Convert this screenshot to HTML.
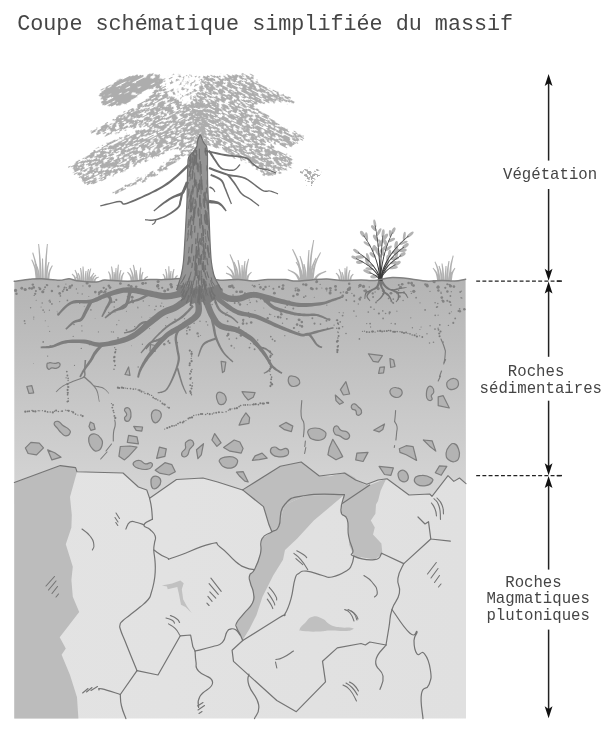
<!DOCTYPE html>
<html><head><meta charset="utf-8"><title>Coupe</title>
<style>
html,body{margin:0;padding:0;background:#fff;}
body{width:609px;height:740px;overflow:hidden;font-family:"Liberation Mono",monospace;}
svg{display:block;}
text{font-family:"Liberation Mono",monospace;fill:#454545;white-space:pre;}
</style></head><body>
<svg width="609" height="740" viewBox="0 0 609 740">
<defs>
<linearGradient id="soilg" gradientUnits="userSpaceOnUse" x1="0" y1="279" x2="0" y2="504">
<stop offset="0" stop-color="#b4b4b4"/><stop offset="0.25" stop-color="#bcbcbc"/><stop offset="0.6" stop-color="#c9c9c9"/><stop offset="1" stop-color="#d6d6d6"/>
</linearGradient>
<linearGradient id="rockg" x1="0" y1="0" x2="1" y2="0">
<stop offset="0" stop-color="#e3e3e3"/><stop offset="1" stop-color="#e0e0e0"/>
</linearGradient>
<clipPath id="blk"><rect x="14.3" y="200" width="451.7" height="518.6"/></clipPath>
</defs>
<path d="M14.3 281.3 C16.9 281.0 25.2 279.7 29.7 279.3 C34.2 278.9 36.6 278.5 41.5 278.7 C46.4 278.9 54.7 280.3 59.3 280.3 C63.9 280.3 66.1 278.6 69.1 278.7 C72.0 278.8 72.4 280.2 77.0 280.7 C81.6 281.2 92.1 282.0 96.7 281.9 C101.3 281.8 100.7 280.0 104.6 279.9 C108.5 279.8 115.3 280.8 120.3 281.0 C125.3 281.2 129.9 281.2 134.8 281.0 C139.7 280.8 144.7 279.8 149.6 279.6 C154.5 279.4 159.1 279.8 164.3 279.6 C169.5 279.4 172.5 278.6 181.0 278.6 C189.5 278.6 208.9 279.3 215.5 279.6 C222.1 279.9 216.7 280.2 220.5 280.2 C224.3 280.2 232.8 279.5 238.2 279.6 C243.6 279.7 248.1 281.0 253.0 281.0 C257.9 281.0 262.4 279.8 267.8 279.6 C273.2 279.4 280.9 279.4 285.5 279.6 C290.1 279.9 291.3 281.1 295.6 281.1 C299.9 281.2 306.0 280.2 311.2 279.9 C316.4 279.5 321.6 278.9 326.8 279.0 C332.0 279.1 336.7 280.4 342.4 280.5 C348.1 280.6 355.9 279.9 361.1 279.9 C366.3 279.9 368.4 280.9 373.6 280.5 C378.8 280.1 386.1 277.9 392.3 277.6 C398.5 277.4 405.3 278.4 411.0 279.0 C416.7 279.6 421.4 280.9 426.6 281.1 C431.8 281.4 437.5 280.5 442.2 280.5 C446.9 280.5 450.8 281.3 454.7 281.1 C458.6 280.9 463.8 279.5 465.6 279.2 L466.0 504 L14.3 504 Z" fill="url(#soilg)"/>
<path d="M14.3 482.4 L60.3 465.6 L75.6 467.6 L77.0 471.8 L123.0 473.0 L138.4 487.0 L146.8 490.0 L149.6 498.3 L176.5 479.5 L203.0 478.0 L217.6 482.0 L242.6 489.9 L280.3 466.2 L301.2 462.0 L319.3 476.0 L344.5 473.0 L355.6 480.0 L366.8 484.3 L378.0 480.0 L387.0 478.7 L409.0 495.0 L429.7 494.0 L432.0 496.4 L448.0 475.7 L453.8 481.4 L459.5 478.0 L466.0 483.7 L466.0 718.6 L14.3 718.6Z" fill="url(#rockg)"/>
<path d="M14.3 482.4 L60.3 465.6 L75.6 467.6 L77.0 471.8 L70.0 496.9 L71.8 515.0 L71.4 527.6 L65.8 544.3 L72.8 566.7 L71.4 580.0 L72.8 596.8 L79.2 612.0 L59.7 637.2 L65.8 648.4 L61.6 654.8 L70.0 675.0 L77.0 697.3 L78.4 718.6 L14.3 718.6Z" fill="#bcbcbc"/>
<path d="M242.6 489.9 L280.3 466.2 L301.2 462.0 L319.3 476.0 L330.0 476.3 L345.5 472.3 L354.7 477.5 L358.0 481.0 L364.5 484.4 L369.7 485.0 L343.0 502.5 L344.4 494.7 L305.4 495.5 L284.4 505.0 L278.9 526.0 L271.9 531.8 L269.0 524.8 L263.5 506.6Z" fill="#bebebe"/>
<path d="M284.4 505.0 L305.4 495.5 L344.4 494.7 L313.8 520.6 L297.0 538.8 L285.0 549.9 L283.0 559.7 L273.2 575.5 L262.4 597.1 L256.5 614.9 L249.6 628.7 L243.6 638.5 L242.7 640.5 L239.7 633.6 L236.7 627.7 L236.7 622.8 L243.6 613.9 L252.5 603.0 L253.5 593.2 L250.5 583.3 L249.6 575.5 L254.5 569.6 L260.4 553.8 L262.0 538.8 L271.9 531.8 L278.9 526.0Z" fill="#bdbdbd"/>
<path d="M342.6 503.3 L369.7 485.0 L386.3 478.6 L380.6 490.7 L378.0 501.0 L376.0 504.5 L375.4 513.7 L370.8 520.4 L374.8 527.5 L373.0 534.6 L381.4 543.5 L382.5 553.9 L374.5 559.6 L353.8 556.1 L349.2 544.7 L348.0 521.7 L347.2 519.4 L341.0 511.4Z" fill="#bebebe"/>
<path d="M161.8 585.5 L172.2 583.6 L180.3 580.6 L183.7 583.3 L181.8 589.2 L183.2 599.6 L186.9 606.2 L191.7 612.9 L185.5 606.9 L181.0 604.7 L178.8 593.6 L177.3 587.0 L167.7 589.2 L167.0 586.6Z" fill="#c1c1c1"/>
<path d="M299.8 629.0 C300.4 626.9 301.6 626.3 305.0 623.0 C308.4 619.7 307.9 617.9 312.6 616.8 C317.3 615.7 317.8 616.7 322.5 618.8 C327.2 620.9 325.6 622.4 330.3 624.7 C335.0 627.0 334.5 626.5 340.0 627.3 C345.5 628.1 347.7 627.2 351.0 627.8 C354.3 628.4 354.1 628.6 352.5 629.5 C350.9 630.4 351.0 630.7 345.0 631.0 C339.0 631.3 337.1 630.4 330.0 630.6 C322.9 630.8 325.8 631.5 318.5 631.6 C311.2 631.7 307.8 631.7 302.8 631.0 C297.8 630.3 299.2 631.1 299.8 629.0Z" fill="#c0c0c0"/>
<path d="M14.3 482.4 L60.3 465.6 L75.6 467.6 L77.0 471.8 L123.0 473.0 L138.4 487.0 L146.8 490.0 L149.6 498.3 L176.5 479.5 L203.0 478.0 L217.6 482.0 L242.6 489.9 L280.3 466.2 L301.2 462.0 L319.3 476.0 L344.5 473.0 L355.6 480.0 L366.8 484.3 L378.0 480.0 L387.0 478.7 L409.0 495.0 L429.7 494.0 L432.0 496.4 L448.0 475.7 L453.8 481.4 L459.5 478.0 L466.0 483.7" fill="none" stroke="#747474" stroke-width="1.1" stroke-linecap="round" stroke-linejoin="round"/>
<path d="M242.6 489.9 L263.5 506.6 L269.0 524.8 L271.9 531.8" fill="none" stroke="#747474" stroke-width="1.2" stroke-linecap="round" stroke-linejoin="round"/>
<path d="M344.4 494.7 C334.0 494.9 321.4 492.8 305.4 495.5 C289.4 498.2 291.5 496.9 284.4 505.0 C277.3 513.1 282.2 518.9 278.9 526.0 C275.6 533.1 276.4 528.4 271.9 531.8 C267.4 535.2 265.1 532.9 262.0 538.8 C258.9 544.7 262.4 545.6 260.4 553.8 C258.4 562.0 257.4 563.8 254.5 569.6 C251.6 575.4 250.7 571.8 249.6 575.5 C248.5 579.2 249.5 578.6 250.5 583.3 C251.5 588.0 253.0 587.9 253.5 593.2 C254.0 598.5 255.1 597.5 252.5 603.0 C249.9 608.5 247.8 608.6 243.6 613.9 C239.4 619.2 238.5 619.1 236.7 622.8 C234.9 626.5 235.9 624.8 236.7 627.7 C237.5 630.6 238.1 630.2 239.7 633.6 C241.3 637.0 241.9 638.7 242.7 640.5" fill="none" stroke="#747474" stroke-width="1.2" stroke-linecap="round" stroke-linejoin="round"/>
<path d="M369.7 485.0 L342.6 503.3" fill="none" stroke="#747474" stroke-width="1.2" stroke-linecap="round" stroke-linejoin="round"/>
<path d="M344.4 494.7 C343.5 499.2 340.3 504.8 341.0 511.4 C341.7 518.0 345.2 512.8 347.2 519.4 C349.2 526.0 347.1 527.9 348.6 536.0 C350.1 544.1 351.4 544.5 352.8 549.9 C354.2 555.3 348.0 553.5 353.8 556.1 C359.6 558.7 367.1 560.3 374.5 559.6 C381.9 558.9 379.7 555.0 381.6 553.3" fill="none" stroke="#747474" stroke-width="1.2" stroke-linecap="round" stroke-linejoin="round"/>
<path d="M149.6 498.3 C150.1 500.9 150.8 502.4 151.5 508.0 C152.2 513.6 152.2 516.2 152.4 519.2" fill="none" stroke="#747474" stroke-width="1.2" stroke-linecap="round" stroke-linejoin="round"/>
<path d="M152.4 519.2 C150.2 520.7 144.6 522.1 144.0 524.8 C143.4 527.5 147.0 526.5 150.0 529.5 C153.0 532.5 154.0 532.4 155.2 536.0 C156.4 539.6 154.9 539.3 154.5 543.0 C154.1 546.7 153.7 545.2 153.8 550.0 C153.9 554.8 154.6 555.1 155.0 561.0 C155.4 566.9 155.5 566.1 155.2 572.0 C154.9 577.9 154.9 577.4 153.8 583.0 C152.7 588.6 152.7 588.6 151.2 593.0 C149.7 597.4 151.2 595.8 148.2 599.5 C145.2 603.2 144.9 602.9 140.0 607.0 C135.1 611.1 134.7 611.3 130.0 615.0 C125.3 618.7 125.2 618.3 122.5 621.0 C119.8 623.7 120.5 622.6 120.0 625.0 C119.5 627.4 119.3 625.7 120.6 630.0 C121.9 634.3 122.2 634.1 125.0 641.0 C127.8 647.9 127.8 648.1 131.0 656.0 C134.2 663.9 135.4 666.8 137.0 670.7" fill="none" stroke="#747474" stroke-width="1.2" stroke-linecap="round" stroke-linejoin="round"/>
<path d="M137.0 670.7 L120.3 694.5" fill="none" stroke="#747474" stroke-width="1.2" stroke-linecap="round" stroke-linejoin="round"/>
<path d="M120.3 694.5 C120.6 697.6 120.0 699.6 121.5 706.0 C123.0 712.4 124.7 715.2 125.9 718.6" fill="none" stroke="#747474" stroke-width="1.2" stroke-linecap="round" stroke-linejoin="round"/>
<path d="M144.0 524.8 C142.1 524.2 140.7 523.2 137.0 522.5 C133.3 521.8 133.0 520.3 130.0 522.0 C127.0 523.7 127.0 527.1 125.9 529.0" fill="none" stroke="#747474" stroke-width="1.2" stroke-linecap="round" stroke-linejoin="round"/>
<path d="M137.0 670.7 L158.0 675.0 L180.3 635.8" fill="none" stroke="#747474" stroke-width="1.2" stroke-linecap="round" stroke-linejoin="round"/>
<path d="M120.3 694.5 C115.4 693.0 107.7 690.1 102.0 688.9 C96.3 687.7 99.8 689.7 99.0 690.0" fill="none" stroke="#747474" stroke-width="1.2" stroke-linecap="round" stroke-linejoin="round"/>
<path d="M153.8 550.0 C157.1 552.0 160.6 555.6 166.3 557.5 C172.0 559.4 163.4 560.5 175.0 557.0 C186.6 553.5 197.8 546.9 209.8 544.2 C221.8 541.5 213.1 542.2 220.0 546.9 C226.9 551.6 229.0 556.2 235.8 561.7 C242.6 567.2 240.6 565.5 245.6 567.6 C250.6 569.7 252.1 569.1 254.5 569.6" fill="none" stroke="#747474" stroke-width="1.2" stroke-linecap="round" stroke-linejoin="round"/>
<path d="M240.0 635.0 C238.9 633.6 238.2 631.4 235.7 629.8 C233.2 628.2 232.9 628.5 230.5 629.1 C228.1 629.7 229.0 628.6 226.8 632.1 C224.6 635.6 226.3 638.5 222.4 642.4 C218.5 646.3 219.4 644.5 212.1 646.8 C204.8 649.1 199.6 649.9 195.1 651.0" fill="none" stroke="#747474" stroke-width="1.2" stroke-linecap="round" stroke-linejoin="round"/>
<path d="M195.1 651.0 L192.9 646.8 L190.6 635.0 L180.3 635.8" fill="none" stroke="#747474" stroke-width="1.2" stroke-linecap="round" stroke-linejoin="round"/>
<path d="M195.1 651.0 C195.3 653.9 195.1 656.6 196.0 662.0 C196.9 667.4 194.2 665.8 198.6 671.2 C203.0 676.6 212.2 675.7 212.6 682.4 C213.0 689.1 203.7 689.6 200.0 696.3 C196.3 703.0 199.0 704.5 198.6 707.5" fill="none" stroke="#747474" stroke-width="1.2" stroke-linecap="round" stroke-linejoin="round"/>
<path d="M242.7 640.5 C252.4 634.4 267.8 624.9 279.1 617.8 C290.4 610.7 281.9 618.9 285.0 613.9 C288.1 608.9 288.3 608.3 290.9 599.1 C293.5 589.9 292.8 586.2 294.9 579.4 C297.0 572.6 295.7 575.7 298.8 573.5 C301.9 571.3 300.4 570.6 306.7 571.1 C313.0 571.6 315.8 573.9 322.5 575.5 C329.2 577.1 325.7 578.2 332.0 577.0 C338.3 575.8 341.0 574.2 346.2 571.0 C351.4 567.8 349.5 569.0 351.5 565.0 C353.5 561.0 353.2 558.5 353.8 556.1" fill="none" stroke="#747474" stroke-width="1.2" stroke-linecap="round" stroke-linejoin="round"/>
<path d="M242.7 640.5 L232.1 650.3 L233.5 661.4 L276.8 700.5 L296.3 711.7 L325.5 681.9 L322.5 661.2 L337.3 647.9 L361.0 643.5 L365.4 645.0 L369.8 642.0 L386.0 645.0" fill="none" stroke="#747474" stroke-width="1.2" stroke-linecap="round" stroke-linejoin="round"/>
<path d="M248.9 674.0 C248.9 677.0 246.3 677.0 248.9 685.2 C251.5 693.4 257.1 695.8 258.6 704.7 C260.1 713.6 255.6 714.9 254.5 718.6" fill="none" stroke="#747474" stroke-width="1.2" stroke-linecap="round" stroke-linejoin="round"/>
<path d="M403.8 563.6 C402.2 567.5 399.1 570.5 397.9 578.4 C396.7 586.3 401.0 584.9 399.4 593.2 C397.8 601.5 394.8 600.5 392.0 609.5 C389.2 618.5 390.6 617.5 389.0 627.0 C387.4 636.5 386.8 640.2 386.0 645.0" fill="none" stroke="#747474" stroke-width="1.2" stroke-linecap="round" stroke-linejoin="round"/>
<path d="M381.6 553.3 L403.8 563.6 L430.8 539.0" fill="none" stroke="#747474" stroke-width="1.2" stroke-linecap="round" stroke-linejoin="round"/>
<path d="M392.0 609.5 C396.7 615.8 403.0 627.1 409.7 633.0 C416.4 638.9 415.9 629.6 417.0 631.6 C418.1 633.6 414.0 634.6 414.0 640.5 C414.0 646.4 414.2 650.3 417.0 653.8 C419.8 657.3 420.9 649.5 424.5 653.8 C428.1 658.1 429.2 661.7 430.4 670.0 C431.6 678.3 431.3 678.5 428.9 684.8 C426.5 691.1 423.1 684.7 421.5 693.7 C419.9 702.7 422.6 712.0 423.0 718.6" fill="none" stroke="#747474" stroke-width="1.2" stroke-linecap="round" stroke-linejoin="round"/>
<path d="M386.0 645.0 C383.3 649.3 376.5 652.9 375.7 661.2 C374.9 669.5 381.9 668.5 383.0 676.0 C384.1 683.5 380.8 685.8 380.0 689.3" fill="none" stroke="#747474" stroke-width="1.2" stroke-linecap="round" stroke-linejoin="round"/>
<path d="M418.0 517.0 L425.0 524.0 L428.5 521.7 L430.8 539.0 L450.3 541.2" fill="none" stroke="#747474" stroke-width="1.2" stroke-linecap="round" stroke-linejoin="round"/>
<path d="M116.0 513.0 L119.5 518.5" stroke="#747474" stroke-width="1.1" stroke-linecap="round" fill="none"/>
<path d="M115.0 517.5 L118.0 522.0" stroke="#747474" stroke-width="1.1" stroke-linecap="round" fill="none"/>
<path d="M115.8 522.5 L117.8 525.5" stroke="#747474" stroke-width="1.1" stroke-linecap="round" fill="none"/>
<path d="M82.0 529.0 C84.7 531.3 86.1 530.9 90.0 536.0 C93.9 541.1 93.0 539.6 93.8 544.3 C94.6 549.0 92.9 548.1 92.4 550.0" fill="none" stroke="#747474" stroke-width="1.1" stroke-linecap="round"/>
<path d="M46.0 586.0 L54.5 576.5" stroke="#747474" stroke-width="1.1" stroke-linecap="round" fill="none"/>
<path d="M48.5 590.0 L56.0 581.0" stroke="#747474" stroke-width="1.1" stroke-linecap="round" fill="none"/>
<path d="M52.0 593.5 L57.5 586.5" stroke="#747474" stroke-width="1.1" stroke-linecap="round" fill="none"/>
<path d="M56.0 597.0 L58.5 594.0" stroke="#747474" stroke-width="1.1" stroke-linecap="round" fill="none"/>
<path d="M82.6 693.0 L88.0 688.5" stroke="#747474" stroke-width="1.1" stroke-linecap="round" fill="none"/>
<path d="M86.5 692.0 L92.0 687.5" stroke="#747474" stroke-width="1.1" stroke-linecap="round" fill="none"/>
<path d="M91.0 690.5 L97.5 686.5" stroke="#747474" stroke-width="1.1" stroke-linecap="round" fill="none"/>
<path d="M210.9 578.1 L221.2 591.4" stroke="#747474" stroke-width="1.1" stroke-linecap="round" fill="none"/>
<path d="M209.1 583.6 L218.3 594.4" stroke="#747474" stroke-width="1.1" stroke-linecap="round" fill="none"/>
<path d="M209.8 591.9 L215.8 598.1" stroke="#747474" stroke-width="1.1" stroke-linecap="round" fill="none"/>
<path d="M207.9 596.3 L212.1 601.3" stroke="#747474" stroke-width="1.1" stroke-linecap="round" fill="none"/>
<path d="M206.9 603.2 L209.1 605.5" stroke="#747474" stroke-width="1.1" stroke-linecap="round" fill="none"/>
<path d="M166.0 618.0 C168.1 618.7 169.4 618.5 172.2 620.2 C175.0 621.9 173.7 622.2 174.5 623.2" fill="none" stroke="#747474" stroke-width="1.1" stroke-linecap="round"/>
<path d="M170.4 615.5 C172.5 616.6 173.5 616.5 176.6 618.8 C179.7 621.1 178.6 621.3 179.6 622.5" fill="none" stroke="#747474" stroke-width="1.1" stroke-linecap="round"/>
<path d="M168.5 623.9 C170.7 625.4 171.4 624.7 175.1 628.4 C178.8 632.1 178.1 632.8 179.6 635.0" fill="none" stroke="#747474" stroke-width="1.1" stroke-linecap="round"/>
<path d="M197.5 706.0 L203.0 702.5" stroke="#747474" stroke-width="1.1" stroke-linecap="round" fill="none"/>
<path d="M198.0 710.0 L204.5 705.5" stroke="#747474" stroke-width="1.1" stroke-linecap="round" fill="none"/>
<path d="M199.0 713.5 L202.0 711.5" stroke="#747474" stroke-width="1.1" stroke-linecap="round" fill="none"/>
<path d="M293.9 553.4 C296.2 555.5 296.2 554.3 300.8 559.7 C305.4 565.1 305.4 566.3 307.7 569.6" fill="none" stroke="#747474" stroke-width="1.1" stroke-linecap="round"/>
<path d="M296.8 550.8 C299.1 552.1 300.4 552.5 303.7 554.8 C307.0 557.1 305.7 556.7 306.7 557.7" fill="none" stroke="#747474" stroke-width="1.1" stroke-linecap="round"/>
<path d="M295.9 558.7 L302.8 564.6" fill="none" stroke="#747474" stroke-width="1.1" stroke-linecap="round"/>
<path d="M269.3 587.3 C271.3 589.9 272.7 591.0 275.2 595.2 C277.7 599.4 276.2 598.4 276.7 600.0" fill="none" stroke="#747474" stroke-width="1.1" stroke-linecap="round"/>
<path d="M267.9 592.8 C269.7 595.5 270.9 596.9 273.2 601.0 C275.5 605.1 274.3 603.7 274.8 605.0" fill="none" stroke="#747474" stroke-width="1.1" stroke-linecap="round"/>
<path d="M267.3 599.1 C268.6 601.1 269.4 601.8 271.2 605.0 C273.0 608.2 272.3 607.4 272.8 608.6" fill="none" stroke="#747474" stroke-width="1.1" stroke-linecap="round"/>
<path d="M363.9 575.5 C366.6 577.7 367.6 576.6 372.0 582.0 C376.4 587.4 376.4 586.7 377.2 591.7 C378.0 596.7 375.4 595.2 374.5 597.0" fill="none" stroke="#747474" stroke-width="1.1" stroke-linecap="round"/>
<path d="M344.7 609.5 C346.5 610.7 346.9 609.2 350.0 613.0 C353.1 616.8 352.7 618.3 354.0 621.0" fill="none" stroke="#747474" stroke-width="1.1" stroke-linecap="round"/>
<path d="M348.0 609.5 C349.8 610.7 350.5 609.5 353.5 613.0 C356.5 616.5 355.8 617.7 357.0 620.0" fill="none" stroke="#747474" stroke-width="1.1" stroke-linecap="round"/>
<path d="M351.0 611.0 C352.5 612.2 353.2 611.8 355.5 614.5 C357.8 617.2 357.2 617.5 358.0 619.0" fill="none" stroke="#747474" stroke-width="1.1" stroke-linecap="round"/>
<path d="M427.5 574.0 L436.3 562.5" stroke="#747474" stroke-width="1.1" stroke-linecap="round" fill="none"/>
<path d="M431.0 578.0 L438.0 568.5" stroke="#747474" stroke-width="1.1" stroke-linecap="round" fill="none"/>
<path d="M434.5 582.5 L439.5 575.5" stroke="#747474" stroke-width="1.1" stroke-linecap="round" fill="none"/>
<path d="M438.5 587.0 L441.0 584.0" stroke="#747474" stroke-width="1.1" stroke-linecap="round" fill="none"/>
<path d="M343.0 685.0 C345.3 686.7 345.5 684.7 350.0 690.0 C354.5 695.3 354.3 697.3 356.5 701.0" fill="none" stroke="#747474" stroke-width="1.1" stroke-linecap="round"/>
<path d="M346.0 683.0 C348.0 684.5 348.2 683.5 352.0 687.5 C355.8 691.5 355.7 692.5 357.5 695.0" fill="none" stroke="#747474" stroke-width="1.1" stroke-linecap="round"/>
<path d="M349.5 682.0 C351.2 683.2 351.5 682.5 354.5 685.5 C357.5 688.5 357.2 689.2 358.5 691.0" fill="none" stroke="#747474" stroke-width="1.1" stroke-linecap="round"/>
<path d="M434.0 498.7 C435.7 501.1 436.8 499.1 439.0 506.0 C441.2 512.9 440.0 514.9 440.5 519.4" fill="none" stroke="#747474" stroke-width="1.1" stroke-linecap="round"/>
<path d="M437.0 498.0 C438.7 500.3 439.8 499.7 442.0 505.0 C444.2 510.3 443.0 511.0 443.5 514.0" fill="none" stroke="#747474" stroke-width="1.1" stroke-linecap="round"/>
<path d="M431.5 503.0 C432.7 505.0 433.3 504.7 435.0 509.0 C436.7 513.3 436.0 513.7 436.5 516.0" fill="none" stroke="#747474" stroke-width="1.1" stroke-linecap="round"/>
<path d="M275.9 659.5 C278.3 658.8 277.1 660.3 283.0 657.5 C288.9 654.7 290.0 653.2 293.5 651.0" fill="none" stroke="#747474" stroke-width="1.1" stroke-linecap="round"/>
<path d="M275.5 662.0 L276.8 668.0" stroke="#747474" stroke-width="1.1" stroke-linecap="round" fill="none"/>
<g id="pebbles" fill="#b3b3b3" stroke="#7e7e7e" stroke-width="1.2" stroke-linejoin="round">
<path d="M216.9 394.0 C218.0 391.7 219.3 391.8 221.6 392.6 C224.0 393.3 224.9 394.1 225.8 396.8 C226.8 399.4 226.6 400.2 225.3 402.3 C223.9 404.4 222.9 404.9 220.8 404.6 C218.7 404.2 218.5 403.8 217.5 400.9 C216.4 398.1 215.8 396.2 216.9 394.0Z"/>
<path d="M242.0 391.7 L255.1 392.6 L253.2 397.3 L248.2 400.1 L244.8 396.2Z"/>
<path d="M245.9 412.9 L249.6 417.7 L249.0 423.3 L239.0 425.2 L242.0 418.5Z"/>
<path d="M279.4 426.1 L285.9 422.4 L292.8 426.1 L291.4 431.6 L284.5 429.7Z"/>
<path d="M308.2 430.3 C309.8 428.2 311.2 428.0 315.2 428.0 C319.1 428.0 320.2 428.3 323.0 430.3 C325.8 432.2 326.4 432.7 325.8 435.3 C325.2 437.9 324.3 439.0 320.8 440.0 C317.2 441.1 315.5 440.3 312.4 439.2 C309.3 438.1 310.1 438.2 309.0 435.8 C307.9 433.5 306.6 432.3 308.2 430.3Z"/>
<path d="M214.7 433.6 L221.1 442.8 L216.9 446.4 L211.9 440.0Z"/>
<path d="M186.2 442.0 C187.7 440.7 188.9 439.6 190.9 440.0 C192.9 440.5 193.5 441.8 193.7 443.7 C194.0 445.5 192.9 445.4 191.8 447.0 C190.7 448.6 190.7 447.6 189.5 449.8 C188.4 452.0 188.9 453.5 187.3 455.4 C185.7 457.2 184.9 457.4 183.4 456.8 C181.9 456.2 181.2 455.4 181.7 453.1 C182.2 450.9 184.4 450.6 185.4 448.4 C186.3 446.2 185.1 446.5 185.4 444.8 C185.6 443.1 184.7 443.2 186.2 442.0Z"/>
<path d="M203.5 443.7 L201.3 454.8 L197.9 458.7 L196.5 449.8Z"/>
<path d="M223.6 447.6 L234.2 440.0 L239.8 442.0 L243.1 448.4 L241.2 453.1 L230.0 451.2Z"/>
<path d="M219.7 459.6 C221.4 457.7 223.0 457.1 227.2 456.8 C231.5 456.4 233.0 456.3 235.6 458.2 C238.2 460.0 238.0 461.1 237.0 463.8 C236.0 466.4 235.3 467.0 232.0 467.9 C228.6 468.8 227.4 468.2 224.4 467.1 C221.5 466.0 222.1 465.8 220.8 463.8 C219.5 461.7 218.0 461.4 219.7 459.6Z"/>
<path d="M252.4 460.4 L255.1 455.9 L262.1 453.1 L267.2 458.2 L259.3 459.6Z"/>
<path d="M270.5 449.8 C271.0 447.7 272.1 447.0 274.7 447.0 C277.3 447.0 277.3 449.4 280.3 449.8 C283.3 450.2 283.6 447.8 285.9 448.4 C288.1 449.0 288.6 450.0 288.6 452.0 C288.6 454.0 288.5 454.7 285.9 455.9 C283.3 457.2 282.4 457.1 278.9 456.8 C275.4 456.5 275.0 456.7 272.7 454.8 C270.5 453.0 270.0 451.9 270.5 449.8Z"/>
<path d="M236.4 472.1 L243.1 471.6 L248.2 481.9 L244.8 481.1 L239.8 476.3Z"/>
<path d="M288.6 377.8 C289.4 375.4 290.4 375.9 292.8 376.1 C295.3 376.2 296.0 376.5 297.9 378.3 C299.7 380.1 300.4 380.7 299.8 382.8 C299.2 384.9 298.2 385.5 295.6 386.1 C293.0 386.7 291.9 387.3 290.0 385.0 C288.2 382.8 287.9 380.1 288.6 377.8Z"/>
<path d="M46.9 365.0 C47.0 363.3 47.0 363.2 49.1 362.8 C51.2 362.3 52.1 363.4 54.7 363.4 C57.3 363.4 57.5 362.0 58.9 362.8 C60.2 363.5 60.4 364.7 59.7 366.1 C58.9 367.6 58.1 367.9 56.1 368.4 C54.0 368.8 53.9 367.6 51.9 367.8 C49.9 368.0 49.9 370.0 48.5 369.2 C47.2 368.5 46.7 366.7 46.9 365.0Z"/>
<path d="M26.8 386.5 L31.8 385.7 L33.7 392.9 L29.0 393.5Z"/>
<path d="M54.1 423.7 C54.3 421.8 55.6 420.9 58.0 421.4 C60.4 421.9 60.2 423.5 63.0 425.6 C65.9 427.7 66.8 427.2 68.6 429.2 C70.5 431.2 70.8 431.4 70.0 433.1 C69.3 434.9 68.1 435.9 65.8 435.9 C63.6 435.9 63.9 435.2 61.6 433.1 C59.4 431.1 59.5 430.9 57.5 428.4 C55.4 425.9 54.0 425.5 54.1 423.7Z"/>
<path d="M25.4 447.9 L30.9 442.4 L39.3 443.2 L43.5 447.9 L36.5 454.9 L28.1 453.5Z"/>
<path d="M47.7 449.9 L54.7 452.7 L61.1 457.2 L51.9 459.9Z"/>
<path d="M90.4 422.0 L93.8 423.7 L95.1 429.2 L91.0 430.4 L89.0 426.4Z"/>
<path d="M89.6 435.9 C91.2 433.7 92.2 433.4 95.1 434.0 C98.1 434.6 98.9 435.2 100.7 438.2 C102.6 441.1 102.9 441.8 102.1 445.1 C101.4 448.5 100.5 449.8 97.9 450.7 C95.3 451.7 94.7 451.0 92.4 448.8 C90.0 446.5 89.8 445.8 89.0 442.4 C88.3 438.9 87.9 438.2 89.6 435.9Z"/>
<path d="M128.6 367.0 L130.0 375.4 L125.0 374.5Z"/>
<path d="M124.5 409.7 C125.0 408.0 126.9 407.1 128.6 408.0 C130.4 408.9 130.5 410.1 130.9 413.0 C131.3 416.0 131.2 417.0 130.0 419.2 C128.9 421.4 128.2 421.7 126.7 421.4 C125.2 421.1 124.5 419.9 124.5 418.1 C124.5 416.2 126.7 416.7 126.7 414.4 C126.7 412.2 123.9 411.4 124.5 409.7Z"/>
<path d="M152.4 411.6 C154.0 409.4 155.6 409.5 158.0 410.3 C160.3 411.0 160.9 411.8 161.3 414.4 C161.7 417.0 161.0 417.8 159.4 420.0 C157.7 422.3 157.2 423.2 155.2 422.8 C153.2 422.4 152.6 421.6 151.8 418.6 C151.1 415.6 150.7 413.9 152.4 411.6Z"/>
<path d="M133.7 426.4 L142.6 427.0 L141.8 431.2 L136.2 430.4Z"/>
<path d="M128.6 435.4 L137.0 436.8 L138.4 443.8 L127.3 442.4Z"/>
<path d="M120.3 446.5 L130.0 446.0 L137.0 447.1 L128.6 456.3 L124.5 459.9 L118.9 456.3Z"/>
<path d="M134.2 461.9 C135.9 460.6 136.8 460.0 139.8 460.5 C142.8 461.0 142.4 463.3 145.4 463.9 C148.4 464.4 149.3 462.0 151.0 462.7 C152.7 463.5 152.9 464.9 151.8 466.6 C150.7 468.4 150.4 469.0 146.8 469.4 C143.2 469.9 141.9 469.4 138.4 468.3 C134.9 467.3 134.8 467.2 133.7 465.5 C132.6 463.8 132.6 463.2 134.2 461.9Z"/>
<path d="M159.4 447.1 L166.3 448.8 L164.9 456.3 L156.6 458.3Z"/>
<path d="M155.2 470.3 L164.9 462.7 L171.9 464.7 L175.3 471.7 L169.1 475.0 L159.4 473.1Z"/>
<path d="M152.4 477.3 C154.2 475.6 155.7 475.6 158.0 476.7 C160.2 477.8 160.8 478.7 160.8 481.4 C160.8 484.2 160.0 485.2 158.0 487.0 C155.9 488.9 154.8 489.5 152.9 488.4 C151.1 487.3 151.1 485.8 151.0 482.8 C150.8 479.9 150.5 478.9 152.4 477.3Z"/>
<path d="M379.9 367.4 L384.5 366.9 L383.5 372.8 L378.6 373.5Z"/>
<path d="M345.9 381.7 L349.6 394.0 L343.4 395.0 L340.4 389.6Z"/>
<path d="M335.3 395.0 L343.4 402.4 L339.7 404.3 L336.0 400.6Z"/>
<path d="M351.5 405.6 C352.2 404.3 352.7 403.5 354.5 403.8 C356.3 404.2 356.3 405.0 358.2 406.8 C360.0 408.6 360.7 408.5 361.4 410.5 C362.0 412.5 361.8 413.1 360.6 414.2 C359.5 415.3 358.3 415.7 356.9 414.7 C355.6 413.7 357.0 412.1 355.7 410.5 C354.4 408.9 353.1 410.1 352.0 408.8 C350.9 407.5 350.9 406.9 351.5 405.6Z"/>
<path d="M390.9 389.1 C392.6 387.6 393.5 387.1 396.4 387.6 C399.2 388.0 400.8 388.4 401.8 390.8 C402.8 393.2 402.2 394.8 400.0 396.5 C397.9 398.1 396.5 397.8 393.9 396.9 C391.3 396.1 391.0 395.4 390.2 393.3 C389.4 391.1 389.3 390.6 390.9 389.1Z"/>
<path d="M427.9 387.6 C429.4 385.3 430.5 385.9 432.1 387.1 C433.6 388.3 434.0 389.7 433.8 392.0 C433.6 394.3 431.8 393.7 431.3 395.7 C430.9 397.7 432.9 398.3 432.1 399.4 C431.3 400.5 429.9 400.9 428.4 399.9 C426.9 398.9 426.5 399.0 426.4 395.7 C426.3 392.4 426.4 389.9 427.9 387.6Z"/>
<path d="M448.1 380.9 C450.0 379.2 451.5 378.0 454.2 378.5 C457.0 378.9 458.0 380.0 458.4 382.7 C458.9 385.3 458.4 386.6 456.0 388.3 C453.5 390.0 451.7 389.9 449.3 389.1 C446.9 388.2 447.2 387.3 446.8 385.1 C446.5 383.0 446.1 382.7 448.1 380.9Z"/>
<path d="M438.2 396.9 L443.2 395.7 L449.3 408.0 L438.2 405.6Z"/>
<path d="M373.7 430.2 L384.5 424.0 L382.8 429.5 L379.1 431.9Z"/>
<path d="M333.5 428.5 C334.2 426.4 335.3 425.6 337.2 426.0 C339.2 426.5 338.3 428.6 340.9 430.2 C343.6 431.8 344.8 430.3 347.1 431.9 C349.4 433.6 349.9 434.4 349.6 436.4 C349.2 438.3 348.5 439.4 345.9 439.3 C343.2 439.2 342.7 437.3 339.7 435.9 C336.7 434.4 336.4 435.9 334.8 433.9 C333.1 431.9 332.9 430.6 333.5 428.5Z"/>
<path d="M332.8 439.3 L338.5 448.7 L342.7 456.6 L336.0 459.8 L327.9 454.8 L329.4 447.4Z"/>
<path d="M356.9 453.1 L368.0 452.4 L363.1 461.5 L355.7 459.8Z"/>
<path d="M399.3 448.7 L406.2 445.7 L413.1 446.7 L416.6 460.5 L406.2 454.8 L400.0 452.4Z"/>
<path d="M423.4 440.0 L432.1 440.8 L435.8 451.1 L429.6 446.2Z"/>
<path d="M449.3 446.2 C451.5 443.7 451.8 443.1 454.2 443.7 C456.7 444.4 457.1 445.3 458.4 448.7 C459.7 452.1 460.1 453.1 459.2 456.6 C458.2 460.0 457.8 460.6 455.0 461.5 C452.2 462.3 450.9 462.0 448.6 459.8 C446.2 457.5 445.9 456.7 446.1 453.1 C446.3 449.5 447.1 448.7 449.3 446.2Z"/>
<path d="M379.1 466.4 L393.4 467.9 L390.9 475.3 L384.5 474.5Z"/>
<path d="M398.8 472.1 C400.3 470.5 401.2 469.4 403.7 470.3 C406.2 471.3 407.5 472.9 408.2 475.8 C408.8 478.7 408.2 479.9 406.2 481.2 C404.2 482.5 402.9 482.0 400.8 480.7 C398.7 479.4 398.9 478.6 398.3 476.3 C397.8 474.0 397.4 473.6 398.8 472.1Z"/>
<path d="M414.8 478.2 C416.1 475.8 417.9 475.4 422.2 475.3 C426.5 475.1 428.2 476.0 430.8 477.7 C433.5 479.5 433.4 479.8 432.1 481.9 C430.8 484.0 429.9 485.0 425.9 485.6 C422.0 486.3 420.2 486.4 417.3 484.4 C414.3 482.4 413.5 480.7 414.8 478.2Z"/>
<path d="M439.5 465.9 L446.8 466.4 L441.2 475.3 L435.3 472.8Z"/>
<path d="M368.4 353.8 L382.4 355.7 L378.2 362.2 L373.1 361.3Z"/>
<path d="M389.9 358.5 L393.6 360.0 L395.0 366.5 L390.7 367.5Z"/>
<path d="M150.5 344.5 L155.5 345.5 L155.0 351.5 L150.0 351.0Z"/>
<path d="M221.1 361.4 L225.8 362.2 L224.4 371.2 L222.5 372.6Z"/>
</g>
<g fill="#7b7b7b"><circle cx="25.3" cy="411.7" r="1.11"/><circle cx="27.5" cy="411.4" r="0.92"/><circle cx="29.2" cy="411.3" r="0.94"/><circle cx="32.1" cy="410.5" r="0.76"/><circle cx="33.2" cy="411.3" r="0.98"/><circle cx="35.3" cy="411.4" r="1.13"/><circle cx="38.2" cy="410.7" r="0.68"/><circle cx="39.7" cy="410.8" r="0.63"/><circle cx="42.4" cy="410.7" r="0.61"/><circle cx="45.1" cy="411.3" r="1.06"/><circle cx="47.6" cy="411.9" r="0.87"/><circle cx="50.2" cy="411.9" r="0.75"/><circle cx="52.8" cy="412.4" r="1.06"/><circle cx="54.5" cy="411.2" r="0.72"/><circle cx="56.1" cy="410.6" r="1.02"/><circle cx="58.4" cy="411.5" r="0.81"/><circle cx="61.3" cy="411.2" r="0.60"/><circle cx="62.3" cy="411.1" r="0.85"/><circle cx="65.5" cy="410.1" r="0.64"/><circle cx="67.2" cy="410.4" r="0.74"/><circle cx="68.7" cy="410.8" r="1.13"/><circle cx="71.9" cy="411.5" r="0.73"/><circle cx="73.2" cy="412.4" r="1.04"/><circle cx="75.5" cy="414.1" r="0.84"/><circle cx="77.9" cy="415.1" r="0.67"/><circle cx="80.9" cy="415.1" r="0.83"/><circle cx="82.6" cy="416.1" r="1.13"/></g>
<g fill="#7b7b7b"><circle cx="117.9" cy="387.7" r="1.08"/><circle cx="119.2" cy="388.0" r="1.07"/><circle cx="121.9" cy="387.6" r="1.14"/><circle cx="123.4" cy="388.0" r="1.02"/><circle cx="125.7" cy="388.1" r="0.64"/><circle cx="127.4" cy="388.6" r="0.73"/><circle cx="130.5" cy="388.6" r="0.85"/><circle cx="133.4" cy="389.1" r="0.91"/><circle cx="135.7" cy="389.0" r="0.68"/><circle cx="138.2" cy="390.1" r="0.73"/><circle cx="139.6" cy="390.3" r="1.11"/><circle cx="141.5" cy="391.6" r="1.08"/><circle cx="143.9" cy="391.9" r="0.65"/><circle cx="145.0" cy="393.6" r="0.73"/><circle cx="147.8" cy="393.7" r="1.05"/><circle cx="149.5" cy="394.7" r="0.69"/><circle cx="151.6" cy="395.4" r="0.72"/><circle cx="153.2" cy="397.5" r="0.93"/><circle cx="154.7" cy="398.6" r="0.71"/><circle cx="156.0" cy="398.9" r="0.84"/><circle cx="157.8" cy="400.0" r="0.80"/><circle cx="160.3" cy="401.1" r="0.80"/><circle cx="162.4" cy="403.5" r="0.96"/><circle cx="163.9" cy="404.2" r="0.67"/><circle cx="164.7" cy="404.6" r="1.10"/><circle cx="167.3" cy="407.1" r="0.61"/><circle cx="169.0" cy="407.7" r="1.00"/></g>
<g fill="#7b7b7b"><circle cx="164.7" cy="429.1" r="0.64"/><circle cx="167.2" cy="428.0" r="1.09"/><circle cx="169.6" cy="427.1" r="1.03"/><circle cx="172.0" cy="425.9" r="0.97"/><circle cx="174.1" cy="425.8" r="0.83"/><circle cx="176.1" cy="425.1" r="0.91"/><circle cx="178.0" cy="423.6" r="0.92"/><circle cx="180.2" cy="422.4" r="0.95"/><circle cx="182.7" cy="422.6" r="1.00"/><circle cx="183.8" cy="421.4" r="0.92"/><circle cx="185.9" cy="420.6" r="0.64"/><circle cx="188.4" cy="418.5" r="0.93"/><circle cx="190.0" cy="417.8" r="0.98"/><circle cx="192.0" cy="417.4" r="1.10"/><circle cx="193.7" cy="415.6" r="0.76"/><circle cx="196.2" cy="414.9" r="0.69"/><circle cx="198.6" cy="414.6" r="0.84"/><circle cx="200.9" cy="414.0" r="0.96"/><circle cx="202.2" cy="414.0" r="1.04"/><circle cx="205.6" cy="414.5" r="0.81"/><circle cx="207.4" cy="413.5" r="0.67"/><circle cx="209.7" cy="414.1" r="1.06"/><circle cx="212.3" cy="414.1" r="0.75"/><circle cx="213.8" cy="413.1" r="0.75"/><circle cx="216.2" cy="412.7" r="0.94"/><circle cx="218.9" cy="412.3" r="1.06"/><circle cx="221.9" cy="412.2" r="0.64"/><circle cx="222.8" cy="412.4" r="0.62"/><circle cx="226.1" cy="411.7" r="0.77"/><circle cx="228.4" cy="410.2" r="0.67"/><circle cx="230.1" cy="409.4" r="1.05"/><circle cx="232.0" cy="408.8" r="0.62"/><circle cx="234.7" cy="408.5" r="0.94"/><circle cx="236.9" cy="408.2" r="1.12"/><circle cx="239.1" cy="406.6" r="0.86"/><circle cx="240.6" cy="405.5" r="0.86"/><circle cx="243.5" cy="405.0" r="0.75"/><circle cx="245.2" cy="405.0" r="0.88"/><circle cx="247.7" cy="404.9" r="0.81"/><circle cx="250.0" cy="405.0" r="0.64"/><circle cx="252.3" cy="404.7" r="0.67"/><circle cx="253.7" cy="404.4" r="1.10"/><circle cx="255.7" cy="404.2" r="1.08"/><circle cx="258.4" cy="404.6" r="0.85"/><circle cx="260.3" cy="403.3" r="0.99"/><circle cx="262.6" cy="403.5" r="0.99"/><circle cx="263.8" cy="403.6" r="1.14"/><circle cx="267.0" cy="402.7" r="1.03"/><circle cx="268.2" cy="402.9" r="1.07"/></g>
<g fill="#7b7b7b"><circle cx="66.8" cy="371.6" r="0.89"/><circle cx="67.4" cy="375.5" r="0.92"/><circle cx="66.1" cy="377.8" r="0.67"/><circle cx="68.1" cy="378.4" r="0.83"/><circle cx="68.1" cy="380.5" r="0.72"/><circle cx="67.5" cy="384.2" r="1.12"/><circle cx="68.0" cy="386.9" r="0.92"/><circle cx="68.7" cy="387.0" r="0.76"/><circle cx="67.6" cy="389.9" r="1.06"/><circle cx="67.8" cy="392.8" r="1.12"/><circle cx="67.6" cy="394.7" r="0.85"/><circle cx="68.2" cy="398.5" r="0.75"/><circle cx="68.2" cy="401.1" r="0.94"/><circle cx="67.4" cy="401.6" r="0.94"/></g>
<g fill="#7b7b7b"><circle cx="114.7" cy="347.7" r="0.65"/><circle cx="115.8" cy="349.5" r="0.86"/><circle cx="115.4" cy="351.8" r="0.92"/><circle cx="115.1" cy="352.6" r="0.95"/><circle cx="114.4" cy="356.9" r="1.17"/><circle cx="114.0" cy="357.8" r="0.70"/><circle cx="114.3" cy="360.8" r="1.16"/><circle cx="114.5" cy="361.7" r="0.74"/><circle cx="114.9" cy="365.5" r="0.71"/><circle cx="115.3" cy="365.4" r="0.74"/><circle cx="114.0" cy="369.3" r="0.82"/></g>
<g fill="#7b7b7b"><circle cx="111.5" cy="403.6" r="0.69"/><circle cx="113.0" cy="404.9" r="0.93"/><circle cx="112.3" cy="407.6" r="0.94"/><circle cx="113.3" cy="410.7" r="0.87"/><circle cx="113.9" cy="412.4" r="0.75"/><circle cx="114.4" cy="415.9" r="0.94"/><circle cx="115.3" cy="418.0" r="1.13"/></g>
<g fill="#7b7b7b"><circle cx="189.8" cy="350.6" r="1.10"/><circle cx="191.6" cy="351.8" r="0.81"/><circle cx="191.6" cy="353.8" r="1.21"/><circle cx="191.6" cy="355.9" r="0.77"/><circle cx="191.2" cy="358.5" r="0.69"/><circle cx="191.6" cy="361.2" r="1.09"/><circle cx="189.8" cy="363.4" r="1.03"/><circle cx="189.6" cy="365.2" r="1.03"/><circle cx="191.9" cy="369.4" r="0.70"/><circle cx="190.9" cy="371.1" r="0.92"/><circle cx="191.4" cy="371.9" r="0.67"/><circle cx="190.0" cy="373.8" r="0.95"/><circle cx="191.1" cy="377.4" r="0.72"/><circle cx="190.4" cy="378.8" r="1.12"/><circle cx="192.5" cy="382.9" r="0.69"/><circle cx="190.2" cy="385.2" r="0.90"/><circle cx="192.1" cy="385.9" r="0.90"/><circle cx="191.5" cy="388.4" r="0.98"/><circle cx="190.3" cy="391.4" r="1.12"/><circle cx="190.8" cy="393.0" r="1.06"/><circle cx="191.5" cy="394.7" r="0.73"/></g>
<g fill="#7b7b7b"><circle cx="270.0" cy="351.7" r="1.15"/><circle cx="270.7" cy="355.7" r="1.13"/><circle cx="270.2" cy="357.0" r="0.98"/><circle cx="269.8" cy="360.6" r="1.10"/><circle cx="269.1" cy="362.6" r="1.07"/><circle cx="270.4" cy="364.4" r="0.87"/><circle cx="270.7" cy="366.7" r="1.04"/><circle cx="270.3" cy="368.6" r="0.87"/><circle cx="270.1" cy="368.9" r="0.83"/><circle cx="269.7" cy="371.0" r="0.84"/><circle cx="270.5" cy="374.8" r="0.77"/><circle cx="271.6" cy="377.2" r="0.83"/><circle cx="271.2" cy="379.2" r="0.94"/><circle cx="270.8" cy="382.5" r="1.01"/><circle cx="271.9" cy="384.2" r="1.20"/><circle cx="270.4" cy="386.1" r="1.06"/></g>
<g fill="#7b7b7b"><circle cx="362.5" cy="331.3" r="0.62"/><circle cx="364.5" cy="331.2" r="0.65"/><circle cx="366.8" cy="332.0" r="0.90"/><circle cx="369.3" cy="332.1" r="0.91"/><circle cx="372.1" cy="331.6" r="1.04"/><circle cx="373.0" cy="331.6" r="1.01"/><circle cx="375.1" cy="332.1" r="0.68"/><circle cx="377.8" cy="331.0" r="0.87"/><circle cx="380.2" cy="330.9" r="1.12"/><circle cx="382.1" cy="331.5" r="0.93"/><circle cx="384.3" cy="331.1" r="0.96"/><circle cx="386.8" cy="331.0" r="0.99"/><circle cx="388.6" cy="330.6" r="0.73"/><circle cx="390.5" cy="330.7" r="1.01"/><circle cx="393.2" cy="331.7" r="1.01"/><circle cx="394.9" cy="331.8" r="1.12"/><circle cx="397.2" cy="331.6" r="0.83"/><circle cx="400.0" cy="331.7" r="0.73"/><circle cx="402.0" cy="332.3" r="0.99"/><circle cx="404.0" cy="333.0" r="1.05"/><circle cx="406.1" cy="332.5" r="0.94"/><circle cx="407.9" cy="333.3" r="0.62"/><circle cx="410.0" cy="333.8" r="0.84"/><circle cx="412.2" cy="334.9" r="0.74"/><circle cx="414.6" cy="335.3" r="1.02"/><circle cx="416.9" cy="336.5" r="1.12"/><circle cx="419.6" cy="335.8" r="0.66"/><circle cx="422.3" cy="337.0" r="0.94"/></g>
<g fill="#7b7b7b"><circle cx="337.3" cy="320.2" r="1.03"/><circle cx="337.9" cy="323.2" r="1.00"/><circle cx="338.5" cy="324.3" r="0.78"/><circle cx="339.1" cy="328.3" r="1.14"/><circle cx="336.8" cy="328.3" r="0.79"/><circle cx="337.8" cy="331.9" r="0.69"/><circle cx="338.2" cy="332.6" r="0.68"/><circle cx="338.6" cy="336.0" r="1.00"/><circle cx="337.9" cy="337.9" r="0.75"/><circle cx="337.7" cy="340.9" r="1.12"/><circle cx="337.0" cy="341.7" r="1.10"/><circle cx="338.3" cy="345.7" r="0.75"/><circle cx="337.7" cy="346.7" r="1.10"/><circle cx="337.5" cy="350.0" r="1.21"/><circle cx="337.3" cy="352.1" r="1.07"/></g>
<g fill="#7b7b7b"><circle cx="439.8" cy="324.8" r="0.85"/><circle cx="438.1" cy="328.3" r="0.68"/><circle cx="438.5" cy="329.8" r="0.91"/><circle cx="440.5" cy="331.5" r="1.08"/><circle cx="439.2" cy="333.6" r="1.02"/><circle cx="439.6" cy="336.2" r="1.05"/></g>
<path d="M114.7 420.0 C114.9 421.5 115.5 421.4 115.2 425.0 C114.9 428.6 114.2 427.2 113.6 432.0 C113.0 436.8 113.4 438.3 113.3 441.0" fill="none" stroke="#7b7b7b" stroke-width="1.1" stroke-linecap="round"/>
<path d="M111.5 444.0 L106.0 451.0" fill="none" stroke="#7b7b7b" stroke-width="1.1" stroke-linecap="round"/>
<path d="M107.0 452.0 L100.7 459.0" fill="none" stroke="#7b7b7b" stroke-width="1.1" stroke-linecap="round"/>
<path d="M441.0 339.0 C442.1 341.7 443.2 343.4 444.5 348.0 C445.8 352.6 445.4 349.5 445.2 354.3 C445.0 359.1 444.2 361.1 443.8 364.0" fill="none" stroke="#7b7b7b" stroke-width="1.1" stroke-linecap="round"/>
<path d="M445.6 359.5 L444.2 362.5" fill="none" stroke="#7b7b7b" stroke-width="1.1" stroke-linecap="round"/>
<path d="M441.5 371.0 L439.5 376.5" fill="none" stroke="#7b7b7b" stroke-width="1.1" stroke-linecap="round"/>
<path d="M440.5 376.0 L438.2 381.0" fill="none" stroke="#7b7b7b" stroke-width="1.1" stroke-linecap="round"/>
<path d="M301.8 400.5 C301.6 405.1 300.5 408.8 301.2 415.8 C301.9 422.9 303.3 417.7 304.0 424.0 C304.7 430.3 303.6 433.0 303.4 436.8" fill="none" stroke="#7b7b7b" stroke-width="1.1" stroke-linecap="round"/>
<path d="M305.4 441.0 L304.8 446.5" fill="none" stroke="#7b7b7b" stroke-width="1.1" stroke-linecap="round"/>
<path d="M305.8 447.5 L304.6 453.5" fill="none" stroke="#7b7b7b" stroke-width="1.1" stroke-linecap="round"/>
<path d="M395.6 410.5 C395.5 412.1 395.5 412.7 395.2 416.0 C394.9 419.3 394.8 419.9 394.6 421.6" fill="none" stroke="#7b7b7b" stroke-width="1.1" stroke-linecap="round"/>
<path d="M394.6 421.6 C395.3 423.1 396.4 423.1 397.0 426.5 C397.6 429.9 396.9 428.9 396.6 433.0 C396.3 437.1 396.1 437.9 395.9 440.0" fill="none" stroke="#7b7b7b" stroke-width="1.1" stroke-linecap="round"/>
<path d="M394.6 445.5 L394.3 447.5" fill="none" stroke="#7b7b7b" stroke-width="1.1" stroke-linecap="round"/>
<g fill="#828282"><circle cx="21.8" cy="288.3" r="1.43"/><circle cx="16.5" cy="293.7" r="1.21"/><circle cx="15.6" cy="290.4" r="1.59"/><circle cx="32.8" cy="284.6" r="1.21"/><circle cx="25.2" cy="289.5" r="1.58"/><circle cx="31.8" cy="288.6" r="1.24"/><circle cx="29.5" cy="288.2" r="1.25"/><circle cx="33.7" cy="287.4" r="1.37"/><circle cx="42.8" cy="291.8" r="1.57"/><circle cx="40.0" cy="288.9" r="1.34"/><circle cx="47.3" cy="285.2" r="1.04"/><circle cx="45.1" cy="287.3" r="1.05"/><circle cx="62.8" cy="291.3" r="1.09"/><circle cx="58.4" cy="286.4" r="1.16"/><circle cx="59.7" cy="293.4" r="1.34"/><circle cx="72.0" cy="285.4" r="1.09"/><circle cx="64.6" cy="287.6" r="1.05"/><circle cx="70.1" cy="286.8" r="1.49"/><circle cx="87.1" cy="283.0" r="1.58"/><circle cx="89.6" cy="286.1" r="1.34"/><circle cx="103.7" cy="287.8" r="1.16"/><circle cx="99.4" cy="292.8" r="1.44"/><circle cx="95.3" cy="292.1" r="1.34"/><circle cx="105.1" cy="291.7" r="1.42"/><circle cx="106.1" cy="289.3" r="1.04"/><circle cx="101.2" cy="291.5" r="1.59"/><circle cx="110.0" cy="287.6" r="1.39"/><circle cx="108.8" cy="285.7" r="1.29"/><circle cx="120.4" cy="283.5" r="1.36"/><circle cx="128.7" cy="285.3" r="1.26"/><circle cx="131.2" cy="286.4" r="1.50"/><circle cx="141.9" cy="292.2" r="1.52"/><circle cx="130.6" cy="292.4" r="1.34"/><circle cx="132.2" cy="297.3" r="1.43"/><circle cx="145.7" cy="283.2" r="1.16"/><circle cx="136.2" cy="286.7" r="1.27"/><circle cx="142.8" cy="283.3" r="1.59"/><circle cx="157.9" cy="285.3" r="1.35"/><circle cx="158.7" cy="288.5" r="1.00"/><circle cx="158.1" cy="281.5" r="1.53"/><circle cx="157.6" cy="286.3" r="1.47"/><circle cx="167.9" cy="289.7" r="1.35"/><circle cx="162.2" cy="287.8" r="1.12"/><circle cx="164.7" cy="291.0" r="1.51"/><circle cx="170.9" cy="284.5" r="1.54"/><circle cx="171.8" cy="286.6" r="1.05"/><circle cx="171.6" cy="287.1" r="1.46"/><circle cx="221.7" cy="291.0" r="1.25"/><circle cx="221.4" cy="289.7" r="1.37"/><circle cx="233.5" cy="287.6" r="1.19"/><circle cx="229.1" cy="286.5" r="1.19"/><circle cx="230.4" cy="286.5" r="1.43"/><circle cx="232.1" cy="286.1" r="1.48"/><circle cx="236.6" cy="291.7" r="1.29"/><circle cx="240.3" cy="291.8" r="1.40"/><circle cx="244.9" cy="293.4" r="1.12"/><circle cx="241.9" cy="291.7" r="1.30"/><circle cx="254.4" cy="286.2" r="1.26"/><circle cx="260.5" cy="287.4" r="1.28"/><circle cx="265.5" cy="287.0" r="1.22"/><circle cx="263.5" cy="289.2" r="1.26"/><circle cx="273.4" cy="288.8" r="1.01"/><circle cx="274.4" cy="293.2" r="1.42"/><circle cx="282.2" cy="288.8" r="1.07"/><circle cx="283.1" cy="285.5" r="1.35"/><circle cx="282.9" cy="288.7" r="1.40"/><circle cx="279.1" cy="286.9" r="1.13"/><circle cx="298.4" cy="290.2" r="1.61"/><circle cx="295.6" cy="290.4" r="1.05"/><circle cx="297.4" cy="294.4" r="1.45"/><circle cx="293.4" cy="296.0" r="1.23"/><circle cx="312.4" cy="289.0" r="1.35"/><circle cx="303.3" cy="284.3" r="1.17"/><circle cx="316.6" cy="281.6" r="1.53"/><circle cx="306.0" cy="284.7" r="1.54"/><circle cx="316.6" cy="288.7" r="1.11"/><circle cx="311.2" cy="288.4" r="1.30"/><circle cx="330.1" cy="292.9" r="1.55"/><circle cx="330.3" cy="288.3" r="1.42"/><circle cx="326.5" cy="288.7" r="1.27"/><circle cx="330.5" cy="290.5" r="1.08"/><circle cx="335.7" cy="289.7" r="1.22"/><circle cx="335.5" cy="286.4" r="1.44"/><circle cx="346.7" cy="292.5" r="1.58"/><circle cx="348.0" cy="289.7" r="1.26"/><circle cx="342.7" cy="295.8" r="1.30"/><circle cx="348.6" cy="289.3" r="1.54"/><circle cx="349.9" cy="287.7" r="1.27"/><circle cx="359.5" cy="286.0" r="1.19"/><circle cx="349.2" cy="283.7" r="1.24"/><circle cx="349.3" cy="288.9" r="1.57"/><circle cx="365.5" cy="290.8" r="1.63"/><circle cx="363.5" cy="286.4" r="1.59"/><circle cx="360.2" cy="285.3" r="1.61"/><circle cx="383.3" cy="290.8" r="1.56"/><circle cx="372.7" cy="293.4" r="1.14"/><circle cx="378.2" cy="288.6" r="1.59"/><circle cx="383.3" cy="293.8" r="1.08"/><circle cx="387.4" cy="294.6" r="1.02"/><circle cx="390.8" cy="293.3" r="1.29"/><circle cx="398.8" cy="285.1" r="1.02"/><circle cx="402.2" cy="284.3" r="1.32"/><circle cx="408.6" cy="283.0" r="1.31"/><circle cx="400.5" cy="287.3" r="1.60"/><circle cx="413.5" cy="285.6" r="1.41"/><circle cx="411.6" cy="283.2" r="1.35"/><circle cx="413.8" cy="291.3" r="1.63"/><circle cx="427.3" cy="286.2" r="1.27"/><circle cx="426.9" cy="285.2" r="1.62"/><circle cx="425.2" cy="284.4" r="1.11"/><circle cx="438.3" cy="286.7" r="1.15"/><circle cx="434.4" cy="281.9" r="1.24"/><circle cx="433.8" cy="281.4" r="1.38"/><circle cx="438.0" cy="287.2" r="1.60"/><circle cx="447.3" cy="284.3" r="1.05"/><circle cx="450.5" cy="286.0" r="1.59"/><circle cx="453.9" cy="286.6" r="1.35"/><circle cx="445.3" cy="287.8" r="1.11"/><circle cx="103.8" cy="287.9" r="0.51"/><circle cx="369.3" cy="287.0" r="0.75"/><circle cx="425.1" cy="309.9" r="0.90"/><circle cx="46.6" cy="284.8" r="0.86"/><circle cx="161.8" cy="303.1" r="0.63"/><circle cx="385.6" cy="313.5" r="0.80"/><circle cx="255.0" cy="310.5" r="0.54"/><circle cx="212.5" cy="316.0" r="0.60"/><circle cx="336.5" cy="320.2" r="0.74"/><circle cx="396.9" cy="311.2" r="0.59"/><circle cx="449.0" cy="284.5" r="0.85"/><circle cx="163.7" cy="311.5" r="0.82"/><circle cx="242.6" cy="320.3" r="0.51"/><circle cx="70.5" cy="287.9" r="0.73"/><circle cx="339.2" cy="312.6" r="0.69"/><circle cx="327.5" cy="328.4" r="0.81"/><circle cx="358.3" cy="304.0" r="0.70"/><circle cx="187.5" cy="290.6" r="0.76"/><circle cx="283.4" cy="301.3" r="0.71"/><circle cx="328.8" cy="318.8" r="0.55"/><circle cx="353.9" cy="311.0" r="0.84"/><circle cx="250.6" cy="343.6" r="0.68"/><circle cx="252.3" cy="285.3" r="0.69"/><circle cx="433.5" cy="342.3" r="0.79"/><circle cx="451.4" cy="311.8" r="0.55"/><circle cx="398.1" cy="299.1" r="0.60"/><circle cx="156.5" cy="339.9" r="0.59"/><circle cx="90.9" cy="309.9" r="0.79"/><circle cx="270.8" cy="336.6" r="0.87"/><circle cx="98.4" cy="331.9" r="0.59"/><circle cx="187.4" cy="284.5" r="0.60"/><circle cx="370.6" cy="327.0" r="0.66"/><circle cx="282.5" cy="323.3" r="0.70"/><circle cx="297.0" cy="288.0" r="0.72"/><circle cx="205.3" cy="284.5" r="0.93"/><circle cx="294.5" cy="305.4" r="0.70"/><circle cx="270.8" cy="314.6" r="0.55"/><circle cx="45.3" cy="320.7" r="0.55"/><circle cx="126.5" cy="330.1" r="0.95"/><circle cx="390.8" cy="301.0" r="0.65"/><circle cx="133.3" cy="333.6" r="0.62"/><circle cx="288.7" cy="303.4" r="0.73"/><circle cx="76.4" cy="289.0" r="0.69"/><circle cx="326.8" cy="305.2" r="0.63"/><circle cx="219.6" cy="296.8" r="0.83"/><circle cx="256.5" cy="301.0" r="0.73"/><circle cx="177.2" cy="285.6" r="0.74"/><circle cx="82.0" cy="330.9" r="0.69"/><circle cx="25.0" cy="323.5" r="0.76"/><circle cx="49.6" cy="331.3" r="0.64"/><circle cx="74.0" cy="324.5" r="0.81"/><circle cx="134.7" cy="326.6" r="0.72"/><circle cx="236.5" cy="338.4" r="0.82"/><circle cx="118.0" cy="337.9" r="0.85"/><circle cx="175.0" cy="319.4" r="0.80"/><circle cx="421.1" cy="327.0" r="0.60"/><circle cx="397.0" cy="293.3" r="0.86"/><circle cx="73.2" cy="336.4" r="0.61"/><circle cx="186.7" cy="330.7" r="0.82"/><circle cx="411.6" cy="284.9" r="0.65"/><circle cx="185.0" cy="292.8" r="0.85"/><circle cx="303.9" cy="297.2" r="0.90"/><circle cx="33.7" cy="319.0" r="0.53"/><circle cx="41.1" cy="307.0" r="0.53"/><circle cx="50.2" cy="301.9" r="0.89"/><circle cx="190.2" cy="327.0" r="0.61"/><circle cx="238.8" cy="302.4" r="0.77"/><circle cx="139.2" cy="291.0" r="0.73"/><circle cx="429.5" cy="343.0" r="0.75"/><circle cx="395.2" cy="323.8" r="0.87"/><circle cx="410.8" cy="317.8" r="0.61"/><circle cx="65.9" cy="284.1" r="0.58"/><circle cx="195.1" cy="287.1" r="0.57"/><circle cx="167.2" cy="317.6" r="0.62"/><circle cx="203.3" cy="296.3" r="0.70"/><circle cx="305.6" cy="296.0" r="0.87"/><circle cx="346.0" cy="333.5" r="0.83"/><circle cx="411.4" cy="293.4" r="0.70"/><circle cx="320.2" cy="284.4" r="0.67"/><circle cx="233.0" cy="295.1" r="0.80"/><circle cx="326.7" cy="290.8" r="0.65"/><circle cx="321.8" cy="288.0" r="0.58"/><circle cx="269.2" cy="286.3" r="0.76"/><circle cx="75.5" cy="321.7" r="0.57"/><circle cx="108.8" cy="312.5" r="0.79"/><circle cx="450.4" cy="302.3" r="0.82"/><circle cx="430.0" cy="291.4" r="0.61"/><circle cx="314.3" cy="297.3" r="0.56"/><circle cx="89.5" cy="344.7" r="0.58"/><circle cx="177.6" cy="306.7" r="0.66"/><circle cx="419.9" cy="329.5" r="0.57"/><circle cx="49.8" cy="300.3" r="0.76"/><circle cx="118.9" cy="320.2" r="0.56"/><circle cx="274.8" cy="316.5" r="0.63"/><circle cx="403.1" cy="300.5" r="0.72"/><circle cx="416.3" cy="333.8" r="0.56"/><circle cx="410.9" cy="291.5" r="0.61"/><circle cx="196.9" cy="294.0" r="0.59"/><circle cx="263.8" cy="308.0" r="0.50"/><circle cx="356.2" cy="316.2" r="0.65"/><circle cx="81.8" cy="325.8" r="0.66"/><circle cx="34.2" cy="295.4" r="0.72"/><circle cx="115.0" cy="312.1" r="0.60"/><circle cx="103.4" cy="292.5" r="0.86"/><circle cx="272.5" cy="339.3" r="0.89"/><circle cx="437.6" cy="306.7" r="0.61"/><circle cx="30.6" cy="307.8" r="0.71"/><circle cx="411.8" cy="284.7" r="0.81"/><circle cx="137.1" cy="290.4" r="0.70"/><circle cx="156.1" cy="306.2" r="0.82"/><circle cx="359.4" cy="338.9" r="0.84"/><circle cx="200.6" cy="335.4" r="0.50"/><circle cx="82.2" cy="294.0" r="0.70"/><circle cx="142.4" cy="344.2" r="0.68"/><circle cx="158.0" cy="284.8" r="0.74"/><circle cx="137.0" cy="289.2" r="0.52"/><circle cx="77.8" cy="293.1" r="0.66"/><circle cx="88.8" cy="296.6" r="0.51"/><circle cx="196.7" cy="284.5" r="0.93"/><circle cx="391.2" cy="323.4" r="0.58"/><circle cx="49.4" cy="310.2" r="0.63"/><circle cx="229.2" cy="339.1" r="0.81"/><circle cx="412.4" cy="327.8" r="0.68"/><circle cx="427.0" cy="333.8" r="0.71"/><circle cx="24.5" cy="320.9" r="0.86"/><circle cx="44.4" cy="312.1" r="0.70"/><circle cx="335.8" cy="299.5" r="0.87"/><circle cx="73.7" cy="321.6" r="0.67"/><circle cx="226.5" cy="329.9" r="0.65"/><circle cx="259.2" cy="284.4" r="0.71"/><circle cx="219.6" cy="292.1" r="0.52"/><circle cx="163.5" cy="306.6" r="0.62"/><circle cx="295.3" cy="288.2" r="0.72"/><circle cx="43.2" cy="341.9" r="0.86"/><circle cx="69.1" cy="288.2" r="0.82"/><circle cx="82.9" cy="285.9" r="0.61"/><circle cx="135.6" cy="288.1" r="0.65"/><circle cx="248.8" cy="295.3" r="0.51"/><circle cx="208.7" cy="303.4" r="0.60"/><circle cx="67.4" cy="300.4" r="0.85"/><circle cx="51.9" cy="303.9" r="0.89"/><circle cx="449.9" cy="284.8" r="0.82"/><circle cx="98.9" cy="294.5" r="0.88"/><circle cx="117.1" cy="292.3" r="0.75"/><circle cx="33.8" cy="317.1" r="0.70"/><circle cx="59.0" cy="314.5" r="0.63"/><circle cx="443.0" cy="342.1" r="0.90"/><circle cx="187.2" cy="328.1" r="0.84"/><circle cx="438.1" cy="315.2" r="0.59"/><circle cx="358.7" cy="287.6" r="0.52"/><circle cx="191.7" cy="305.7" r="1.10"/><circle cx="196.1" cy="300.0" r="0.76"/><circle cx="257.7" cy="340.0" r="0.68"/><circle cx="160.7" cy="306.0" r="0.85"/><circle cx="191.9" cy="302.0" r="0.68"/><circle cx="227.1" cy="312.4" r="0.65"/><circle cx="168.5" cy="340.5" r="0.63"/><circle cx="247.3" cy="304.6" r="0.68"/><circle cx="212.1" cy="304.4" r="0.75"/><circle cx="200.0" cy="321.2" r="0.71"/><circle cx="249.3" cy="300.0" r="0.61"/><circle cx="206.2" cy="321.7" r="0.76"/><circle cx="191.7" cy="301.3" r="0.91"/><circle cx="165.7" cy="325.6" r="0.68"/><circle cx="268.5" cy="300.1" r="1.07"/><circle cx="254.6" cy="349.2" r="0.95"/><circle cx="250.2" cy="302.6" r="0.74"/><circle cx="225.9" cy="315.4" r="0.62"/><circle cx="183.3" cy="300.1" r="0.77"/><circle cx="184.5" cy="318.7" r="0.65"/><circle cx="300.0" cy="325.5" r="0.97"/><circle cx="227.7" cy="321.2" r="0.93"/><circle cx="227.3" cy="301.2" r="0.60"/><circle cx="293.8" cy="328.0" r="0.96"/><circle cx="249.5" cy="347.6" r="0.95"/><circle cx="215.0" cy="302.6" r="0.75"/><circle cx="274.8" cy="340.9" r="0.93"/><circle cx="234.2" cy="348.0" r="0.64"/><circle cx="299.8" cy="320.0" r="0.79"/><circle cx="249.4" cy="317.0" r="0.88"/><circle cx="186.9" cy="321.5" r="1.00"/><circle cx="238.3" cy="302.9" r="0.71"/><circle cx="284.8" cy="335.7" r="0.66"/><circle cx="234.7" cy="303.0" r="0.99"/><circle cx="256.9" cy="301.7" r="0.69"/><circle cx="269.6" cy="301.5" r="0.75"/><circle cx="194.1" cy="323.2" r="0.80"/><circle cx="286.8" cy="318.8" r="0.91"/><circle cx="208.5" cy="307.3" r="1.03"/><circle cx="248.6" cy="312.4" r="0.68"/><circle cx="299.0" cy="319.8" r="1.39"/><circle cx="289.1" cy="301.2" r="0.71"/><circle cx="240.0" cy="304.4" r="1.23"/><circle cx="207.7" cy="325.0" r="0.69"/><circle cx="196.7" cy="318.2" r="0.91"/><circle cx="198.4" cy="336.3" r="0.89"/><circle cx="154.9" cy="309.7" r="0.81"/><circle cx="229.0" cy="330.4" r="0.84"/><circle cx="165.7" cy="327.5" r="0.70"/><circle cx="294.5" cy="327.9" r="0.68"/><circle cx="398.6" cy="290.4" r="0.69"/><circle cx="398.3" cy="297.3" r="0.69"/><circle cx="383.1" cy="318.4" r="0.86"/><circle cx="363.6" cy="290.8" r="0.64"/><circle cx="365.7" cy="293.7" r="0.63"/><circle cx="343.4" cy="292.0" r="0.83"/><circle cx="420.0" cy="302.8" r="0.63"/><circle cx="342.5" cy="297.1" r="0.85"/><circle cx="391.5" cy="293.3" r="0.93"/><circle cx="373.1" cy="297.0" r="0.97"/><circle cx="403.9" cy="292.4" r="1.15"/><circle cx="342.6" cy="315.6" r="0.92"/><circle cx="370.1" cy="323.6" r="0.93"/><circle cx="416.1" cy="297.7" r="0.88"/><circle cx="393.3" cy="299.1" r="0.86"/><circle cx="340.2" cy="321.9" r="0.86"/><circle cx="342.6" cy="326.7" r="0.82"/><circle cx="366.7" cy="323.6" r="0.68"/><circle cx="393.3" cy="303.0" r="0.92"/><circle cx="376.0" cy="302.4" r="0.94"/><circle cx="399.6" cy="296.6" r="1.26"/><circle cx="388.6" cy="298.4" r="0.87"/><circle cx="370.8" cy="307.1" r="0.91"/><circle cx="343.3" cy="312.8" r="0.64"/><circle cx="374.1" cy="309.2" r="0.76"/><circle cx="334.1" cy="325.1" r="0.70"/><circle cx="351.9" cy="293.4" r="0.63"/><circle cx="346.2" cy="299.7" r="0.75"/><circle cx="340.6" cy="292.7" r="0.87"/><circle cx="375.1" cy="291.9" r="0.74"/><circle cx="435.1" cy="302.8" r="0.78"/><circle cx="461.1" cy="297.7" r="0.80"/><circle cx="435.0" cy="329.1" r="0.90"/><circle cx="441.0" cy="292.2" r="0.73"/><circle cx="461.9" cy="298.1" r="0.69"/><circle cx="455.2" cy="318.4" r="0.93"/><circle cx="461.4" cy="291.2" r="0.67"/><circle cx="458.5" cy="311.0" r="1.05"/><circle cx="438.4" cy="290.6" r="1.23"/><circle cx="460.2" cy="292.0" r="0.93"/><circle cx="447.4" cy="291.5" r="1.24"/><circle cx="435.2" cy="315.3" r="0.84"/><circle cx="450.4" cy="296.0" r="0.91"/><circle cx="450.9" cy="305.0" r="0.87"/><circle cx="441.1" cy="293.4" r="0.71"/><circle cx="453.3" cy="322.9" r="1.04"/><circle cx="448.4" cy="325.4" r="0.72"/><circle cx="430.1" cy="325.8" r="0.68"/><circle cx="441.8" cy="297.6" r="1.36"/><circle cx="451.3" cy="291.7" r="0.66"/><circle cx="138.2" cy="367.1" r="0.77"/><circle cx="95.1" cy="318.6" r="0.43"/><circle cx="113.4" cy="332.0" r="0.75"/><circle cx="42.2" cy="303.0" r="0.75"/><circle cx="33.5" cy="363.4" r="0.44"/><circle cx="137.9" cy="307.9" r="0.54"/><circle cx="48.1" cy="326.2" r="0.46"/><circle cx="81.3" cy="348.4" r="0.72"/><circle cx="149.6" cy="328.6" r="0.53"/><circle cx="50.3" cy="346.0" r="0.86"/><circle cx="43.1" cy="310.1" r="0.89"/><circle cx="79.7" cy="303.3" r="0.70"/><circle cx="131.6" cy="345.8" r="0.43"/><circle cx="74.5" cy="365.4" r="0.60"/><circle cx="57.8" cy="313.1" r="0.60"/><circle cx="137.8" cy="307.2" r="0.58"/><circle cx="116.7" cy="324.7" r="0.66"/><circle cx="141.7" cy="317.1" r="0.51"/><circle cx="84.2" cy="306.3" r="0.47"/><circle cx="111.4" cy="331.8" r="0.63"/><circle cx="98.8" cy="300.2" r="0.43"/><circle cx="91.2" cy="343.2" r="0.42"/><circle cx="59.7" cy="301.6" r="0.60"/><circle cx="83.0" cy="300.5" r="0.46"/><circle cx="110.4" cy="301.0" r="0.82"/><circle cx="150.0" cy="317.4" r="0.49"/><circle cx="149.1" cy="305.6" r="0.62"/><circle cx="143.3" cy="301.0" r="0.76"/><circle cx="36.2" cy="300.3" r="0.57"/><circle cx="49.0" cy="300.9" r="0.65"/><circle cx="57.1" cy="311.2" r="0.47"/><circle cx="126.4" cy="311.3" r="0.52"/><circle cx="114.2" cy="307.0" r="0.75"/><circle cx="110.2" cy="314.1" r="0.77"/><circle cx="47.6" cy="356.1" r="0.69"/><circle cx="263.6" cy="298.5" r="0.89"/><circle cx="260.8" cy="298.7" r="1.01"/><circle cx="267.6" cy="296.8" r="1.18"/><circle cx="264.8" cy="301.4" r="1.09"/><circle cx="278.5" cy="300.7" r="1.29"/><circle cx="273.3" cy="298.1" r="0.81"/><circle cx="273.4" cy="299.0" r="0.76"/><circle cx="277.4" cy="308.7" r="1.06"/><circle cx="277.8" cy="316.9" r="0.99"/><circle cx="293.3" cy="308.4" r="0.98"/><circle cx="287.2" cy="304.9" r="1.05"/><circle cx="285.3" cy="307.3" r="0.73"/><circle cx="280.9" cy="311.5" r="1.28"/><circle cx="251.2" cy="322.5" r="1.28"/><circle cx="243.3" cy="321.3" r="0.71"/><circle cx="243.0" cy="323.6" r="1.28"/><circle cx="239.0" cy="327.3" r="1.04"/><circle cx="243.3" cy="319.8" r="1.15"/><circle cx="246.7" cy="323.5" r="1.05"/><circle cx="227.2" cy="335.8" r="1.05"/><circle cx="231.4" cy="345.8" r="0.99"/><circle cx="228.3" cy="334.0" r="1.23"/><circle cx="228.3" cy="335.0" r="1.04"/><circle cx="240.9" cy="335.4" r="1.26"/><circle cx="187.0" cy="333.8" r="0.94"/><circle cx="188.4" cy="327.2" r="1.08"/><circle cx="189.7" cy="329.8" r="0.99"/><circle cx="197.6" cy="333.4" r="1.18"/><circle cx="184.7" cy="326.1" r="1.10"/><circle cx="164.3" cy="344.2" r="1.21"/><circle cx="168.1" cy="341.5" r="0.89"/><circle cx="168.6" cy="341.1" r="0.79"/><circle cx="177.4" cy="342.7" r="0.73"/><circle cx="169.6" cy="343.0" r="1.05"/><circle cx="128.6" cy="300.6" r="0.82"/><circle cx="128.1" cy="298.9" r="0.91"/><circle cx="132.2" cy="300.4" r="1.22"/><circle cx="133.0" cy="302.3" r="1.10"/><circle cx="116.3" cy="299.9" r="1.09"/><circle cx="127.6" cy="296.8" r="0.88"/><circle cx="110.5" cy="301.5" r="0.85"/><circle cx="111.4" cy="300.5" r="0.88"/><circle cx="114.2" cy="301.9" r="0.99"/><circle cx="111.6" cy="302.1" r="1.19"/><circle cx="326.5" cy="320.7" r="0.98"/><circle cx="312.4" cy="318.2" r="0.94"/><circle cx="329.2" cy="319.6" r="1.29"/><circle cx="320.5" cy="324.1" r="0.87"/><circle cx="314.5" cy="323.6" r="1.07"/><circle cx="360.7" cy="297.5" r="1.12"/><circle cx="354.1" cy="295.7" r="1.10"/><circle cx="354.3" cy="301.3" r="0.94"/><circle cx="360.0" cy="299.8" r="0.86"/><circle cx="346.4" cy="300.3" r="0.83"/><circle cx="359.6" cy="299.1" r="1.23"/><circle cx="368.3" cy="312.0" r="0.84"/><circle cx="382.8" cy="310.9" r="0.79"/><circle cx="378.9" cy="313.5" r="1.11"/><circle cx="389.7" cy="312.4" r="1.16"/><circle cx="389.3" cy="313.7" r="0.73"/><circle cx="447.3" cy="300.7" r="1.05"/><circle cx="437.8" cy="303.4" r="0.73"/><circle cx="443.3" cy="301.4" r="1.30"/><circle cx="442.5" cy="300.6" r="1.12"/><circle cx="449.6" cy="301.7" r="1.02"/><circle cx="436.7" cy="307.2" r="0.92"/><circle cx="449.5" cy="313.3" r="0.90"/><circle cx="459.9" cy="311.3" r="1.22"/><circle cx="459.6" cy="308.9" r="0.83"/><circle cx="464.3" cy="309.3" r="1.25"/><circle cx="280.6" cy="317.6" r="0.99"/><circle cx="267.7" cy="318.3" r="1.19"/><circle cx="281.3" cy="314.3" r="1.27"/><circle cx="269.6" cy="314.3" r="0.71"/><circle cx="278.2" cy="317.1" r="1.29"/><circle cx="297.1" cy="324.6" r="1.28"/><circle cx="301.8" cy="321.9" r="1.26"/><circle cx="298.8" cy="331.7" r="0.72"/><circle cx="302.0" cy="326.4" r="1.29"/><circle cx="63.8" cy="289.4" r="0.85"/><circle cx="66.3" cy="287.7" r="0.70"/><circle cx="51.9" cy="291.0" r="1.22"/><circle cx="67.0" cy="289.9" r="1.17"/><circle cx="60.4" cy="295.9" r="0.84"/><circle cx="44.0" cy="289.5" r="0.75"/><circle cx="35.9" cy="291.1" r="1.04"/><circle cx="35.2" cy="293.8" r="1.15"/><circle cx="39.0" cy="287.6" r="0.82"/></g>
<g id="roots">
<path d="M182.3 289.8 L180.9 290.1 L179.2 290.6 L177.2 291.1 L175.0 291.7 L172.7 292.2 L170.4 292.7 L168.2 293.0 L166.3 293.1 L164.5 293.1 L162.7 292.9 L160.7 292.6 L158.7 292.3 L156.7 291.8 L154.7 291.4 L152.6 290.9 L150.6 290.5 L148.7 290.2 L146.8 289.8 L144.9 289.4 L142.9 289.0 L141.0 288.6 L139.1 288.2 L137.2 287.9 L135.3 287.7 L133.6 287.5 L131.9 287.4 L130.2 287.3 L128.5 287.3 L126.8 287.3 L125.0 287.4 L123.2 287.6 L121.2 287.9 L119.2 288.4 L117.0 289.0 L114.8 289.7 L112.6 290.4 L110.4 291.2 L108.3 292.0 L106.2 292.8 L104.2 293.6 L102.3 294.4 L100.5 295.2 L98.9 296.0 L97.3 296.9 L95.7 297.6 L94.1 298.3 L92.5 298.9 L90.6 299.4 L88.6 299.8 L86.3 299.9 L83.8 299.9 L81.2 299.9 L78.5 299.9 L75.9 300.1 L73.3 300.6 L70.9 301.4 L68.6 302.7 L66.4 304.4 L64.4 306.3 L62.4 308.3 L60.7 310.3 L59.2 312.1 L57.9 313.6 L56.9 314.7 L58.1 315.9 L59.2 314.9 L60.6 313.4 L62.2 311.7 L64.0 309.9 L66.0 308.0 L68.0 306.3 L70.0 305.0 L71.9 304.0 L73.9 303.4 L76.2 303.2 L78.6 303.1 L81.2 303.2 L83.8 303.4 L86.4 303.5 L88.9 303.4 L91.4 303.2 L93.5 302.7 L95.5 302.1 L97.4 301.4 L99.1 300.6 L100.7 299.9 L102.3 299.1 L104.0 298.4 L105.8 297.8 L107.8 297.2 L109.8 296.5 L112.0 295.7 L114.2 295.1 L116.3 294.4 L118.4 293.9 L120.3 293.4 L122.2 293.1 L123.8 292.8 L125.4 292.7 L126.9 292.7 L128.4 292.7 L129.9 292.8 L131.4 292.9 L133.0 293.1 L134.7 293.3 L136.4 293.5 L138.1 293.9 L139.8 294.2 L141.7 294.7 L143.5 295.1 L145.5 295.6 L147.4 296.0 L149.4 296.5 L151.3 296.9 L153.3 297.3 L155.4 297.8 L157.5 298.3 L159.6 298.8 L161.8 299.2 L164.1 299.4 L166.5 299.5 L168.9 299.3 L171.5 299.0 L174.0 298.5 L176.5 298.0 L178.8 297.4 L180.8 296.9 L182.5 296.5 L183.7 296.2Z" fill="#7e7e7e"/>
<path d="M89.4 300.5 L89.0 301.2 L88.5 302.3 L87.9 303.5 L87.2 304.8 L86.5 306.2 L85.8 307.6 L85.1 309.0 L84.5 310.2 L83.9 311.4 L83.4 312.6 L82.8 313.8 L82.3 314.9 L81.8 316.0 L81.3 316.9 L80.8 317.7 L80.2 318.3 L79.7 318.7 L79.1 319.0 L78.4 319.3 L77.6 319.5 L76.6 319.7 L75.6 319.9 L74.5 320.4 L73.4 321.0 L72.3 321.8 L71.1 322.8 L69.9 323.9 L68.8 325.1 L67.7 326.2 L66.7 327.2 L65.9 328.0 L65.3 328.6 L66.3 329.8 L67.0 329.2 L67.9 328.4 L68.9 327.5 L70.1 326.5 L71.3 325.5 L72.5 324.5 L73.7 323.6 L74.6 323.0 L75.5 322.6 L76.3 322.4 L77.1 322.2 L78.1 322.1 L79.0 321.9 L80.1 321.7 L81.1 321.2 L82.2 320.5 L83.1 319.6 L83.8 318.6 L84.5 317.5 L85.1 316.4 L85.7 315.2 L86.3 314.0 L86.9 312.9 L87.5 311.8 L88.2 310.6 L88.9 309.2 L89.6 307.8 L90.4 306.4 L91.1 305.1 L91.7 303.9 L92.2 302.9 L92.6 302.1Z" fill="#7e7e7e"/>
<path d="M105.8 295.5 L106.2 296.0 L106.7 296.5 L107.3 297.1 L107.8 297.7 L108.4 298.3 L108.7 298.9 L109.0 299.4 L109.0 299.9 L108.9 300.6 L108.6 301.5 L108.1 302.5 L107.5 303.7 L106.9 304.9 L106.2 306.1 L105.5 307.3 L105.0 308.5 L104.5 309.6 L103.9 310.7 L103.4 311.9 L102.9 313.0 L102.4 314.0 L102.0 315.0 L101.6 315.8 L101.3 316.4 L102.7 317.0 L103.0 316.5 L103.4 315.7 L104.0 314.8 L104.6 313.8 L105.2 312.8 L105.8 311.7 L106.4 310.6 L107.0 309.5 L107.6 308.5 L108.4 307.4 L109.1 306.2 L109.9 305.0 L110.6 303.8 L111.2 302.6 L111.7 301.4 L112.0 300.1 L111.9 298.8 L111.5 297.6 L110.9 296.6 L110.2 295.7 L109.5 294.9 L108.9 294.3 L108.5 293.9 L108.2 293.5Z" fill="#7e7e7e"/>
<path d="M128.3 290.7 L128.2 291.4 L128.0 292.4 L127.8 293.5 L127.6 294.7 L127.3 296.0 L127.1 297.3 L126.8 298.5 L126.5 299.5 L126.2 300.5 L125.9 301.5 L125.6 302.4 L125.3 303.2 L125.0 303.9 L124.7 304.6 L124.2 305.2 L123.6 305.7 L122.8 306.3 L121.8 306.7 L120.6 307.2 L119.2 307.7 L117.8 308.1 L116.3 308.7 L114.8 309.3 L113.4 310.0 L112.1 310.9 L110.8 311.9 L109.5 312.9 L108.2 314.0 L107.1 315.1 L106.0 316.0 L105.2 316.8 L104.5 317.4 L105.5 318.6 L106.2 318.0 L107.1 317.3 L108.2 316.4 L109.4 315.5 L110.7 314.5 L112.1 313.6 L113.4 312.7 L114.6 312.0 L115.8 311.5 L117.1 311.0 L118.5 310.6 L120.0 310.2 L121.4 309.8 L122.8 309.4 L124.2 308.8 L125.4 308.1 L126.4 307.2 L127.1 306.3 L127.7 305.3 L128.2 304.3 L128.6 303.4 L128.9 302.4 L129.2 301.5 L129.5 300.5 L129.9 299.4 L130.2 298.1 L130.6 296.7 L130.9 295.4 L131.1 294.1 L131.3 293.0 L131.5 292.0 L131.7 291.3Z" fill="#7e7e7e"/>
<path d="M149.3 292.3 L148.6 292.8 L147.6 293.4 L146.4 294.1 L145.1 294.9 L143.7 295.7 L142.3 296.5 L140.9 297.2 L139.5 297.9 L138.2 298.4 L136.7 298.9 L135.2 299.4 L133.7 299.9 L132.1 300.4 L130.6 300.9 L129.0 301.4 L127.6 302.1 L126.1 302.8 L124.7 303.7 L123.2 304.6 L121.8 305.5 L120.5 306.4 L119.3 307.2 L118.4 307.9 L117.6 308.4 L118.4 309.6 L119.2 309.1 L120.2 308.5 L121.4 307.8 L122.7 307.0 L124.1 306.1 L125.6 305.3 L127.0 304.6 L128.4 303.9 L129.8 303.4 L131.2 302.9 L132.8 302.5 L134.3 302.1 L135.9 301.6 L137.5 301.2 L139.0 300.7 L140.5 300.1 L142.0 299.5 L143.5 298.7 L145.0 297.9 L146.4 297.1 L147.7 296.4 L148.9 295.7 L149.9 295.1 L150.7 294.7Z" fill="#7e7e7e"/>
<path d="M186.1 296.2 L185.1 296.9 L183.6 297.9 L182.0 299.1 L180.1 300.3 L178.2 301.6 L176.3 302.9 L174.6 304.0 L173.0 304.9 L171.7 305.6 L170.4 306.1 L169.1 306.6 L167.7 307.1 L166.2 307.6 L164.7 308.2 L163.0 309.0 L161.4 309.9 L159.7 311.0 L158.1 312.1 L156.6 313.2 L155.1 314.5 L153.5 315.8 L151.8 317.1 L150.1 318.5 L148.1 320.1 L145.9 321.8 L143.7 323.8 L141.4 325.9 L139.0 328.0 L136.6 330.0 L134.1 331.9 L131.5 333.6 L128.8 335.1 L125.8 336.4 L122.5 337.6 L118.9 338.7 L115.3 339.7 L111.6 340.6 L108.1 341.4 L104.8 341.9 L101.8 342.3 L99.3 342.4 L97.1 342.3 L95.0 341.9 L93.0 341.4 L90.9 340.8 L88.8 340.3 L86.5 339.8 L84.2 339.5 L81.8 339.4 L79.4 339.4 L77.0 339.4 L74.6 339.4 L72.2 339.5 L69.9 339.7 L67.7 339.9 L65.5 340.2 L63.5 340.7 L61.5 341.3 L59.7 342.1 L57.9 342.8 L56.3 343.6 L54.7 344.3 L53.2 344.9 L51.7 345.3 L50.2 345.6 L48.6 345.9 L47.0 346.0 L45.4 346.2 L44.0 346.3 L42.6 346.3 L41.5 346.4 L40.7 346.5 L40.7 348.3 L41.6 348.3 L42.7 348.3 L44.0 348.3 L45.5 348.3 L47.2 348.3 L48.9 348.2 L50.6 348.0 L52.3 347.7 L54.0 347.3 L55.6 346.7 L57.3 346.1 L59.0 345.4 L60.7 344.7 L62.4 344.2 L64.2 343.7 L66.1 343.4 L68.0 343.1 L70.2 343.0 L72.4 342.9 L74.7 342.9 L77.0 343.0 L79.3 343.1 L81.6 343.3 L83.8 343.5 L85.8 343.8 L87.8 344.3 L89.7 344.9 L91.8 345.5 L94.1 346.2 L96.5 346.7 L99.2 346.9 L102.2 346.9 L105.4 346.6 L108.9 346.1 L112.6 345.5 L116.5 344.7 L120.4 343.8 L124.2 342.7 L127.8 341.5 L131.2 340.1 L134.4 338.5 L137.4 336.6 L140.2 334.6 L142.8 332.5 L145.3 330.4 L147.7 328.4 L149.9 326.5 L151.9 324.9 L153.9 323.5 L155.7 322.0 L157.4 320.7 L159.0 319.5 L160.5 318.3 L161.9 317.3 L163.3 316.3 L164.6 315.5 L166.0 314.8 L167.2 314.2 L168.5 313.8 L169.8 313.3 L171.3 312.8 L172.8 312.3 L174.5 311.6 L176.2 310.7 L178.0 309.7 L179.9 308.5 L181.9 307.2 L183.9 305.9 L185.8 304.6 L187.5 303.4 L188.9 302.5 L189.9 301.8Z" fill="#7e7e7e"/>
<path d="M100.8 343.6 L100.3 344.2 L99.5 345.1 L98.6 346.2 L97.6 347.4 L96.5 348.6 L95.5 349.8 L94.6 351.0 L93.8 352.1 L93.1 353.1 L92.6 354.0 L92.1 354.9 L91.7 355.8 L91.3 356.6 L90.9 357.4 L90.4 358.3 L89.9 359.3 L89.1 360.4 L88.3 361.6 L87.4 362.9 L86.5 364.3 L85.6 365.6 L84.7 367.0 L83.8 368.2 L83.1 369.4 L82.4 370.5 L81.8 371.6 L81.3 372.7 L80.7 373.7 L80.3 374.6 L79.9 375.4 L79.5 376.1 L79.3 376.6 L80.7 377.4 L81.1 376.9 L81.4 376.2 L81.9 375.5 L82.4 374.6 L83.0 373.6 L83.6 372.6 L84.2 371.6 L84.9 370.6 L85.7 369.5 L86.6 368.3 L87.5 367.0 L88.5 365.7 L89.5 364.4 L90.5 363.1 L91.4 361.9 L92.1 360.7 L92.8 359.7 L93.4 358.7 L93.8 357.9 L94.3 357.0 L94.7 356.3 L95.1 355.5 L95.6 354.7 L96.2 353.9 L97.0 352.9 L97.9 351.8 L98.9 350.6 L99.9 349.4 L100.9 348.2 L101.9 347.2 L102.6 346.3 L103.2 345.6Z" fill="#7e7e7e"/>
<path d="M150.0 321.3 L149.4 321.3 L148.6 321.2 L147.7 321.2 L146.5 321.1 L145.3 321.1 L144.0 321.2 L142.8 321.5 L141.5 322.0 L140.4 322.7 L139.3 323.6 L138.3 324.6 L137.4 325.6 L136.4 326.7 L135.5 327.6 L134.5 328.5 L133.5 329.2 L132.4 329.7 L131.1 330.3 L129.7 330.7 L128.3 331.2 L126.9 331.5 L125.7 331.9 L124.6 332.1 L123.8 332.4 L124.2 333.6 L124.9 333.5 L126.0 333.2 L127.3 333.0 L128.7 332.7 L130.2 332.4 L131.7 331.9 L133.1 331.4 L134.5 330.8 L135.7 330.1 L136.8 329.1 L137.9 328.1 L138.9 327.1 L139.9 326.1 L140.8 325.2 L141.7 324.5 L142.5 324.0 L143.4 323.7 L144.3 323.6 L145.4 323.5 L146.5 323.5 L147.5 323.6 L148.5 323.6 L149.3 323.7 L150.0 323.7Z" fill="#7e7e7e"/>
<path d="M194.8 300.2 L194.8 301.4 L195.0 303.1 L195.3 304.8 L195.5 306.7 L195.6 308.5 L195.5 310.2 L195.3 311.6 L194.8 312.7 L194.1 313.8 L192.8 315.1 L191.3 316.4 L189.4 317.8 L187.4 319.2 L185.3 320.6 L183.2 322.0 L181.2 323.4 L179.4 324.6 L177.5 325.7 L175.5 326.8 L173.4 327.9 L171.3 329.1 L169.1 330.4 L166.9 332.0 L164.8 333.8 L162.6 335.9 L160.4 338.2 L158.2 340.7 L156.0 343.3 L154.0 346.0 L152.0 348.5 L150.2 350.9 L148.5 353.2 L147.1 355.2 L145.7 357.2 L144.5 359.1 L143.5 360.9 L142.5 362.6 L141.6 364.3 L140.8 365.9 L140.0 367.4 L139.4 368.9 L138.8 370.5 L138.4 371.9 L138.0 373.3 L137.7 374.5 L137.5 375.6 L137.3 376.5 L137.1 377.2 L138.9 377.8 L139.2 377.1 L139.4 376.1 L139.7 375.1 L140.1 373.9 L140.5 372.6 L141.1 371.3 L141.7 370.0 L142.4 368.6 L143.2 367.2 L144.1 365.7 L145.0 364.2 L146.1 362.6 L147.3 360.9 L148.5 359.1 L149.9 357.3 L151.5 355.4 L153.2 353.4 L155.1 351.1 L157.2 348.7 L159.4 346.2 L161.6 343.8 L163.8 341.5 L166.0 339.4 L168.0 337.6 L170.0 336.1 L172.0 334.9 L173.9 333.8 L176.0 332.7 L178.0 331.7 L180.2 330.7 L182.3 329.5 L184.4 328.2 L186.4 326.9 L188.6 325.6 L190.8 324.3 L193.0 322.8 L195.1 321.3 L197.1 319.7 L198.8 317.9 L200.4 315.9 L201.4 313.5 L201.9 311.0 L202.0 308.5 L201.9 306.2 L201.7 304.0 L201.5 302.2 L201.3 300.8 L201.2 299.8Z" fill="#7e7e7e"/>
<path d="M183.0 322.2 L182.5 322.8 L181.9 323.6 L181.0 324.6 L180.1 325.8 L179.2 326.9 L178.3 328.1 L177.6 329.3 L176.9 330.4 L176.4 331.4 L176.0 332.3 L175.6 333.2 L175.2 334.1 L175.0 335.1 L174.8 336.1 L174.6 337.2 L174.6 338.4 L174.6 339.7 L174.8 341.2 L175.0 342.7 L175.3 344.2 L175.6 345.8 L175.9 347.3 L176.1 348.8 L176.4 350.2 L176.6 351.5 L176.9 352.8 L177.1 354.1 L177.4 355.2 L177.6 356.4 L177.7 357.6 L177.7 359.0 L177.5 360.5 L177.2 362.3 L176.7 364.3 L176.1 366.4 L175.4 368.7 L174.6 370.9 L173.8 373.1 L172.9 375.2 L172.2 377.1 L171.4 379.0 L170.6 380.8 L169.8 382.5 L168.9 384.2 L168.1 385.8 L167.2 387.2 L166.3 388.4 L165.5 389.5 L164.6 390.2 L163.5 390.8 L162.4 391.2 L161.3 391.5 L160.2 391.7 L159.1 391.9 L158.2 392.0 L157.6 392.2 L157.8 393.4 L158.5 393.3 L159.3 393.2 L160.4 393.1 L161.6 392.9 L162.8 392.6 L164.1 392.1 L165.4 391.5 L166.5 390.5 L167.6 389.4 L168.5 388.1 L169.5 386.6 L170.4 385.0 L171.3 383.3 L172.2 381.5 L173.0 379.7 L173.8 377.9 L174.7 375.9 L175.6 373.8 L176.4 371.6 L177.3 369.3 L178.0 367.1 L178.7 364.9 L179.3 362.8 L179.7 360.9 L179.9 359.2 L179.9 357.6 L179.8 356.2 L179.6 354.8 L179.4 353.6 L179.1 352.4 L178.8 351.1 L178.6 349.8 L178.4 348.4 L178.2 346.9 L177.9 345.3 L177.6 343.8 L177.4 342.3 L177.2 340.9 L177.0 339.6 L177.0 338.4 L177.1 337.4 L177.2 336.5 L177.4 335.6 L177.6 334.9 L177.9 334.1 L178.2 333.3 L178.6 332.5 L179.1 331.6 L179.7 330.7 L180.4 329.6 L181.2 328.5 L182.1 327.3 L183.0 326.2 L183.8 325.3 L184.5 324.4 L185.0 323.8Z" fill="#7e7e7e"/>
<path d="M176.7 368.2 L176.9 368.9 L177.1 369.8 L177.4 370.9 L177.8 372.2 L178.1 373.5 L178.5 374.8 L178.9 376.0 L179.2 377.2 L179.6 378.3 L179.9 379.5 L180.3 380.6 L180.6 381.7 L181.0 382.8 L181.4 383.9 L181.7 385.0 L182.2 386.0 L182.6 387.1 L183.1 388.3 L183.7 389.4 L184.2 390.6 L184.7 391.6 L185.2 392.6 L185.6 393.3 L185.9 393.9 L186.9 393.5 L186.6 392.9 L186.3 392.1 L185.8 391.1 L185.3 390.0 L184.8 388.9 L184.3 387.8 L183.9 386.6 L183.4 385.6 L183.1 384.5 L182.7 383.4 L182.4 382.3 L182.1 381.2 L181.7 380.1 L181.4 379.0 L181.1 377.9 L180.8 376.8 L180.4 375.6 L180.1 374.3 L179.7 373.0 L179.4 371.7 L179.1 370.5 L178.8 369.4 L178.5 368.5 L178.3 367.8Z" fill="#7e7e7e"/>
<path d="M192.2 305.2 L191.3 306.1 L190.3 307.2 L189.0 308.6 L187.6 310.2 L186.0 311.7 L184.4 313.3 L182.9 314.8 L181.3 316.1 L179.8 317.3 L178.1 318.4 L176.4 319.5 L174.6 320.5 L172.8 321.6 L171.0 322.7 L169.1 323.9 L167.4 325.2 L165.7 326.6 L164.0 328.1 L162.2 329.6 L160.6 331.2 L158.9 332.8 L157.3 334.4 L155.8 335.9 L154.4 337.4 L153.0 339.0 L151.7 340.6 L150.4 342.2 L149.1 343.8 L148.0 345.3 L147.0 346.6 L146.1 347.7 L145.5 348.6 L146.5 349.4 L147.2 348.6 L148.1 347.5 L149.1 346.2 L150.3 344.7 L151.5 343.2 L152.9 341.6 L154.2 340.0 L155.6 338.6 L157.0 337.1 L158.6 335.6 L160.2 334.1 L161.8 332.5 L163.5 331.0 L165.2 329.5 L166.9 328.1 L168.6 326.8 L170.3 325.6 L172.0 324.5 L173.8 323.4 L175.7 322.4 L177.5 321.3 L179.3 320.2 L181.0 319.1 L182.7 317.9 L184.3 316.5 L186.0 314.9 L187.6 313.3 L189.2 311.7 L190.6 310.2 L191.9 308.8 L193.0 307.7 L193.8 306.8Z" fill="#7e7e7e"/>
<path d="M165.9 334.7 L165.2 335.0 L164.3 335.5 L163.3 336.0 L162.2 336.7 L161.0 337.3 L159.8 337.9 L158.6 338.5 L157.6 339.0 L156.6 339.4 L155.7 339.7 L154.8 339.9 L153.8 340.1 L152.7 340.5 L151.7 340.9 L150.5 341.5 L149.4 342.2 L148.2 343.3 L147.0 344.6 L145.7 346.1 L144.4 347.7 L143.2 349.2 L142.1 350.6 L141.2 351.7 L140.5 352.6 L141.5 353.4 L142.2 352.6 L143.2 351.5 L144.3 350.2 L145.6 348.7 L146.9 347.2 L148.3 345.9 L149.5 344.7 L150.6 343.8 L151.5 343.1 L152.5 342.7 L153.4 342.4 L154.3 342.1 L155.3 341.9 L156.3 341.7 L157.3 341.4 L158.4 341.0 L159.6 340.5 L160.8 339.9 L162.0 339.3 L163.2 338.7 L164.4 338.1 L165.4 337.5 L166.3 337.1 L166.9 336.7Z" fill="#7e7e7e"/>
<path d="M212.4 293.8 L213.4 294.4 L214.8 295.2 L216.4 296.2 L218.3 297.2 L220.3 298.3 L222.3 299.3 L224.3 300.2 L226.2 300.9 L228.0 301.4 L229.6 301.8 L231.3 302.0 L232.9 302.1 L234.5 302.1 L236.0 302.1 L237.6 301.9 L239.1 301.8 L240.8 301.5 L242.5 301.0 L244.1 300.4 L245.6 299.8 L247.0 299.2 L248.3 298.8 L249.5 298.4 L250.6 298.1 L251.6 297.9 L252.4 297.8 L253.1 297.7 L253.7 297.7 L254.4 297.7 L255.4 297.8 L256.7 298.0 L258.3 298.3 L260.4 298.7 L262.9 299.3 L265.7 300.0 L268.7 300.8 L271.7 301.6 L274.8 302.4 L277.8 303.1 L280.6 303.7 L283.2 304.2 L285.7 304.8 L288.2 305.3 L290.6 305.8 L293.0 306.3 L295.5 306.6 L298.1 306.9 L300.7 307.0 L303.4 307.1 L306.3 307.0 L309.2 306.8 L312.1 306.5 L314.9 306.1 L317.6 305.8 L320.0 305.4 L322.2 305.0 L324.2 304.6 L325.9 304.1 L327.4 303.6 L328.7 303.1 L330.0 302.6 L331.1 302.1 L332.2 301.6 L333.4 301.2 L334.6 300.7 L335.9 300.2 L337.2 299.8 L338.5 299.3 L339.6 298.9 L340.7 298.5 L341.5 298.1 L342.2 297.9 L341.6 296.1 L340.9 296.3 L340.0 296.6 L339.0 296.9 L337.8 297.3 L336.5 297.7 L335.2 298.1 L333.9 298.5 L332.6 298.8 L331.4 299.3 L330.2 299.7 L329.0 300.1 L327.8 300.6 L326.5 301.0 L325.1 301.4 L323.6 301.7 L321.8 302.0 L319.6 302.2 L317.2 302.5 L314.5 302.7 L311.8 302.9 L309.0 303.1 L306.2 303.1 L303.5 303.1 L300.9 303.0 L298.5 302.7 L296.2 302.4 L293.9 301.9 L291.5 301.4 L289.2 300.8 L286.8 300.2 L284.3 299.5 L281.8 298.9 L279.1 298.2 L276.2 297.4 L273.1 296.5 L270.1 295.6 L267.1 294.7 L264.3 293.9 L261.7 293.2 L259.5 292.7 L257.7 292.3 L256.2 292.1 L254.9 291.9 L253.8 291.8 L252.7 291.9 L251.7 292.0 L250.7 292.1 L249.4 292.3 L247.9 292.6 L246.4 293.1 L244.9 293.6 L243.4 294.1 L242.0 294.7 L240.7 295.1 L239.5 295.4 L238.3 295.6 L237.0 295.7 L235.7 295.8 L234.5 295.8 L233.2 295.8 L232.0 295.7 L230.7 295.5 L229.5 295.2 L228.2 294.9 L226.8 294.3 L225.1 293.6 L223.3 292.6 L221.5 291.6 L219.7 290.5 L218.1 289.6 L216.6 288.8 L215.6 288.2Z" fill="#7e7e7e"/>
<path d="M260.7 297.8 L261.5 298.6 L262.6 299.8 L263.9 301.2 L265.4 302.7 L267.0 304.3 L268.6 305.8 L270.3 307.2 L271.8 308.3 L273.4 309.2 L274.9 310.0 L276.4 310.6 L277.9 311.0 L279.3 311.4 L280.8 311.8 L282.2 312.2 L283.5 312.6 L284.9 313.0 L286.3 313.4 L287.7 313.8 L289.1 314.1 L290.5 314.5 L291.9 314.8 L293.3 315.1 L294.7 315.4 L296.2 315.6 L297.6 315.8 L299.0 315.9 L300.4 316.0 L301.8 316.1 L303.2 316.2 L304.6 316.3 L306.0 316.3 L307.4 316.3 L308.8 316.2 L310.1 316.1 L311.5 316.0 L312.8 315.9 L314.0 315.9 L315.3 315.9 L316.6 316.1 L318.0 316.4 L319.5 316.9 L321.1 317.5 L322.7 318.1 L324.2 318.7 L325.6 319.3 L326.8 319.8 L327.7 320.2 L328.3 318.6 L327.5 318.2 L326.4 317.7 L325.0 317.0 L323.5 316.3 L321.8 315.6 L320.2 314.9 L318.6 314.3 L317.0 313.9 L315.5 313.7 L314.1 313.6 L312.7 313.5 L311.3 313.6 L310.0 313.7 L308.6 313.7 L307.3 313.7 L306.0 313.7 L304.7 313.6 L303.4 313.5 L302.0 313.4 L300.6 313.2 L299.3 313.1 L297.9 312.9 L296.6 312.7 L295.3 312.4 L293.9 312.2 L292.6 311.8 L291.3 311.5 L289.9 311.1 L288.6 310.7 L287.2 310.3 L285.9 309.9 L284.5 309.4 L283.1 309.0 L281.6 308.6 L280.2 308.2 L278.9 307.8 L277.6 307.3 L276.3 306.8 L275.0 306.2 L273.8 305.5 L272.5 304.5 L271.0 303.2 L269.5 301.7 L268.0 300.2 L266.5 298.7 L265.2 297.3 L264.1 296.1 L263.3 295.2Z" fill="#7e7e7e"/>
<path d="M214.5 298.9 L215.3 299.6 L216.5 300.5 L217.8 301.7 L219.4 302.9 L221.0 304.3 L222.6 305.6 L224.3 306.8 L225.8 307.9 L227.2 308.9 L228.6 309.8 L229.9 310.8 L231.3 311.6 L232.8 312.5 L234.4 313.3 L236.1 314.1 L237.9 314.9 L240.0 315.5 L242.0 315.9 L244.2 316.3 L246.3 316.6 L248.5 317.0 L250.7 317.4 L253.0 317.9 L255.3 318.6 L257.8 319.5 L260.4 320.6 L263.2 321.7 L266.1 323.0 L269.0 324.3 L271.9 325.6 L274.8 326.9 L277.7 328.1 L280.6 329.2 L283.7 330.4 L286.8 331.6 L289.9 332.7 L292.9 333.8 L295.7 334.7 L298.2 335.5 L300.5 336.2 L302.4 336.5 L304.0 336.4 L305.3 336.1 L306.3 335.8 L307.0 335.5 L307.4 335.3 L307.8 335.3 L308.3 335.5 L309.2 336.2 L310.1 337.2 L311.1 338.5 L312.2 340.0 L313.2 341.5 L314.2 342.9 L315.2 344.2 L316.1 345.3 L317.0 346.1 L317.9 346.7 L318.7 347.2 L319.5 347.5 L320.2 347.8 L320.8 348.0 L321.3 348.1 L321.6 348.3 L322.4 346.7 L321.9 346.5 L321.4 346.3 L320.9 346.1 L320.2 345.9 L319.6 345.5 L318.9 345.1 L318.2 344.6 L317.5 343.9 L316.7 343.0 L315.9 341.8 L315.0 340.3 L314.0 338.7 L313.0 337.2 L312.0 335.7 L310.9 334.4 L309.7 333.5 L308.4 332.9 L307.2 332.8 L306.2 333.0 L305.3 333.3 L304.6 333.6 L303.7 333.8 L302.6 333.7 L301.1 333.4 L299.1 332.8 L296.7 331.9 L294.0 330.9 L291.1 329.7 L288.0 328.5 L285.0 327.2 L282.0 326.0 L279.1 324.7 L276.3 323.5 L273.5 322.2 L270.6 320.8 L267.7 319.4 L264.9 318.1 L262.1 316.8 L259.3 315.6 L256.7 314.6 L254.1 313.8 L251.6 313.2 L249.3 312.7 L247.0 312.3 L244.9 311.9 L243.0 311.5 L241.1 311.1 L239.5 310.5 L237.9 309.9 L236.4 309.2 L235.1 308.5 L233.8 307.7 L232.5 306.9 L231.3 306.0 L229.9 305.0 L228.6 304.1 L227.1 303.0 L225.6 301.8 L224.0 300.5 L222.4 299.2 L220.9 298.0 L219.6 296.8 L218.4 295.9 L217.5 295.1Z" fill="#7e7e7e"/>
<path d="M306.4 336.1 L307.4 335.8 L308.9 335.4 L310.6 334.9 L312.5 334.3 L314.5 333.8 L316.5 333.2 L318.5 332.6 L320.3 332.1 L322.1 331.6 L324.0 331.1 L325.9 330.6 L327.8 330.0 L329.6 329.6 L331.3 329.1 L332.6 328.8 L333.7 328.5 L333.3 327.1 L332.3 327.3 L330.9 327.6 L329.3 327.9 L327.4 328.3 L325.5 328.7 L323.5 329.1 L321.5 329.5 L319.7 329.9 L317.9 330.3 L315.9 330.8 L313.8 331.3 L311.8 331.9 L309.9 332.4 L308.2 332.8 L306.7 333.2 L305.6 333.5Z" fill="#7e7e7e"/>
<path d="M214.7 303.3 L215.0 303.9 L215.4 304.8 L215.9 305.8 L216.4 307.0 L217.1 308.2 L217.9 309.5 L218.8 310.7 L219.9 311.8 L221.1 312.8 L222.6 313.7 L224.2 314.5 L225.8 315.3 L227.4 316.1 L228.9 316.9 L230.3 317.6 L231.5 318.3 L232.5 319.0 L233.5 319.8 L234.4 320.5 L235.2 321.2 L235.9 321.9 L236.6 322.5 L237.1 323.1 L237.6 323.5 L238.4 322.5 L238.0 322.1 L237.5 321.6 L236.9 320.9 L236.2 320.2 L235.4 319.4 L234.5 318.6 L233.6 317.7 L232.5 316.9 L231.2 316.1 L229.8 315.3 L228.3 314.4 L226.7 313.6 L225.1 312.8 L223.7 311.9 L222.4 311.0 L221.3 310.2 L220.5 309.3 L219.7 308.2 L219.0 307.1 L218.5 306.0 L217.9 304.9 L217.5 303.8 L217.1 302.9 L216.7 302.3Z" fill="#7e7e7e"/>
<path d="M202.0 299.2 L202.5 300.6 L203.3 302.6 L204.2 304.9 L205.2 307.6 L206.3 310.3 L207.4 312.9 L208.5 315.4 L209.6 317.5 L210.7 319.2 L211.6 320.8 L212.6 322.3 L213.6 323.7 L214.8 325.0 L216.1 326.2 L217.5 327.3 L219.2 328.4 L221.1 329.3 L223.2 329.9 L225.3 330.4 L227.5 330.8 L229.5 331.1 L231.5 331.4 L233.2 331.7 L234.6 332.1 L235.8 332.5 L236.9 332.9 L237.9 333.3 L238.7 333.8 L239.6 334.3 L240.6 334.8 L241.6 335.4 L242.7 336.1 L243.9 336.8 L245.1 337.5 L246.3 338.2 L247.5 339.0 L248.7 339.8 L250.0 340.6 L251.2 341.6 L252.5 342.7 L253.8 344.1 L255.3 345.6 L256.8 347.3 L258.3 349.0 L259.8 350.9 L261.2 352.6 L262.6 354.4 L263.8 356.0 L264.9 357.4 L265.8 358.9 L266.7 360.3 L267.5 361.8 L268.4 363.2 L269.2 364.5 L270.2 365.9 L271.3 367.1 L272.6 368.3 L274.0 369.4 L275.5 370.4 L277.0 371.3 L278.4 372.2 L279.7 372.9 L280.8 373.5 L281.6 374.0 L282.4 372.6 L281.7 372.1 L280.6 371.4 L279.4 370.6 L278.1 369.7 L276.7 368.7 L275.4 367.6 L274.1 366.6 L273.1 365.5 L272.2 364.3 L271.5 363.1 L270.8 361.8 L270.1 360.4 L269.3 358.9 L268.5 357.3 L267.6 355.7 L266.6 354.0 L265.4 352.3 L264.1 350.5 L262.7 348.6 L261.3 346.6 L259.8 344.7 L258.4 342.9 L256.9 341.2 L255.5 339.7 L254.2 338.3 L252.8 337.1 L251.5 336.0 L250.1 335.1 L248.9 334.2 L247.6 333.4 L246.5 332.6 L245.3 331.9 L244.2 331.2 L243.2 330.5 L242.3 329.9 L241.3 329.3 L240.2 328.7 L239.0 328.1 L237.7 327.5 L236.2 326.9 L234.4 326.4 L232.5 326.0 L230.5 325.6 L228.5 325.2 L226.5 324.8 L224.8 324.3 L223.3 323.8 L222.0 323.2 L221.0 322.5 L220.1 321.7 L219.2 320.9 L218.4 319.9 L217.7 318.8 L216.9 317.5 L216.0 316.1 L215.2 314.5 L214.2 312.7 L213.2 310.4 L212.2 307.9 L211.2 305.2 L210.2 302.6 L209.3 300.3 L208.6 298.3 L208.0 296.8Z" fill="#7e7e7e"/>
<path d="M271.6 365.7 L271.2 366.1 L270.8 366.7 L270.3 367.3 L269.7 368.0 L269.2 368.7 L268.6 369.4 L268.0 370.0 L267.5 370.4 L267.0 370.8 L266.5 371.2 L265.9 371.6 L265.4 371.9 L264.8 372.2 L264.3 372.4 L263.9 372.6 L263.6 372.8 L264.0 373.8 L264.4 373.7 L264.8 373.5 L265.3 373.3 L265.9 373.0 L266.6 372.7 L267.2 372.4 L267.9 372.0 L268.5 371.6 L269.1 371.0 L269.7 370.4 L270.4 369.7 L271.0 369.0 L271.6 368.4 L272.1 367.7 L272.5 367.2 L272.8 366.9Z" fill="#7e7e7e"/>
<path d="M209.7 314.3 L209.9 315.2 L210.1 316.4 L210.4 317.9 L210.8 319.5 L211.1 321.2 L211.5 323.0 L211.9 324.7 L212.3 326.3 L212.6 327.8 L212.8 329.3 L213.1 330.8 L213.4 332.3 L213.8 333.9 L214.1 335.5 L214.6 337.1 L215.2 338.8 L215.9 340.5 L216.7 342.3 L217.5 344.1 L218.4 346.0 L219.4 347.8 L220.4 349.6 L221.5 351.3 L222.6 352.8 L223.8 354.3 L225.1 355.8 L226.6 357.2 L228.1 358.6 L229.5 359.8 L230.7 360.9 L231.8 361.8 L232.6 362.5 L233.4 361.5 L232.7 360.8 L231.7 359.8 L230.4 358.7 L229.1 357.5 L227.7 356.1 L226.4 354.7 L225.1 353.2 L224.0 351.8 L223.1 350.2 L222.1 348.6 L221.2 346.9 L220.3 345.1 L219.5 343.2 L218.7 341.4 L218.0 339.7 L217.4 338.0 L216.9 336.4 L216.4 334.9 L216.1 333.4 L215.8 331.9 L215.6 330.3 L215.3 328.8 L215.0 327.3 L214.7 325.7 L214.4 324.1 L214.1 322.4 L213.7 320.7 L213.4 319.0 L213.0 317.3 L212.7 315.9 L212.5 314.7 L212.3 313.7Z" fill="#7e7e7e"/>
<path d="M215.9 337.4 L214.9 337.8 L213.6 338.2 L211.9 338.8 L210.0 339.4 L208.1 340.2 L206.3 341.1 L204.6 342.1 L203.1 343.3 L202.0 344.8 L201.0 346.5 L200.2 348.4 L199.5 350.3 L198.9 352.2 L198.4 353.9 L198.0 355.3 L197.6 356.3 L198.8 356.7 L199.2 355.7 L199.7 354.3 L200.3 352.7 L200.9 350.9 L201.7 349.1 L202.6 347.3 L203.5 345.8 L204.5 344.7 L205.7 343.7 L207.2 342.9 L208.9 342.1 L210.8 341.4 L212.6 340.8 L214.2 340.3 L215.6 339.8 L216.7 339.4Z" fill="#7e7e7e"/>
<path d="M252.6 343.9 L253.1 344.2 L253.6 344.6 L254.3 345.1 L255.1 345.7 L255.9 346.3 L256.8 346.9 L257.7 347.5 L258.6 347.9 L259.5 348.3 L260.4 348.5 L261.3 348.7 L262.2 348.8 L263.1 349.0 L264.0 349.2 L264.8 349.4 L265.6 349.8 L266.4 350.3 L267.4 351.0 L268.4 351.8 L269.4 352.7 L270.4 353.6 L271.3 354.3 L272.0 355.0 L272.6 355.5 L273.4 354.5 L272.9 354.0 L272.2 353.3 L271.4 352.5 L270.5 351.6 L269.5 350.6 L268.4 349.7 L267.4 348.9 L266.4 348.2 L265.5 347.7 L264.5 347.4 L263.5 347.1 L262.6 346.9 L261.7 346.7 L260.9 346.6 L260.1 346.3 L259.4 346.1 L258.7 345.7 L257.9 345.2 L257.1 344.6 L256.4 344.0 L255.6 343.4 L255.0 342.9 L254.4 342.5 L254.0 342.1Z" fill="#7e7e7e"/>
<path d="M84.6 359.9 L84.5 360.7 L84.5 361.8 L84.4 363.1 L84.3 364.5 L84.2 366.0 L84.1 367.4 L84.0 368.8 L83.9 370.0 L83.9 371.0 L84.0 372.1 L84.1 373.0 L84.2 373.8 L84.2 374.6 L84.2 375.2 L83.9 375.8 L83.5 376.3 L82.8 376.9 L81.9 377.4 L80.8 377.9 L79.4 378.4 L78.0 378.9 L76.6 379.4 L75.2 379.9 L73.8 380.5 L72.4 381.1 L71.0 381.7 L69.6 382.3 L68.1 382.9 L66.7 383.6 L65.3 384.2 L64.0 384.9 L62.8 385.6 L61.6 386.4 L60.5 387.2 L59.5 388.1 L58.5 389.0 L57.6 389.8 L56.9 390.6 L56.2 391.2 L55.7 391.7 L56.3 392.3 L56.8 391.8 L57.5 391.2 L58.2 390.4 L59.1 389.6 L60.1 388.8 L61.1 387.9 L62.2 387.1 L63.2 386.4 L64.4 385.7 L65.7 385.1 L67.1 384.5 L68.5 383.9 L70.0 383.3 L71.4 382.7 L72.9 382.1 L74.2 381.5 L75.6 381.0 L77.0 380.5 L78.4 380.1 L79.9 379.6 L81.2 379.1 L82.5 378.6 L83.6 378.0 L84.5 377.3 L85.1 376.4 L85.5 375.5 L85.6 374.6 L85.6 373.7 L85.5 372.8 L85.4 371.9 L85.3 371.0 L85.3 370.0 L85.4 368.9 L85.5 367.5 L85.7 366.1 L85.8 364.6 L85.9 363.2 L86.0 361.9 L86.1 360.9 L86.2 360.1Z" fill="#7e7e7e"/>
<path d="M83.5 377.4 L84.2 377.9 L85.0 378.6 L86.1 379.5 L87.2 380.5 L88.4 381.5 L89.6 382.5 L90.6 383.5 L91.6 384.4 L92.3 385.3 L93.1 386.1 L93.8 386.8 L94.4 387.6 L95.0 388.4 L95.6 389.2 L96.1 390.2 L96.5 391.2 L97.0 392.4 L97.4 393.8 L97.7 395.4 L98.1 397.0 L98.3 398.5 L98.6 399.9 L98.8 401.1 L99.0 402.0 L99.6 401.8 L99.5 401.0 L99.3 399.8 L99.1 398.4 L98.9 396.8 L98.6 395.2 L98.3 393.6 L97.9 392.1 L97.5 390.8 L97.0 389.7 L96.5 388.7 L95.9 387.8 L95.3 386.9 L94.6 386.1 L94.0 385.3 L93.2 384.5 L92.4 383.6 L91.5 382.6 L90.5 381.6 L89.3 380.5 L88.1 379.4 L87.0 378.4 L86.0 377.5 L85.1 376.8 L84.5 376.2Z" fill="#7e7e7e"/>
<path d="M93.9 386.6 L94.6 386.7 L95.6 386.8 L96.8 387.0 L98.0 387.2 L99.3 387.4 L100.6 387.7 L101.8 388.0 L102.8 388.4 L103.7 388.9 L104.6 389.6 L105.5 390.3 L106.3 391.1 L107.1 391.9 L107.8 392.6 L108.3 393.3 L108.8 393.7 L109.2 393.3 L108.8 392.8 L108.2 392.2 L107.6 391.5 L106.8 390.6 L106.0 389.8 L105.1 388.9 L104.2 388.2 L103.2 387.6 L102.1 387.1 L100.9 386.7 L99.6 386.4 L98.2 386.1 L96.9 385.9 L95.8 385.7 L94.8 385.6 L94.1 385.4Z" fill="#7e7e7e"/>
</g>
<g id="grass">
<path d="M38.2 280.3 L37.9 278.6 L37.5 276.2 L37.1 273.4 L36.5 270.6 L35.9 268.1 L35.2 266.0 L34.3 263.9 L33.5 262.1 L32.7 260.5 L32.2 259.4 L31.2 259.8 L31.7 261.0 L32.4 262.5 L33.1 264.4 L33.8 266.5 L34.4 268.5 L34.8 270.9 L35.1 273.7 L35.4 276.5 L35.6 278.9 L35.8 280.7Z" fill="#b1b1b1"/>
<path d="M38.7 280.4 L38.5 278.2 L38.1 275.0 L37.7 271.3 L37.2 267.6 L36.6 264.4 L36.0 261.5 L35.2 258.8 L34.4 256.2 L33.7 254.1 L33.2 252.6 L32.2 252.8 L32.6 254.4 L33.2 256.6 L33.9 259.1 L34.5 261.9 L35.0 264.7 L35.4 267.8 L35.7 271.5 L36.0 275.2 L36.2 278.4 L36.3 280.6Z" fill="#b1b1b1"/>
<path d="M41.9 280.5 L41.7 277.6 L41.5 273.4 L41.3 268.6 L41.0 263.8 L40.7 259.6 L40.4 255.9 L40.0 252.2 L39.7 248.8 L39.3 245.9 L39.1 243.9 L38.1 243.9 L38.3 246.0 L38.5 248.9 L38.7 252.3 L39.0 256.0 L39.1 259.7 L39.3 263.9 L39.3 268.7 L39.4 273.5 L39.4 277.6 L39.5 280.5Z" fill="#b1b1b1"/>
<path d="M43.9 280.5 L43.9 278.7 L43.8 276.2 L43.7 273.2 L43.6 270.3 L43.4 267.8 L43.3 265.6 L43.2 263.4 L43.1 261.4 L43.1 259.8 L43.0 258.6 L42.0 258.6 L42.0 259.8 L42.0 261.5 L41.9 263.4 L41.9 265.6 L41.9 267.8 L41.8 270.3 L41.7 273.2 L41.7 276.2 L41.6 278.7 L41.5 280.5Z" fill="#b1b1b1"/>
<path d="M46.5 280.5 L46.6 277.6 L46.6 273.5 L46.7 268.7 L46.7 263.9 L46.9 259.7 L47.0 256.0 L47.3 252.3 L47.5 248.9 L47.7 246.0 L47.9 243.9 L46.9 243.9 L46.7 245.9 L46.3 248.8 L46.0 252.2 L45.6 255.9 L45.3 259.6 L45.0 263.8 L44.7 268.6 L44.5 273.4 L44.3 277.6 L44.1 280.5Z" fill="#b1b1b1"/>
<path d="M49.2 280.7 L49.3 279.4 L49.5 277.6 L49.7 275.5 L50.0 273.5 L50.3 271.8 L50.7 270.4 L51.3 268.9 L51.9 267.6 L52.5 266.5 L52.8 265.7 L52.0 265.3 L51.5 266.0 L50.9 267.1 L50.1 268.4 L49.4 269.8 L48.8 271.4 L48.3 273.1 L47.8 275.2 L47.4 277.3 L47.1 279.1 L46.8 280.3Z" fill="#b1b1b1"/>
<path d="M40.5 280.4 L40.3 279.0 L40.0 277.1 L39.7 274.8 L39.3 272.5 L38.9 270.6 L38.4 268.9 L37.9 267.3 L37.3 265.9 L36.8 264.7 L36.5 263.8 L35.5 264.2 L35.8 265.1 L36.2 266.3 L36.6 267.7 L37.0 269.3 L37.4 270.9 L37.6 272.8 L37.8 275.0 L37.9 277.3 L38.0 279.2 L38.1 280.6Z" fill="#b1b1b1"/>
<path d="M47.4 280.6 L47.5 279.1 L47.5 276.9 L47.6 274.4 L47.8 271.9 L48.0 269.8 L48.2 267.9 L48.6 266.1 L48.9 264.5 L49.3 263.1 L49.5 262.1 L48.5 261.9 L48.2 262.8 L47.8 264.2 L47.3 265.8 L46.8 267.6 L46.4 269.5 L46.0 271.7 L45.7 274.2 L45.4 276.7 L45.2 278.9 L45.0 280.4Z" fill="#b1b1b1"/>
<path d="M77.1 281.7 L76.9 281.0 L76.6 280.0 L76.2 278.8 L75.8 277.6 L75.3 276.6 L74.7 275.7 L74.0 275.0 L73.3 274.4 L72.7 274.0 L72.3 273.6 L71.7 274.4 L72.0 274.8 L72.5 275.3 L73.1 275.9 L73.6 276.6 L73.9 277.3 L74.2 278.1 L74.4 279.3 L74.6 280.5 L74.8 281.5 L74.9 282.3Z" fill="#b1b1b1"/>
<path d="M79.1 281.9 L78.9 280.8 L78.7 279.4 L78.4 277.7 L78.1 276.0 L77.7 274.5 L77.2 273.3 L76.7 272.2 L76.2 271.2 L75.8 270.4 L75.5 269.8 L74.5 270.2 L74.8 270.8 L75.2 271.7 L75.6 272.7 L76.0 273.8 L76.2 274.9 L76.4 276.3 L76.6 277.9 L76.7 279.6 L76.9 281.1 L76.9 282.1Z" fill="#b1b1b1"/>
<path d="M81.1 281.9 L81.0 281.1 L80.8 279.9 L80.6 278.6 L80.3 277.3 L80.0 276.2 L79.7 275.3 L79.4 274.5 L79.0 273.8 L78.7 273.2 L78.5 272.8 L77.5 273.2 L77.7 273.6 L77.9 274.2 L78.2 274.9 L78.4 275.7 L78.6 276.5 L78.7 277.6 L78.8 278.8 L78.9 280.2 L78.9 281.3 L79.0 282.1Z" fill="#b1b1b1"/>
<path d="M82.8 282.0 L82.7 280.8 L82.6 279.1 L82.4 277.1 L82.2 275.2 L82.0 273.6 L81.8 272.2 L81.6 270.8 L81.3 269.6 L81.1 268.6 L81.0 267.9 L80.0 268.1 L80.1 268.8 L80.2 269.8 L80.3 271.0 L80.5 272.3 L80.6 273.7 L80.6 275.3 L80.6 277.2 L80.6 279.2 L80.6 280.9 L80.6 282.0Z" fill="#b1b1b1"/>
<path d="M84.5 282.0 L84.4 280.7 L84.4 278.8 L84.2 276.7 L84.1 274.6 L84.0 272.8 L83.9 271.2 L83.8 269.7 L83.7 268.4 L83.6 267.3 L83.5 266.5 L82.5 266.5 L82.5 267.3 L82.5 268.5 L82.5 269.8 L82.5 271.3 L82.5 272.8 L82.5 274.6 L82.4 276.7 L82.4 278.9 L82.3 280.7 L82.3 282.0Z" fill="#b1b1b1"/>
<path d="M86.5 282.0 L86.5 281.1 L86.5 279.7 L86.4 278.1 L86.4 276.6 L86.4 275.3 L86.4 274.2 L86.4 273.2 L86.4 272.3 L86.5 271.6 L86.5 271.0 L85.5 271.0 L85.4 271.5 L85.3 272.2 L85.2 273.1 L85.0 274.1 L84.9 275.2 L84.8 276.5 L84.6 278.1 L84.5 279.7 L84.4 281.0 L84.3 282.0Z" fill="#b1b1b1"/>
<path d="M88.2 282.1 L88.2 280.9 L88.2 279.4 L88.3 277.5 L88.3 275.8 L88.3 274.3 L88.4 273.0 L88.6 271.8 L88.7 270.7 L88.9 269.8 L89.0 269.1 L88.0 268.9 L87.9 269.6 L87.6 270.5 L87.4 271.6 L87.1 272.8 L86.9 274.1 L86.7 275.6 L86.5 277.4 L86.3 279.3 L86.1 280.8 L86.0 281.9Z" fill="#b1b1b1"/>
<path d="M89.8 282.1 L89.8 280.9 L89.9 279.3 L89.9 277.4 L90.0 275.6 L90.2 274.0 L90.3 272.7 L90.6 271.4 L90.9 270.3 L91.1 269.3 L91.3 268.6 L90.3 268.4 L90.1 269.0 L89.8 270.0 L89.4 271.1 L89.0 272.4 L88.7 273.8 L88.4 275.4 L88.1 277.3 L87.9 279.1 L87.7 280.8 L87.6 281.9Z" fill="#b1b1b1"/>
<path d="M91.9 282.2 L92.0 281.4 L92.1 280.2 L92.3 278.9 L92.4 277.6 L92.6 276.6 L92.9 275.8 L93.3 275.0 L93.7 274.3 L94.1 273.7 L94.4 273.3 L93.6 272.7 L93.3 273.1 L92.8 273.7 L92.3 274.4 L91.7 275.2 L91.2 276.1 L90.8 277.3 L90.5 278.6 L90.2 279.9 L89.9 281.0 L89.7 281.8Z" fill="#b1b1b1"/>
<path d="M95.0 282.4 L95.2 281.9 L95.4 281.2 L95.6 280.4 L95.9 279.6 L96.2 279.1 L96.6 278.7 L97.2 278.3 L97.9 278.0 L98.5 277.7 L98.9 277.5 L98.5 276.5 L98.1 276.7 L97.4 276.9 L96.6 277.1 L95.8 277.5 L95.1 278.0 L94.5 278.8 L94.0 279.6 L93.5 280.4 L93.2 281.1 L93.0 281.6Z" fill="#b1b1b1"/>
<path d="M79.8 281.8 L79.6 281.3 L79.4 280.6 L79.1 279.8 L78.8 278.9 L78.4 278.2 L77.9 277.7 L77.4 277.3 L76.9 277.0 L76.6 276.7 L76.3 276.6 L75.7 277.4 L75.9 277.6 L76.3 277.9 L76.6 278.2 L76.9 278.6 L77.1 278.9 L77.2 279.5 L77.4 280.2 L77.5 281.0 L77.6 281.7 L77.6 282.2Z" fill="#b1b1b1"/>
<path d="M93.2 282.3 L93.4 281.6 L93.5 280.7 L93.7 279.6 L93.9 278.6 L94.2 277.8 L94.5 277.3 L95.0 276.7 L95.5 276.2 L96.0 275.7 L96.3 275.4 L95.7 274.6 L95.3 274.9 L94.8 275.3 L94.1 275.8 L93.4 276.4 L92.9 277.1 L92.4 278.0 L92.0 279.1 L91.6 280.2 L91.3 281.1 L91.1 281.7Z" fill="#b1b1b1"/>
<path d="M90.6 282.2 L90.6 281.6 L90.7 280.8 L90.8 279.8 L90.9 279.0 L91.0 278.3 L91.2 277.8 L91.5 277.4 L91.8 277.0 L92.1 276.6 L92.4 276.3 L91.6 275.7 L91.4 275.9 L91.0 276.2 L90.6 276.6 L90.1 277.1 L89.7 277.7 L89.4 278.5 L89.0 279.5 L88.8 280.4 L88.6 281.2 L88.4 281.8Z" fill="#b1b1b1"/>
<path d="M112.1 281.9 L112.0 281.0 L111.8 279.7 L111.5 278.1 L111.2 276.7 L110.9 275.4 L110.5 274.3 L110.0 273.3 L109.6 272.5 L109.2 271.8 L109.0 271.3 L108.0 271.7 L108.2 272.2 L108.5 273.0 L108.9 273.8 L109.2 274.7 L109.4 275.7 L109.5 276.9 L109.7 278.4 L109.7 279.9 L109.8 281.2 L109.9 282.1Z" fill="#b1b1b1"/>
<path d="M114.1 281.9 L114.0 280.7 L113.8 278.8 L113.6 276.7 L113.4 274.5 L113.2 272.7 L113.0 271.2 L112.7 269.7 L112.4 268.3 L112.2 267.2 L112.0 266.4 L111.0 266.6 L111.1 267.4 L111.3 268.5 L111.4 269.9 L111.6 271.3 L111.7 272.9 L111.7 274.7 L111.8 276.8 L111.8 278.9 L111.8 280.8 L111.8 282.1Z" fill="#b1b1b1"/>
<path d="M115.7 282.0 L115.6 281.1 L115.5 279.8 L115.4 278.4 L115.2 277.0 L115.1 275.8 L115.0 274.8 L114.8 273.9 L114.7 273.1 L114.6 272.4 L114.5 271.9 L113.5 272.1 L113.5 272.5 L113.6 273.2 L113.6 274.0 L113.6 274.9 L113.6 275.9 L113.6 277.0 L113.5 278.4 L113.5 279.9 L113.4 281.2 L113.4 282.0Z" fill="#b1b1b1"/>
<path d="M117.0 282.0 L116.9 280.8 L116.9 279.1 L116.8 277.2 L116.7 275.3 L116.7 273.6 L116.6 272.2 L116.6 270.9 L116.5 269.7 L116.5 268.7 L116.5 268.0 L115.5 268.0 L115.5 268.7 L115.4 269.7 L115.3 270.9 L115.2 272.2 L115.1 273.6 L115.0 275.3 L114.9 277.2 L114.8 279.1 L114.8 280.8 L114.7 282.0Z" fill="#b1b1b1"/>
<path d="M118.5 282.0 L118.5 280.6 L118.5 278.5 L118.5 276.2 L118.5 273.8 L118.5 271.8 L118.6 270.1 L118.7 268.4 L118.7 266.9 L118.8 265.6 L118.9 264.7 L117.9 264.5 L117.8 265.5 L117.6 266.7 L117.4 268.3 L117.2 270.0 L117.0 271.7 L116.8 273.7 L116.6 276.1 L116.5 278.5 L116.3 280.5 L116.2 282.0Z" fill="#b1b1b1"/>
<path d="M120.2 282.1 L120.2 281.1 L120.3 279.6 L120.3 277.9 L120.4 276.2 L120.5 274.8 L120.7 273.7 L120.9 272.6 L121.1 271.6 L121.3 270.8 L121.5 270.1 L120.5 269.9 L120.3 270.4 L120.0 271.3 L119.7 272.3 L119.3 273.4 L119.0 274.6 L118.7 276.0 L118.5 277.7 L118.2 279.4 L118.1 280.9 L117.9 281.9Z" fill="#b1b1b1"/>
<path d="M122.1 282.2 L122.2 281.3 L122.3 280.1 L122.4 278.7 L122.6 277.4 L122.8 276.3 L123.1 275.5 L123.4 274.6 L123.8 273.9 L124.2 273.2 L124.4 272.8 L123.6 272.2 L123.3 272.7 L122.8 273.3 L122.3 274.0 L121.8 274.9 L121.3 275.9 L120.9 277.1 L120.6 278.4 L120.3 279.8 L120.0 281.0 L119.9 281.8Z" fill="#b1b1b1"/>
<path d="M133.2 281.7 L132.9 280.9 L132.6 279.6 L132.2 278.2 L131.7 276.7 L131.1 275.5 L130.4 274.4 L129.7 273.5 L128.9 272.7 L128.2 272.1 L127.8 271.7 L127.0 272.3 L127.4 272.8 L128.0 273.5 L128.6 274.4 L129.2 275.3 L129.7 276.2 L130.0 277.3 L130.3 278.7 L130.5 280.1 L130.7 281.4 L130.8 282.3Z" fill="#b1b1b1"/>
<path d="M134.7 281.8 L134.5 280.7 L134.2 279.0 L133.9 277.0 L133.5 275.1 L133.1 273.4 L132.5 272.0 L131.9 270.7 L131.3 269.5 L130.8 268.5 L130.5 267.8 L129.5 268.2 L129.8 268.9 L130.3 270.0 L130.7 271.2 L131.2 272.5 L131.5 273.8 L131.8 275.4 L132.0 277.3 L132.1 279.3 L132.2 281.0 L132.3 282.2Z" fill="#b1b1b1"/>
<path d="M136.6 281.9 L136.5 280.5 L136.3 278.5 L136.0 276.1 L135.8 273.8 L135.5 271.8 L135.1 270.0 L134.8 268.3 L134.4 266.8 L134.0 265.6 L133.8 264.7 L132.8 264.9 L133.0 265.8 L133.2 267.1 L133.5 268.6 L133.7 270.3 L133.9 272.0 L134.0 273.9 L134.1 276.3 L134.2 278.6 L134.2 280.6 L134.2 282.1Z" fill="#b1b1b1"/>
<path d="M138.2 281.9 L138.1 280.9 L138.0 279.4 L137.8 277.8 L137.6 276.1 L137.4 274.7 L137.2 273.5 L137.0 272.3 L136.8 271.3 L136.6 270.5 L136.5 269.9 L135.5 270.1 L135.6 270.7 L135.7 271.5 L135.7 272.5 L135.8 273.6 L135.9 274.8 L135.9 276.2 L135.9 277.8 L135.9 279.5 L135.8 281.0 L135.8 282.1Z" fill="#b1b1b1"/>
<path d="M140.9 282.0 L140.9 280.8 L140.9 279.1 L140.9 277.1 L140.9 275.2 L140.9 273.5 L140.9 272.1 L141.0 270.8 L141.1 269.5 L141.1 268.5 L141.2 267.8 L140.2 267.6 L140.1 268.4 L139.9 269.4 L139.7 270.6 L139.5 272.0 L139.3 273.4 L139.1 275.1 L139.0 277.0 L138.8 279.0 L138.6 280.8 L138.5 282.0Z" fill="#b1b1b1"/>
<path d="M142.3 282.1 L142.3 281.2 L142.3 280.0 L142.4 278.5 L142.4 277.1 L142.5 276.0 L142.7 275.0 L142.9 274.1 L143.1 273.3 L143.3 272.7 L143.5 272.2 L142.5 271.8 L142.3 272.3 L142.0 272.9 L141.7 273.7 L141.3 274.7 L141.0 275.7 L140.7 276.9 L140.5 278.3 L140.2 279.8 L140.0 281.0 L139.9 281.9Z" fill="#b1b1b1"/>
<path d="M145.1 282.4 L145.3 281.8 L145.4 281.0 L145.6 280.2 L145.8 279.4 L146.1 278.8 L146.4 278.3 L146.8 277.9 L147.4 277.5 L147.9 277.2 L148.2 276.9 L147.8 276.1 L147.4 276.2 L146.8 276.5 L146.1 276.8 L145.4 277.2 L144.7 277.8 L144.2 278.6 L143.8 279.5 L143.4 280.4 L143.1 281.1 L142.9 281.6Z" fill="#b1b1b1"/>
<path d="M166.6 281.3 L166.4 280.7 L166.2 279.7 L165.9 278.5 L165.6 277.4 L165.3 276.5 L164.9 275.7 L164.4 275.0 L164.0 274.4 L163.6 274.0 L163.3 273.7 L162.5 274.3 L162.7 274.7 L163.0 275.1 L163.4 275.7 L163.7 276.3 L163.9 276.9 L164.1 277.8 L164.2 278.9 L164.3 280.0 L164.4 281.0 L164.4 281.7Z" fill="#b1b1b1"/>
<path d="M168.2 281.4 L168.1 280.4 L167.9 278.8 L167.7 277.1 L167.5 275.3 L167.3 273.9 L167.0 272.6 L166.7 271.4 L166.4 270.4 L166.2 269.5 L166.0 268.9 L165.0 269.1 L165.1 269.8 L165.3 270.6 L165.5 271.7 L165.7 272.8 L165.8 274.0 L165.9 275.5 L165.9 277.2 L166.0 279.0 L166.0 280.5 L166.0 281.6Z" fill="#b1b1b1"/>
<path d="M170.2 281.5 L170.1 280.2 L170.1 278.4 L170.0 276.3 L169.8 274.2 L169.7 272.4 L169.6 270.9 L169.5 269.5 L169.4 268.2 L169.4 267.1 L169.3 266.3 L168.3 266.3 L168.3 267.1 L168.3 268.2 L168.3 269.5 L168.3 271.0 L168.3 272.5 L168.2 274.2 L168.2 276.3 L168.1 278.4 L168.0 280.2 L168.0 281.5Z" fill="#b1b1b1"/>
<path d="M171.6 281.5 L171.5 280.6 L171.5 279.3 L171.4 277.8 L171.4 276.3 L171.4 275.1 L171.4 274.1 L171.4 273.1 L171.4 272.3 L171.5 271.6 L171.5 271.0 L170.5 271.0 L170.4 271.5 L170.3 272.2 L170.2 273.0 L170.0 274.0 L169.9 275.0 L169.8 276.3 L169.7 277.7 L169.5 279.2 L169.4 280.6 L169.4 281.5Z" fill="#b1b1b1"/>
<path d="M173.4 281.6 L173.4 280.5 L173.4 279.0 L173.5 277.2 L173.5 275.5 L173.6 274.1 L173.8 272.8 L174.0 271.7 L174.2 270.6 L174.4 269.8 L174.5 269.1 L173.5 268.9 L173.3 269.5 L173.1 270.4 L172.7 271.4 L172.4 272.6 L172.2 273.8 L171.9 275.3 L171.7 277.1 L171.5 278.8 L171.3 280.4 L171.2 281.4Z" fill="#b1b1b1"/>
<path d="M175.6 281.7 L175.7 281.2 L175.8 280.3 L175.9 279.4 L176.1 278.5 L176.2 277.9 L176.5 277.4 L176.9 276.9 L177.3 276.5 L177.6 276.2 L177.9 275.9 L177.3 275.1 L177.0 275.3 L176.5 275.6 L176.0 276.0 L175.4 276.5 L174.9 277.2 L174.5 278.0 L174.2 278.9 L173.9 279.9 L173.6 280.7 L173.4 281.3Z" fill="#b1b1b1"/>
<path d="M236.4 280.7 L236.0 279.4 L235.5 277.6 L234.8 275.6 L234.0 273.5 L233.1 271.7 L232.0 270.1 L230.6 268.7 L229.3 267.4 L228.1 266.4 L227.4 265.7 L226.6 266.3 L227.4 267.2 L228.4 268.3 L229.6 269.6 L230.7 271.1 L231.5 272.5 L232.2 274.2 L232.8 276.2 L233.2 278.2 L233.6 280.1 L233.9 281.3Z" fill="#b1b1b1"/>
<path d="M237.9 280.8 L237.5 278.7 L237.1 275.6 L236.5 272.1 L235.8 268.6 L235.1 265.5 L234.2 262.8 L233.1 260.1 L232.1 257.7 L231.1 255.7 L230.5 254.2 L229.5 254.6 L230.1 256.1 L230.9 258.2 L231.9 260.6 L232.8 263.2 L233.5 265.9 L234.0 268.9 L234.4 272.4 L234.8 275.9 L235.1 279.0 L235.3 281.2Z" fill="#b1b1b1"/>
<path d="M239.8 280.8 L239.5 279.3 L239.2 277.1 L238.7 274.5 L238.2 271.9 L237.7 269.7 L237.1 267.7 L236.3 265.9 L235.6 264.2 L234.9 262.8 L234.5 261.8 L233.5 262.2 L233.9 263.2 L234.5 264.7 L235.1 266.4 L235.6 268.2 L236.1 270.1 L236.4 272.2 L236.7 274.8 L236.9 277.3 L237.0 279.6 L237.2 281.2Z" fill="#b1b1b1"/>
<path d="M241.6 280.9 L241.5 279.2 L241.3 276.8 L241.0 273.9 L240.7 271.1 L240.4 268.7 L240.0 266.5 L239.6 264.5 L239.1 262.6 L238.8 261.0 L238.5 259.9 L237.5 260.1 L237.7 261.2 L237.9 262.8 L238.2 264.7 L238.5 266.8 L238.7 268.9 L238.8 271.3 L238.9 274.1 L239.0 276.9 L239.0 279.4 L239.0 281.1Z" fill="#b1b1b1"/>
<path d="M243.5 281.0 L243.5 279.7 L243.3 277.7 L243.2 275.5 L243.1 273.4 L243.0 271.5 L242.9 269.9 L242.8 268.4 L242.7 267.0 L242.6 265.8 L242.5 265.0 L241.5 265.0 L241.5 265.9 L241.5 267.0 L241.4 268.4 L241.4 269.9 L241.3 271.5 L241.3 273.4 L241.2 275.6 L241.1 277.8 L241.0 279.7 L240.9 281.0Z" fill="#b1b1b1"/>
<path d="M244.9 281.0 L244.9 279.4 L244.9 277.0 L244.9 274.4 L244.9 271.7 L244.9 269.4 L245.0 267.4 L245.2 265.4 L245.3 263.6 L245.4 262.1 L245.5 261.1 L244.5 260.9 L244.3 262.0 L244.1 263.5 L243.8 265.3 L243.5 267.2 L243.3 269.3 L243.1 271.6 L242.8 274.3 L242.6 277.0 L242.5 279.3 L242.3 281.0Z" fill="#b1b1b1"/>
<path d="M246.6 281.1 L246.7 279.3 L246.8 276.7 L246.9 273.7 L247.1 270.8 L247.3 268.3 L247.6 266.1 L248.0 263.9 L248.4 261.9 L248.8 260.2 L249.1 259.0 L248.1 258.8 L247.8 260.0 L247.3 261.6 L246.7 263.6 L246.1 265.8 L245.6 268.0 L245.2 270.6 L244.9 273.6 L244.5 276.5 L244.2 279.1 L244.0 280.9Z" fill="#b1b1b1"/>
<path d="M248.0 281.3 L248.1 280.5 L248.3 279.4 L248.5 278.1 L248.8 276.9 L249.1 275.9 L249.6 275.1 L250.2 274.3 L250.8 273.6 L251.4 273.0 L251.8 272.6 L251.2 271.8 L250.7 272.2 L250.0 272.7 L249.2 273.4 L248.4 274.2 L247.6 275.1 L247.0 276.2 L246.5 277.5 L246.1 278.8 L245.7 279.9 L245.4 280.7Z" fill="#b1b1b1"/>
<path d="M235.9 280.4 L235.4 279.7 L234.9 278.7 L234.1 277.5 L233.3 276.3 L232.3 275.3 L231.0 274.5 L229.6 273.8 L228.2 273.3 L227.0 272.9 L226.2 272.5 L225.8 273.5 L226.6 273.9 L227.7 274.4 L229.0 275.1 L230.2 275.9 L231.0 276.6 L231.7 277.5 L232.3 278.6 L232.8 279.8 L233.2 280.8 L233.5 281.6Z" fill="#b1b1b1"/>
<path d="M301.2 280.4 L300.6 279.4 L299.9 278.0 L298.9 276.4 L297.7 274.8 L296.4 273.4 L294.7 272.2 L292.8 271.2 L290.9 270.4 L289.2 269.7 L288.0 269.2 L287.6 270.0 L288.7 270.7 L290.3 271.5 L292.1 272.5 L293.8 273.6 L295.1 274.7 L296.1 276.0 L296.9 277.6 L297.7 279.2 L298.3 280.6 L298.8 281.6Z" fill="#b1b1b1"/>
<path d="M303.0 280.8 L302.6 278.3 L302.0 274.7 L301.2 270.5 L300.3 266.3 L299.3 262.6 L298.1 259.4 L296.6 256.2 L295.2 253.3 L293.9 250.8 L293.0 249.1 L292.0 249.5 L292.9 251.3 L294.0 253.8 L295.4 256.8 L296.6 260.0 L297.6 263.1 L298.4 266.7 L299.1 270.9 L299.6 275.0 L300.0 278.7 L300.4 281.2Z" fill="#b1b1b1"/>
<path d="M304.3 280.7 L304.0 279.2 L303.5 277.0 L302.8 274.4 L302.1 271.8 L301.4 269.6 L300.4 267.6 L299.3 265.8 L298.1 264.1 L297.1 262.7 L296.4 261.7 L295.6 262.3 L296.2 263.3 L297.1 264.8 L298.1 266.5 L299.0 268.3 L299.7 270.2 L300.3 272.3 L300.7 274.8 L301.1 277.4 L301.4 279.7 L301.7 281.3Z" fill="#b1b1b1"/>
<path d="M305.8 280.9 L305.5 278.9 L305.2 276.0 L304.8 272.6 L304.3 269.3 L303.7 266.4 L303.1 263.9 L302.4 261.4 L301.6 259.1 L300.9 257.2 L300.5 255.9 L299.5 256.1 L299.9 257.5 L300.4 259.5 L301.0 261.7 L301.6 264.2 L302.0 266.7 L302.4 269.6 L302.6 272.9 L302.8 276.2 L303.0 279.1 L303.1 281.1Z" fill="#b1b1b1"/>
<path d="M307.3 280.9 L307.1 279.5 L306.9 277.5 L306.6 275.2 L306.4 272.9 L306.1 270.9 L305.8 269.2 L305.4 267.5 L305.0 266.0 L304.7 264.8 L304.5 263.9 L303.5 264.1 L303.6 265.0 L303.8 266.3 L304.1 267.8 L304.3 269.4 L304.4 271.1 L304.5 273.0 L304.5 275.3 L304.5 277.6 L304.5 279.7 L304.6 281.1Z" fill="#b1b1b1"/>
<path d="M309.1 281.0 L309.1 278.5 L309.0 275.0 L309.0 270.9 L309.0 266.8 L309.0 263.3 L309.1 260.2 L309.2 257.1 L309.3 254.2 L309.4 251.8 L309.5 250.0 L308.5 250.0 L308.3 251.7 L308.1 254.1 L307.8 257.0 L307.6 260.1 L307.3 263.2 L307.1 266.8 L306.9 270.9 L306.7 274.9 L306.5 278.5 L306.4 281.0Z" fill="#b1b1b1"/>
<path d="M310.8 281.1 L310.9 277.8 L311.1 273.2 L311.2 267.9 L311.5 262.5 L311.8 257.9 L312.2 253.7 L312.8 249.5 L313.3 245.7 L313.8 242.4 L314.2 240.1 L313.2 239.9 L312.8 242.2 L312.1 245.5 L311.4 249.3 L310.7 253.5 L310.1 257.7 L309.6 262.4 L309.1 267.7 L308.7 273.1 L308.3 277.7 L308.1 280.9Z" fill="#b1b1b1"/>
<path d="M311.6 281.2 L311.8 279.3 L312.0 276.6 L312.3 273.5 L312.7 270.5 L313.1 267.9 L313.7 265.6 L314.5 263.3 L315.3 261.2 L316.0 259.5 L316.5 258.2 L315.5 257.8 L315.0 259.0 L314.1 260.8 L313.2 262.8 L312.2 265.1 L311.4 267.5 L310.8 270.1 L310.2 273.2 L309.7 276.3 L309.3 279.0 L308.9 280.8Z" fill="#b1b1b1"/>
<path d="M313.3 281.2 L313.6 278.9 L314.0 275.6 L314.5 271.8 L315.1 268.1 L315.8 264.8 L316.8 262.0 L317.9 259.1 L319.2 256.5 L320.3 254.2 L321.0 252.6 L320.2 252.2 L319.3 253.7 L318.1 255.9 L316.7 258.5 L315.3 261.4 L314.1 264.3 L313.2 267.7 L312.4 271.5 L311.6 275.2 L311.1 278.5 L310.6 280.8Z" fill="#b1b1b1"/>
<path d="M315.2 281.7 L315.6 280.8 L316.3 279.5 L317.0 278.1 L317.9 276.8 L318.9 275.7 L320.2 274.7 L321.9 273.8 L323.7 272.9 L325.3 272.2 L326.4 271.7 L326.0 270.7 L324.9 271.1 L323.2 271.7 L321.2 272.4 L319.3 273.2 L317.7 274.2 L316.3 275.4 L315.2 276.8 L314.2 278.3 L313.4 279.5 L312.8 280.3Z" fill="#b1b1b1"/>
<path d="M309.8 281.1 L309.8 279.8 L309.9 278.0 L310.0 276.0 L310.0 273.9 L310.2 272.2 L310.4 270.8 L310.7 269.3 L311.0 268.0 L311.3 266.9 L311.5 266.1 L310.5 265.9 L310.2 266.6 L309.8 267.7 L309.4 269.0 L308.9 270.4 L308.5 271.9 L308.2 273.7 L307.8 275.8 L307.5 277.8 L307.3 279.6 L307.1 280.9Z" fill="#b1b1b1"/>
<path d="M341.0 281.3 L340.8 280.5 L340.5 279.4 L340.2 278.2 L339.7 276.9 L339.3 275.8 L338.7 274.9 L338.0 274.2 L337.3 273.5 L336.8 273.0 L336.4 272.7 L335.6 273.3 L336.0 273.8 L336.5 274.3 L337.0 275.0 L337.6 275.7 L337.9 276.5 L338.2 277.4 L338.5 278.6 L338.7 279.8 L338.8 280.9 L339.0 281.7Z" fill="#b1b1b1"/>
<path d="M342.8 281.4 L342.6 280.3 L342.4 278.8 L342.1 277.0 L341.8 275.3 L341.5 273.8 L341.1 272.5 L340.6 271.3 L340.1 270.3 L339.7 269.4 L339.5 268.8 L338.5 269.2 L338.8 269.8 L339.1 270.7 L339.5 271.8 L339.8 272.9 L340.1 274.1 L340.3 275.5 L340.4 277.2 L340.5 279.0 L340.6 280.5 L340.7 281.6Z" fill="#b1b1b1"/>
<path d="M344.5 281.4 L344.4 280.6 L344.3 279.4 L344.1 278.0 L343.9 276.6 L343.7 275.5 L343.4 274.5 L343.1 273.7 L342.9 272.9 L342.6 272.3 L342.5 271.9 L341.5 272.1 L341.6 272.6 L341.8 273.2 L342.0 274.0 L342.1 274.8 L342.3 275.7 L342.3 276.8 L342.4 278.1 L342.4 279.5 L342.4 280.7 L342.4 281.6Z" fill="#b1b1b1"/>
<path d="M346.3 281.5 L346.2 280.3 L346.1 278.7 L346.0 276.8 L345.9 275.0 L345.9 273.4 L345.8 272.0 L345.7 270.8 L345.6 269.6 L345.5 268.7 L345.5 268.0 L344.5 268.0 L344.5 268.7 L344.5 269.7 L344.5 270.8 L344.4 272.1 L344.4 273.4 L344.4 275.0 L344.3 276.8 L344.2 278.7 L344.2 280.4 L344.2 281.5Z" fill="#b1b1b1"/>
<path d="M347.4 281.5 L347.4 280.3 L347.4 278.5 L347.3 276.4 L347.3 274.3 L347.3 272.6 L347.3 271.1 L347.4 269.7 L347.4 268.4 L347.5 267.3 L347.5 266.5 L346.5 266.5 L346.4 267.2 L346.3 268.3 L346.1 269.6 L346.0 271.0 L345.9 272.5 L345.7 274.3 L345.6 276.3 L345.5 278.4 L345.4 280.2 L345.3 281.5Z" fill="#b1b1b1"/>
<path d="M349.1 281.6 L349.2 280.6 L349.2 279.2 L349.3 277.5 L349.4 275.9 L349.5 274.6 L349.6 273.5 L349.9 272.5 L350.1 271.5 L350.3 270.7 L350.5 270.1 L349.5 269.9 L349.3 270.4 L349.0 271.2 L348.7 272.1 L348.3 273.2 L348.1 274.4 L347.8 275.8 L347.6 277.4 L347.4 279.0 L347.2 280.4 L347.0 281.4Z" fill="#b1b1b1"/>
<path d="M351.0 281.7 L351.1 281.0 L351.3 280.0 L351.4 278.9 L351.6 277.8 L351.8 277.0 L352.1 276.4 L352.5 275.7 L353.0 275.2 L353.4 274.7 L353.7 274.3 L352.9 273.7 L352.6 274.0 L352.1 274.4 L351.6 274.9 L351.0 275.6 L350.5 276.4 L350.1 277.4 L349.7 278.5 L349.4 279.6 L349.2 280.6 L349.0 281.3Z" fill="#b1b1b1"/>
<path d="M439.7 281.2 L439.4 280.1 L439.0 278.5 L438.5 276.6 L438.0 274.7 L437.3 273.1 L436.6 271.7 L435.7 270.4 L434.7 269.3 L433.9 268.4 L433.4 267.7 L432.6 268.3 L433.1 269.0 L433.8 270.0 L434.5 271.2 L435.3 272.4 L435.8 273.7 L436.2 275.2 L436.6 277.1 L436.9 278.9 L437.1 280.6 L437.3 281.8Z" fill="#b1b1b1"/>
<path d="M440.8 281.3 L440.6 279.7 L440.2 277.4 L439.8 274.8 L439.3 272.1 L438.8 269.8 L438.1 267.8 L437.4 265.8 L436.6 264.1 L435.9 262.7 L435.5 261.6 L434.5 262.0 L434.9 263.1 L435.5 264.6 L436.1 266.3 L436.7 268.2 L437.2 270.2 L437.5 272.4 L437.8 275.0 L438.0 277.7 L438.2 280.0 L438.4 281.7Z" fill="#b1b1b1"/>
<path d="M443.0 281.4 L442.8 280.1 L442.6 278.2 L442.3 276.1 L442.0 274.0 L441.6 272.2 L441.2 270.6 L440.7 269.1 L440.2 267.7 L439.8 266.6 L439.5 265.8 L438.5 266.2 L438.7 267.0 L439.1 268.1 L439.4 269.5 L439.8 270.9 L440.0 272.4 L440.2 274.2 L440.3 276.3 L440.4 278.4 L440.5 280.3 L440.5 281.6Z" fill="#b1b1b1"/>
<path d="M444.7 281.4 L444.5 280.0 L444.4 277.8 L444.2 275.4 L443.9 273.0 L443.7 270.9 L443.5 269.0 L443.2 267.3 L442.9 265.7 L442.7 264.4 L442.5 263.4 L441.5 263.6 L441.6 264.5 L441.7 265.9 L441.9 267.5 L442.0 269.2 L442.1 271.0 L442.2 273.1 L442.2 275.5 L442.2 277.9 L442.2 280.1 L442.2 281.6Z" fill="#b1b1b1"/>
<path d="M446.8 281.5 L446.8 280.2 L446.7 278.4 L446.7 276.2 L446.6 274.1 L446.5 272.3 L446.5 270.8 L446.5 269.3 L446.5 268.0 L446.5 266.8 L446.5 266.0 L445.5 266.0 L445.4 266.8 L445.3 267.9 L445.2 269.2 L445.1 270.7 L444.9 272.3 L444.8 274.1 L444.7 276.2 L444.5 278.3 L444.4 280.2 L444.3 281.5Z" fill="#b1b1b1"/>
<path d="M448.5 281.6 L448.5 279.9 L448.5 277.5 L448.5 274.7 L448.6 272.0 L448.7 269.6 L448.8 267.6 L449.0 265.6 L449.2 263.7 L449.4 262.2 L449.5 261.1 L448.5 260.9 L448.3 262.0 L448.0 263.6 L447.7 265.4 L447.3 267.4 L447.0 269.5 L446.8 271.9 L446.5 274.6 L446.3 277.4 L446.1 279.8 L446.0 281.4Z" fill="#b1b1b1"/>
<path d="M450.8 281.6 L450.9 279.5 L451.0 276.5 L451.2 273.1 L451.4 269.6 L451.6 266.7 L452.0 264.1 L452.5 261.5 L452.9 259.2 L453.4 257.2 L453.7 255.7 L452.7 255.5 L452.3 256.9 L451.8 258.9 L451.1 261.2 L450.5 263.8 L450.0 266.5 L449.6 269.5 L449.1 272.9 L448.8 276.3 L448.5 279.3 L448.3 281.4Z" fill="#b1b1b1"/>
<path d="M451.7 281.7 L451.9 280.5 L452.0 278.9 L452.3 277.0 L452.5 275.2 L452.9 273.7 L453.3 272.4 L453.9 271.1 L454.5 270.0 L455.0 269.0 L455.4 268.3 L454.6 267.7 L454.1 268.4 L453.5 269.3 L452.7 270.5 L451.9 271.7 L451.3 273.1 L450.8 274.8 L450.3 276.7 L449.9 278.5 L449.5 280.2 L449.3 281.3Z" fill="#b1b1b1"/>
<path d="M450.1 281.7 L450.2 280.8 L450.3 279.6 L450.4 278.3 L450.5 276.9 L450.7 275.9 L451.0 275.0 L451.4 274.2 L451.8 273.4 L452.2 272.8 L452.4 272.3 L451.6 271.7 L451.3 272.2 L450.8 272.7 L450.2 273.5 L449.7 274.4 L449.2 275.3 L448.8 276.5 L448.4 277.9 L448.1 279.3 L447.8 280.5 L447.6 281.3Z" fill="#b1b1b1"/>
</g>
<g id="bush">
<g fill="#b3b3b3"><ellipse cx="376.1" cy="249.0" rx="4.3" ry="1.7" transform="rotate(-133 376.1 249.0)"/><ellipse cx="380.5" cy="243.3" rx="4.3" ry="1.8" transform="rotate(-52 380.5 243.3)"/><ellipse cx="375.6" cy="238.0" rx="4.0" ry="1.8" transform="rotate(-123 375.6 238.0)"/><ellipse cx="378.8" cy="232.2" rx="4.5" ry="1.4" transform="rotate(-60 378.8 232.2)"/><ellipse cx="373.8" cy="228.1" rx="3.7" ry="1.6" transform="rotate(-134 373.8 228.1)"/><ellipse cx="374.8" cy="223.5" rx="4.1" ry="1.3" transform="rotate(-100 374.8 223.5)"/><ellipse cx="372.6" cy="254.9" rx="3.7" ry="1.8" transform="rotate(-139 372.6 254.9)"/><ellipse cx="373.7" cy="248.4" rx="3.6" ry="1.7" transform="rotate(-74 373.7 248.4)"/><ellipse cx="367.1" cy="243.9" rx="4.1" ry="1.4" transform="rotate(-146 367.1 243.9)"/><ellipse cx="366.6" cy="236.7" rx="4.4" ry="1.4" transform="rotate(-97 366.6 236.7)"/><ellipse cx="362.6" cy="234.0" rx="3.7" ry="1.8" transform="rotate(-125 362.6 234.0)"/><ellipse cx="382.5" cy="252.6" rx="3.7" ry="1.8" transform="rotate(-118 382.5 252.6)"/><ellipse cx="388.4" cy="248.4" rx="4.2" ry="1.4" transform="rotate(-38 388.4 248.4)"/><ellipse cx="385.3" cy="242.6" rx="4.2" ry="1.8" transform="rotate(-115 385.3 242.6)"/><ellipse cx="391.6" cy="239.9" rx="3.8" ry="1.5" transform="rotate(-26 391.6 239.9)"/><ellipse cx="390.2" cy="233.7" rx="3.6" ry="1.3" transform="rotate(-95 390.2 233.7)"/><ellipse cx="393.3" cy="230.8" rx="3.8" ry="1.6" transform="rotate(-64 393.3 230.8)"/><ellipse cx="389.5" cy="253.6" rx="4.2" ry="1.5" transform="rotate(-83 389.5 253.6)"/><ellipse cx="395.7" cy="251.4" rx="4.4" ry="1.5" transform="rotate(-22 395.7 251.4)"/><ellipse cx="396.1" cy="245.0" rx="4.0" ry="1.7" transform="rotate(-81 396.1 245.0)"/><ellipse cx="403.3" cy="242.9" rx="4.6" ry="1.3" transform="rotate(-20 403.3 242.9)"/><ellipse cx="404.3" cy="236.2" rx="4.4" ry="1.3" transform="rotate(-82 404.3 236.2)"/><ellipse cx="410.2" cy="234.6" rx="4.3" ry="1.5" transform="rotate(-40 410.2 234.6)"/><ellipse cx="370.4" cy="265.2" rx="3.4" ry="1.3" transform="rotate(-165 370.4 265.2)"/><ellipse cx="368.0" cy="257.4" rx="4.5" ry="1.4" transform="rotate(-107 368.0 257.4)"/><ellipse cx="360.0" cy="257.0" rx="4.5" ry="1.8" transform="rotate(-182 360.0 257.0)"/><ellipse cx="356.4" cy="251.4" rx="3.8" ry="1.5" transform="rotate(-146 356.4 251.4)"/><ellipse cx="387.6" cy="259.3" rx="4.3" ry="1.4" transform="rotate(-91 387.6 259.3)"/><ellipse cx="394.8" cy="258.3" rx="4.4" ry="1.7" transform="rotate(-10 394.8 258.3)"/><ellipse cx="396.1" cy="251.0" rx="4.5" ry="1.3" transform="rotate(-70 396.1 251.0)"/><ellipse cx="402.7" cy="250.3" rx="4.1" ry="1.8" transform="rotate(-8 402.7 250.3)"/><ellipse cx="405.5" cy="245.9" rx="3.8" ry="1.8" transform="rotate(-37 405.5 245.9)"/><ellipse cx="386.9" cy="264.2" rx="3.8" ry="1.5" transform="rotate(-87 386.9 264.2)"/><ellipse cx="393.6" cy="262.6" rx="3.5" ry="1.4" transform="rotate(-15 393.6 262.6)"/><ellipse cx="396.4" cy="255.4" rx="4.6" ry="1.4" transform="rotate(-76 396.4 255.4)"/><ellipse cx="402.5" cy="254.6" rx="3.5" ry="1.8" transform="rotate(-33 402.5 254.6)"/><ellipse cx="369.3" cy="268.8" rx="3.9" ry="1.4" transform="rotate(-173 369.3 268.8)"/><ellipse cx="367.0" cy="261.7" rx="4.4" ry="1.5" transform="rotate(-108 367.0 261.7)"/><ellipse cx="359.5" cy="262.1" rx="3.5" ry="1.8" transform="rotate(-184 359.5 262.1)"/><ellipse cx="354.5" cy="257.7" rx="3.4" ry="1.5" transform="rotate(-154 354.5 257.7)"/><ellipse cx="373.8" cy="276.8" rx="3.6" ry="1.7" transform="rotate(-184 373.8 276.8)"/><ellipse cx="367.5" cy="271.7" rx="4.5" ry="1.6" transform="rotate(-158 367.5 271.7)"/><ellipse cx="385.1" cy="269.2" rx="3.5" ry="1.5" transform="rotate(-88 385.1 269.2)"/><ellipse cx="393.5" cy="267.7" rx="4.4" ry="1.4" transform="rotate(-9 393.5 267.7)"/><ellipse cx="397.2" cy="263.5" rx="3.9" ry="1.8" transform="rotate(-30 397.2 263.5)"/><ellipse cx="378.5" cy="253.9" rx="4.6" ry="1.5" transform="rotate(-129 378.5 253.9)"/><ellipse cx="383.9" cy="248.5" rx="4.3" ry="1.5" transform="rotate(-51 383.9 248.5)"/><ellipse cx="380.3" cy="242.9" rx="3.9" ry="1.4" transform="rotate(-116 380.3 242.9)"/><ellipse cx="384.9" cy="237.4" rx="4.6" ry="1.8" transform="rotate(-52 384.9 237.4)"/><ellipse cx="383.1" cy="233.4" rx="4.2" ry="1.5" transform="rotate(-84 383.1 233.4)"/></g>
<path d="M380.6 281.0 L380.6 276.6 L380.6 271.0 L380.3 266.1 L380.0 261.2 L379.6 256.5 L379.2 251.8 L378.7 247.2 L378.1 242.7 L377.6 238.3 L376.9 233.9 L376.1 229.1 L375.5 225.5 L374.9 225.5 L375.5 229.2 L376.3 234.0 L376.8 238.4 L377.4 242.8 L377.9 247.3 L378.3 251.9 L378.6 256.6 L379.0 261.3 L379.2 266.1 L379.4 271.0 L379.4 276.6 L379.4 281.0Z" fill="#3a3a3a"/>
<path d="M379.9 281.0 L380.0 277.4 L379.8 272.7 L379.1 268.7 L378.0 264.7 L376.9 260.8 L375.5 257.0 L374.0 253.2 L372.3 249.5 L370.5 245.9 L368.4 242.3 L365.9 238.4 L363.8 235.3 L363.4 235.7 L365.4 238.7 L367.9 242.6 L369.8 246.2 L371.6 249.8 L373.3 253.5 L374.7 257.3 L376.0 261.1 L377.1 265.0 L378.0 268.9 L378.7 272.8 L378.8 277.4 L378.7 281.0Z" fill="#3a3a3a"/>
<path d="M381.7 281.0 L381.6 277.2 L381.6 272.3 L382.1 268.0 L382.8 263.8 L383.6 259.7 L384.5 255.6 L385.6 251.6 L386.7 247.7 L388.0 243.8 L389.5 240.0 L391.3 235.8 L392.7 232.6 L392.3 232.4 L390.7 235.6 L388.9 239.8 L387.4 243.6 L386.0 247.5 L384.8 251.4 L383.6 255.4 L382.7 259.5 L381.8 263.7 L381.0 267.9 L380.5 272.2 L380.4 277.2 L380.4 281.0Z" fill="#3a3a3a"/>
<path d="M382.6 281.0 L382.4 277.4 L382.6 273.0 L383.7 269.1 L385.4 265.2 L387.3 261.4 L389.4 257.6 L391.9 253.9 L394.7 250.3 L397.7 246.7 L401.1 243.1 L405.3 239.2 L408.7 236.2 L408.3 235.8 L404.9 238.8 L400.6 242.6 L397.2 246.2 L394.0 249.7 L391.2 253.4 L388.7 257.1 L386.4 260.9 L384.5 264.8 L382.7 268.7 L381.5 272.8 L381.2 277.4 L381.4 281.0Z" fill="#3a3a3a"/>
<path d="M379.6 281.0 L379.7 278.7 L379.5 275.7 L378.5 273.1 L377.1 270.6 L375.5 268.2 L373.8 265.7 L371.7 263.4 L369.5 261.1 L367.0 258.8 L364.3 256.6 L360.9 254.1 L358.2 252.3 L357.8 252.7 L360.5 254.6 L363.9 257.1 L366.5 259.4 L368.9 261.7 L371.1 264.0 L373.0 266.3 L374.7 268.7 L376.2 271.1 L377.5 273.6 L378.4 276.0 L378.5 278.7 L378.3 281.0Z" fill="#3a3a3a"/>
<path d="M382.3 281.0 L382.2 278.3 L382.3 275.0 L383.3 272.1 L384.7 269.2 L386.2 266.3 L388.0 263.4 L390.1 260.6 L392.4 257.9 L395.0 255.1 L397.8 252.5 L401.3 249.5 L404.2 247.2 L403.8 246.8 L400.9 249.0 L397.3 251.9 L394.4 254.6 L391.8 257.3 L389.4 260.1 L387.3 262.9 L385.4 265.8 L383.7 268.7 L382.3 271.7 L381.2 274.8 L381.0 278.3 L381.1 281.0Z" fill="#3a3a3a"/>
<path d="M382.2 281.0 L382.0 279.0 L382.1 276.5 L382.9 274.4 L384.2 272.2 L385.5 270.0 L387.1 267.9 L388.9 265.8 L390.9 263.7 L393.1 261.7 L395.6 259.7 L398.7 257.4 L401.2 255.7 L400.8 255.3 L398.3 256.9 L395.2 259.1 L392.6 261.1 L390.3 263.1 L388.2 265.2 L386.4 267.3 L384.7 269.5 L383.3 271.7 L381.9 273.9 L381.0 276.3 L380.8 279.0 L380.9 281.0Z" fill="#3a3a3a"/>
<path d="M379.5 281.1 L379.6 279.2 L379.4 276.8 L378.3 274.7 L376.7 272.7 L375.0 270.7 L373.1 268.8 L370.9 267.0 L368.4 265.2 L365.7 263.4 L362.8 261.6 L359.1 259.7 L356.1 258.3 L355.9 258.7 L358.8 260.3 L362.4 262.2 L365.3 264.0 L368.0 265.8 L370.3 267.7 L372.4 269.5 L374.3 271.4 L375.9 273.3 L377.3 275.3 L378.3 277.1 L378.4 279.2 L378.2 280.9Z" fill="#3a3a3a"/>
<path d="M380.3 281.1 L380.3 280.3 L380.2 279.3 L379.6 278.4 L378.9 277.6 L378.2 276.9 L377.3 276.2 L376.3 275.5 L375.2 274.8 L374.0 274.2 L372.7 273.6 L371.0 272.9 L369.7 272.3 L369.5 272.9 L370.8 273.4 L372.4 274.2 L373.6 274.9 L374.8 275.6 L375.8 276.3 L376.7 277.0 L377.5 277.7 L378.1 278.4 L378.7 279.1 L379.1 279.7 L379.1 280.3 L379.0 280.9Z" fill="#3a3a3a"/>
<path d="M381.8 281.0 L381.7 279.7 L381.8 278.2 L382.4 276.8 L383.2 275.4 L384.2 274.0 L385.4 272.7 L386.7 271.3 L388.1 270.0 L389.8 268.6 L391.6 267.3 L393.8 265.9 L395.6 264.7 L395.4 264.3 L393.5 265.3 L391.2 266.7 L389.3 268.0 L387.6 269.3 L386.1 270.7 L384.7 272.0 L383.4 273.4 L382.4 274.8 L381.4 276.3 L380.7 277.9 L380.5 279.7 L380.6 281.0Z" fill="#3a3a3a"/>
<path d="M381.1 281.0 L381.0 277.4 L381.0 272.8 L381.1 268.8 L381.2 264.8 L381.4 261.0 L381.5 257.1 L381.7 253.4 L382.0 249.7 L382.2 246.1 L382.5 242.5 L382.9 238.6 L383.2 235.5 L382.6 235.5 L382.3 238.5 L381.9 242.4 L381.5 246.0 L381.2 249.6 L380.9 253.3 L380.7 257.1 L380.4 260.9 L380.2 264.8 L380.0 268.8 L379.9 272.8 L379.8 277.4 L379.8 281.0Z" fill="#3a3a3a"/>
<path d="M378.3 280.6 L378.0 281.5 L377.7 282.7 L377.3 284.1 L376.8 285.3 L376.2 286.3 L375.4 287.1 L374.3 287.8 L373.1 288.5 L371.8 289.1 L370.6 289.8 L369.6 290.3 L368.5 290.7 L367.4 291.1 L366.3 291.7 L365.5 292.6 L364.9 293.9 L364.6 295.3 L364.5 296.8 L364.4 298.1 L364.4 298.9 L365.2 299.1 L365.4 298.2 L365.5 296.9 L365.7 295.5 L366.1 294.3 L366.5 293.4 L367.1 292.8 L368.0 292.4 L369.0 292.1 L370.2 291.7 L371.4 291.2 L372.6 290.7 L373.9 290.1 L375.3 289.5 L376.6 288.7 L377.8 287.7 L378.7 286.4 L379.4 284.9 L380.0 283.4 L380.4 282.2 L380.7 281.4Z" fill="#767676"/>
<path d="M370.3 289.9 L369.7 290.6 L368.7 291.8 L367.7 293.1 L366.8 294.5 L366.3 295.9 L366.6 297.3 L367.3 298.6 L368.3 299.7 L369.1 300.6 L369.6 301.3 L370.4 300.7 L369.9 300.0 L369.1 299.1 L368.3 298.0 L367.8 296.9 L367.7 296.1 L368.1 295.2 L368.9 294.1 L370.0 292.9 L371.0 291.9 L371.7 291.1Z" fill="#767676"/>
<path d="M379.3 281.2 L379.4 282.0 L379.6 283.2 L379.8 284.6 L380.1 286.0 L380.5 287.3 L381.1 288.6 L381.9 289.6 L382.5 290.5 L383.0 291.3 L383.1 292.0 L383.0 292.8 L382.6 293.9 L382.0 295.0 L381.2 296.1 L380.5 297.1 L379.7 298.0 L378.7 299.0 L377.7 299.9 L376.8 300.6 L376.2 301.2 L376.8 301.8 L377.4 301.4 L378.4 300.7 L379.5 299.8 L380.6 298.9 L381.5 297.9 L382.3 296.9 L383.2 295.8 L384.0 294.6 L384.6 293.3 L384.9 292.0 L384.7 290.7 L384.1 289.5 L383.5 288.5 L382.9 287.6 L382.5 286.7 L382.3 285.5 L382.1 284.2 L381.9 282.9 L381.8 281.7 L381.7 280.8Z" fill="#767676"/>
<path d="M383.4 292.9 L384.1 293.3 L385.2 294.0 L386.3 294.7 L387.4 295.6 L388.4 296.5 L389.2 297.7 L390.1 299.2 L390.9 300.8 L391.6 302.2 L392.1 303.2 L392.9 302.8 L392.5 301.8 L391.9 300.3 L391.2 298.6 L390.5 297.0 L389.6 295.5 L388.6 294.3 L387.4 293.3 L386.3 292.4 L385.3 291.7 L384.6 291.1Z" fill="#767676"/>
<path d="M380.5 281.7 L381.1 282.5 L381.9 283.8 L383.0 285.2 L384.1 286.6 L385.3 287.8 L386.5 288.7 L387.7 289.5 L389.0 290.1 L390.4 290.6 L391.9 290.9 L393.6 290.8 L395.3 290.5 L397.0 290.0 L398.6 289.5 L400.1 289.1 L401.6 288.8 L403.1 288.6 L404.5 288.3 L405.7 288.1 L406.6 287.9 L406.4 287.1 L405.6 287.2 L404.4 287.3 L402.9 287.5 L401.4 287.7 L399.9 287.9 L398.3 288.2 L396.6 288.6 L395.0 288.9 L393.4 289.2 L392.1 289.1 L390.9 288.9 L389.8 288.4 L388.7 287.8 L387.7 287.1 L386.7 286.2 L385.8 285.2 L384.8 283.9 L383.9 282.5 L383.1 281.2 L382.5 280.3Z" fill="#767676"/>
<path d="M391.6 291.0 L392.4 291.3 L393.5 291.8 L394.9 292.4 L396.4 292.9 L397.8 293.3 L399.3 293.5 L400.7 293.4 L402.1 293.3 L403.3 293.3 L404.2 293.6 L405.0 294.2 L405.8 295.2 L406.5 296.4 L407.2 297.5 L407.6 298.2 L408.4 297.8 L408.0 297.0 L407.4 295.9 L406.8 294.6 L405.9 293.4 L404.8 292.4 L403.5 292.0 L402.1 291.9 L400.7 291.9 L399.4 291.9 L398.2 291.7 L397.0 291.2 L395.6 290.7 L394.4 290.0 L393.2 289.4 L392.4 289.0Z" fill="#767676"/>
<path d="M397.2 292.6 L397.3 293.4 L397.5 294.5 L397.8 295.7 L397.9 296.9 L397.9 297.9 L397.6 298.7 L397.1 299.6 L396.6 300.4 L396.0 301.2 L395.6 301.7 L396.4 302.3 L396.8 301.8 L397.4 301.1 L398.1 300.2 L398.7 299.2 L399.1 298.1 L399.3 296.9 L399.2 295.6 L399.1 294.3 L398.9 293.1 L398.8 292.4Z" fill="#767676"/>
</g>
<filter id="folL" x="-10%" y="-10%" width="120%" height="120%" color-interpolation-filters="sRGB">
<feGaussianBlur in="SourceAlpha" stdDeviation="1.8" result="b"/>
<feTurbulence type="fractalNoise" baseFrequency="0.2 0.55" numOctaves="2" seed="3" result="n"/>
<feColorMatrix in="n" type="matrix" values="0 0 0 0 0 0 0 0 0 0 0 0 0 0 0 1 0 0 0 0" result="na"/>
<feComposite in="b" in2="na" operator="arithmetic" k1="0" k2="0.62" k3="1" k4="-1.03" result="m"/>
<feComponentTransfer in="m" result="t"><feFuncA type="linear" slope="14" intercept="0"/></feComponentTransfer>
<feFlood flood-color="#adadad"/><feComposite in2="t" operator="in"/>
</filter>
<filter id="folR" x="-10%" y="-10%" width="120%" height="120%" color-interpolation-filters="sRGB">
<feGaussianBlur in="SourceAlpha" stdDeviation="1.8" result="b"/>
<feTurbulence type="fractalNoise" baseFrequency="0.2 0.55" numOctaves="2" seed="8" result="n"/>
<feColorMatrix in="n" type="matrix" values="0 0 0 0 0 0 0 0 0 0 0 0 0 0 0 1 0 0 0 0" result="na"/>
<feComposite in="b" in2="na" operator="arithmetic" k1="0" k2="0.62" k3="1" k4="-1.03" result="m"/>
<feComponentTransfer in="m" result="t"><feFuncA type="linear" slope="14" intercept="0"/></feComponentTransfer>
<feFlood flood-color="#adadad"/><feComposite in2="t" operator="in"/>
</filter>
<filter id="folD" x="-10%" y="-10%" width="120%" height="120%" color-interpolation-filters="sRGB">
<feGaussianBlur in="SourceAlpha" stdDeviation="1.6" result="b"/>
<feTurbulence type="fractalNoise" baseFrequency="0.12 0.5" numOctaves="2" seed="2" result="n"/>
<feColorMatrix in="n" type="matrix" values="0 0 0 0 0 0 0 0 0 0 0 0 0 0 0 1 0 0 0 0" result="na"/>
<feComposite in="b" in2="na" operator="arithmetic" k1="0" k2="0.62" k3="1" k4="-0.93" result="m"/>
<feComponentTransfer in="m" result="t"><feFuncA type="linear" slope="14" intercept="0"/></feComponentTransfer>
<feFlood flood-color="#adadad"/><feComposite in2="t" operator="in"/>
</filter>
<filter id="folM" x="-10%" y="-10%" width="120%" height="120%" color-interpolation-filters="sRGB">
<feGaussianBlur in="SourceAlpha" stdDeviation="1.5" result="b"/>
<feTurbulence type="fractalNoise" baseFrequency="0.3 0.45" numOctaves="2" seed="6" result="n"/>
<feColorMatrix in="n" type="matrix" values="0 0 0 0 0 0 0 0 0 0 0 0 0 0 0 1 0 0 0 0" result="na"/>
<feComposite in="b" in2="na" operator="arithmetic" k1="0" k2="0.50" k3="1" k4="-1.08" result="m"/>
<feComponentTransfer in="m" result="t"><feFuncA type="linear" slope="14" intercept="0"/></feComponentTransfer>
<feFlood flood-color="#adadad"/><feComposite in2="t" operator="in"/>
</filter>
<filter id="folS" x="-10%" y="-10%" width="120%" height="120%" color-interpolation-filters="sRGB">
<feGaussianBlur in="SourceAlpha" stdDeviation="2.0" result="b"/>
<feTurbulence type="fractalNoise" baseFrequency="0.35 0.35" numOctaves="2" seed="5" result="n"/>
<feColorMatrix in="n" type="matrix" values="0 0 0 0 0 0 0 0 0 0 0 0 0 0 0 1 0 0 0 0" result="na"/>
<feComposite in="b" in2="na" operator="arithmetic" k1="0" k2="0.50" k3="1" k4="-0.96" result="m"/>
<feComponentTransfer in="m" result="t"><feFuncA type="linear" slope="10" intercept="0"/></feComponentTransfer>
<feFlood flood-color="#adadad"/><feComposite in2="t" operator="in"/>
</filter>
<g transform="rotate(-27.0 200 140)" filter="url(#folD)" fill="#000"><path d="M193.4 63.1 C190.8 58.8 186.7 58.8 180.0 55.7 C173.3 52.5 172.6 51.0 164.8 49.6 C156.9 48.3 154.4 49.4 146.3 49.9 C138.1 50.5 134.0 50.1 129.9 51.9 C125.7 53.6 128.2 54.0 128.7 57.6 C129.1 61.1 129.0 63.7 131.8 67.2 C134.6 70.6 136.6 70.3 140.6 72.3 C144.7 74.2 144.1 75.3 149.3 75.5 C154.5 75.8 156.9 74.2 163.0 73.3 C169.1 72.4 168.7 71.4 175.3 71.6 C181.9 71.8 187.1 76.0 191.3 74.0 C195.5 72.0 196.0 67.3 193.4 63.1Z"/></g>
<g transform="rotate(-27.0 200 140)" filter="url(#folL)" fill="#000"><path d="M222.0 108.0 C219.8 103.4 212.0 105.7 206.1 101.0 C200.2 96.4 199.5 94.2 196.6 88.2 C193.8 82.2 194.7 80.3 194.0 75.4 C193.3 70.5 196.2 67.9 193.6 67.2 C191.1 66.4 187.5 69.8 183.1 72.1 C178.7 74.4 180.7 75.5 174.8 77.1 C169.0 78.6 165.5 78.1 157.9 78.8 C150.4 79.5 151.0 79.3 142.4 80.0 C133.8 80.7 129.9 81.5 121.0 81.7 C112.1 81.8 107.4 79.4 104.3 80.6 C101.3 81.9 103.4 83.4 107.9 87.1 C112.5 90.7 116.7 93.6 123.8 96.3 C131.0 99.0 132.0 97.5 138.6 98.7 C145.2 99.9 145.0 99.6 152.1 101.5 C159.1 103.5 160.8 104.3 168.7 107.1 C176.6 110.0 175.0 110.5 186.0 113.7 C196.9 116.8 207.1 122.0 215.5 120.7 C224.0 119.4 224.2 112.6 222.0 108.0Z"/><path d="M219.3 113.4 C213.6 106.3 196.0 109.4 182.4 107.2 C168.7 105.1 170.4 105.7 160.9 104.3 C151.5 103.0 151.4 102.6 141.8 101.5 C132.2 100.3 129.3 99.7 119.9 99.5 C110.6 99.2 110.1 99.9 101.8 100.5 C93.4 101.1 91.8 101.1 84.3 101.9 C76.8 102.7 72.3 101.7 69.5 104.0 C66.7 106.3 71.1 107.6 72.4 111.9 C73.7 116.2 74.1 118.0 75.0 122.4 C75.9 126.7 72.9 128.2 76.3 130.5 C79.7 132.7 82.8 131.5 89.6 132.1 C96.3 132.7 96.6 132.5 105.1 133.1 C113.6 133.7 116.8 133.9 126.0 134.6 C135.3 135.3 136.2 135.5 144.7 136.1 C153.2 136.7 155.0 136.3 162.5 137.2 C170.1 138.1 172.4 136.6 177.1 140.0 C181.7 143.5 179.1 149.1 182.5 151.9 C185.9 154.7 185.9 155.3 191.6 152.0 C197.3 148.8 200.3 147.0 206.8 138.0 C213.2 129.0 224.9 120.6 219.3 113.4Z"/><path d="M188.0 141.0 C184.5 139.5 179.4 141.2 171.6 141.8 C163.8 142.4 162.1 142.7 154.7 143.5 C147.4 144.3 148.8 144.9 140.1 145.2 C131.4 145.6 127.6 144.8 117.3 145.1 C107.0 145.3 99.9 145.0 96.1 146.3 C92.2 147.5 95.6 149.2 100.8 150.4 C106.1 151.6 109.8 150.9 118.6 151.5 C127.4 152.1 129.4 152.9 138.4 153.0 C147.5 153.0 149.6 152.4 157.4 151.8 C165.2 151.1 165.2 150.8 172.0 150.0 C178.8 149.2 182.9 150.4 186.6 148.3 C190.3 146.2 191.5 142.6 188.0 141.0Z"/></g>
<g transform="rotate(27.0 200 140)" filter="url(#folR)" fill="#000"><path d="M172.3 85.7 C170.1 79.2 169.1 83.5 173.9 79.7 C178.6 76.0 183.7 74.4 192.7 69.6 C201.7 64.7 205.4 61.3 212.5 58.9 C219.6 56.5 217.6 58.7 223.0 59.3 C228.4 59.9 229.5 61.1 235.5 61.5 C241.6 61.9 242.4 61.4 249.0 60.9 C255.6 60.5 259.4 58.4 264.0 59.6 C268.6 60.7 270.5 63.3 268.7 65.8 C266.8 68.3 262.2 67.6 256.1 70.5 C250.1 73.3 248.9 74.2 242.7 77.9 C236.6 81.5 235.5 83.1 229.8 86.2 C224.1 89.2 224.7 88.4 218.4 90.8 C212.2 93.2 211.1 92.5 203.0 96.4 C194.8 100.3 190.6 110.0 183.4 107.5 C176.3 105.0 174.6 92.2 172.3 85.7Z"/><path d="M174.3 100.7 C177.8 92.0 193.0 93.6 203.4 90.5 C213.8 87.3 211.2 88.4 218.9 87.2 C226.5 85.9 228.2 85.3 236.2 85.2 C244.2 85.1 245.4 86.0 253.1 86.9 C260.7 87.8 262.0 88.7 268.9 89.1 C275.8 89.6 276.7 88.7 282.7 89.0 C288.8 89.2 293.4 88.0 294.8 90.2 C296.2 92.5 291.4 94.3 288.7 98.5 C286.1 102.7 286.8 105.6 283.3 108.1 C279.9 110.6 280.5 108.8 274.1 109.4 C267.8 109.9 264.1 110.0 256.0 110.6 C247.9 111.2 247.7 111.2 239.6 112.1 C231.5 113.0 233.4 110.8 221.4 114.5 C209.4 118.2 199.1 131.2 188.2 128.0 C177.2 124.8 170.7 109.5 174.3 100.7Z"/><path d="M183.5 118.9 C188.2 112.3 203.0 115.9 215.4 114.1 C227.9 112.3 226.5 111.9 236.8 111.2 C247.2 110.5 250.2 110.8 259.6 111.0 C269.1 111.3 270.6 112.0 277.4 112.3 C284.3 112.5 284.6 110.3 288.8 112.2 C293.1 114.0 295.2 116.4 295.8 120.1 C296.3 123.8 293.5 124.9 291.3 128.1 C289.0 131.4 289.7 130.8 286.3 134.1 C282.9 137.4 282.0 140.5 276.8 142.4 C271.6 144.2 269.3 142.5 264.0 142.0 C258.7 141.5 260.2 140.5 253.9 140.3 C247.7 140.0 244.1 140.9 237.1 140.8 C230.0 140.8 230.5 139.7 223.8 140.2 C217.1 140.6 214.9 142.3 208.3 142.9 C201.8 143.4 201.4 148.1 195.6 142.5 C189.8 136.9 178.9 125.5 183.5 118.9Z"/></g>
<g transform="rotate(-27.0 200 140)" filter="url(#folM)" fill="#000"><path d="M193.9 64.4 C203.1 66.2 226.0 73.2 232.3 83.4 C238.5 93.7 226.9 104.1 220.7 108.4 C214.5 112.8 211.6 106.6 205.7 101.9 C199.7 97.3 198.3 94.7 195.3 88.6 C192.2 82.5 193.0 81.5 192.6 75.8 C192.3 70.2 184.6 62.7 193.9 64.4Z"/></g>
<g transform="rotate(0.0 200 140)" filter="url(#folS)" fill="#000"><path d="M298.5 169.3 C300.0 166.0 304.6 167.4 310.2 167.8 C315.7 168.1 321.0 167.7 322.4 170.8 C323.8 173.9 319.1 176.5 316.3 181.0 C313.4 185.6 313.0 190.0 310.2 190.2 C307.3 190.5 306.8 186.9 304.0 182.1 C301.3 177.2 297.1 172.6 298.5 169.3Z"/></g>
<g id="tree">
<clipPath id="tclip"><path d="M200.3 134.5 L200.0 135.1 L199.6 135.9 L199.1 136.8 L198.6 137.9 L198.2 138.9 L197.8 140.0 L197.6 141.1 L197.4 142.3 L197.3 143.5 L197.1 144.8 L196.9 145.9 L196.6 147.0 L196.1 147.9 L195.6 148.8 L195.0 149.6 L194.3 150.4 L193.7 151.2 L193.0 152.0 L192.3 152.9 L191.5 153.7 L190.6 154.5 L189.8 155.4 L189.1 156.4 L188.6 157.5 L188.3 158.7 L188.1 159.9 L187.9 161.2 L187.9 162.6 L187.9 164.2 L187.8 166.0 L187.7 167.9 L187.6 170.0 L187.6 172.3 L187.5 174.7 L187.5 177.3 L187.4 180.0 L187.3 183.0 L187.3 186.2 L187.2 189.6 L187.2 193.1 L187.1 196.6 L187.0 200.0 L186.9 203.3 L186.7 206.5 L186.6 209.7 L186.4 213.0 L186.2 216.4 L186.0 220.0 L185.8 224.0 L185.6 228.3 L185.3 232.7 L185.1 237.1 L184.8 241.2 L184.6 245.0 L184.4 248.4 L184.2 251.4 L184.0 254.3 L183.8 257.0 L183.6 259.5 L183.4 262.0 L183.1 264.3 L182.8 266.6 L182.5 268.6 L182.2 270.6 L181.8 272.3 L181.5 274.0 L181.2 275.4 L180.9 276.6 L180.6 277.7 L180.2 278.7 L179.9 279.8 L179.5 281.0 L179.0 282.5 L178.5 284.2 L177.9 285.9 L177.3 287.6 L176.8 289.0 L176.5 290.0 L176.0 300.0 L186.0 306.0 L214.0 306.0 L222.0 300.0 L221.5 290.0 L220.9 289.0 L220.1 287.6 L219.2 285.9 L218.2 284.2 L217.3 282.5 L216.5 281.0 L215.9 279.8 L215.4 278.7 L214.9 277.7 L214.4 276.6 L214.0 275.4 L213.6 274.0 L213.2 272.3 L212.8 270.6 L212.4 268.6 L212.0 266.6 L211.7 264.3 L211.4 262.0 L211.1 259.5 L210.9 257.0 L210.7 254.3 L210.5 251.4 L210.4 248.4 L210.2 245.0 L210.0 241.2 L209.8 237.1 L209.7 232.7 L209.5 228.3 L209.4 224.0 L209.2 220.0 L209.0 216.4 L208.9 213.0 L208.7 209.7 L208.6 206.5 L208.4 203.3 L208.3 200.0 L208.2 196.6 L208.0 193.2 L207.9 189.7 L207.8 186.3 L207.7 183.1 L207.6 180.0 L207.5 177.1 L207.5 174.4 L207.5 171.7 L207.5 169.2 L207.5 166.8 L207.5 164.5 L207.5 162.3 L207.5 160.2 L207.5 158.2 L207.5 156.3 L207.5 154.6 L207.4 153.0 L207.3 151.6 L207.3 150.4 L207.2 149.3 L207.1 148.3 L206.9 147.4 L206.6 146.5 L206.2 145.7 L205.7 145.0 L205.1 144.3 L204.6 143.7 L204.0 143.1 L203.6 142.5 L203.3 141.9 L203.0 141.3 L202.8 140.8 L202.6 140.2 L202.4 139.6 L202.2 139.0 L201.9 138.3 L201.5 137.4 L201.2 136.5 L200.8 135.7 L200.5 135.0 L200.3 134.5Z"/></clipPath>
<path d="M200.3 134.5 L200.0 135.1 L199.6 135.9 L199.1 136.8 L198.6 137.9 L198.2 138.9 L197.8 140.0 L197.6 141.1 L197.4 142.3 L197.3 143.5 L197.1 144.8 L196.9 145.9 L196.6 147.0 L196.1 147.9 L195.6 148.8 L195.0 149.6 L194.3 150.4 L193.7 151.2 L193.0 152.0 L192.3 152.9 L191.5 153.7 L190.6 154.5 L189.8 155.4 L189.1 156.4 L188.6 157.5 L188.3 158.7 L188.1 159.9 L187.9 161.2 L187.9 162.6 L187.9 164.2 L187.8 166.0 L187.7 167.9 L187.6 170.0 L187.6 172.3 L187.5 174.7 L187.5 177.3 L187.4 180.0 L187.3 183.0 L187.3 186.2 L187.2 189.6 L187.2 193.1 L187.1 196.6 L187.0 200.0 L186.9 203.3 L186.7 206.5 L186.6 209.7 L186.4 213.0 L186.2 216.4 L186.0 220.0 L185.8 224.0 L185.6 228.3 L185.3 232.7 L185.1 237.1 L184.8 241.2 L184.6 245.0 L184.4 248.4 L184.2 251.4 L184.0 254.3 L183.8 257.0 L183.6 259.5 L183.4 262.0 L183.1 264.3 L182.8 266.6 L182.5 268.6 L182.2 270.6 L181.8 272.3 L181.5 274.0 L181.2 275.4 L180.9 276.6 L180.6 277.7 L180.2 278.7 L179.9 279.8 L179.5 281.0 L179.0 282.5 L178.5 284.2 L177.9 285.9 L177.3 287.6 L176.8 289.0 L176.5 290.0 L221.5 290.0 L220.9 289.0 L220.1 287.6 L219.2 285.9 L218.2 284.2 L217.3 282.5 L216.5 281.0 L215.9 279.8 L215.4 278.7 L214.9 277.7 L214.4 276.6 L214.0 275.4 L213.6 274.0 L213.2 272.3 L212.8 270.6 L212.4 268.6 L212.0 266.6 L211.7 264.3 L211.4 262.0 L211.1 259.5 L210.9 257.0 L210.7 254.3 L210.5 251.4 L210.4 248.4 L210.2 245.0 L210.0 241.2 L209.8 237.1 L209.7 232.7 L209.5 228.3 L209.4 224.0 L209.2 220.0 L209.0 216.4 L208.9 213.0 L208.7 209.7 L208.6 206.5 L208.4 203.3 L208.3 200.0 L208.2 196.6 L208.0 193.2 L207.9 189.7 L207.8 186.3 L207.7 183.1 L207.6 180.0 L207.5 177.1 L207.5 174.4 L207.5 171.7 L207.5 169.2 L207.5 166.8 L207.5 164.5 L207.5 162.3 L207.5 160.2 L207.5 158.2 L207.5 156.3 L207.5 154.6 L207.4 153.0 L207.3 151.6 L207.3 150.4 L207.2 149.3 L207.1 148.3 L206.9 147.4 L206.6 146.5 L206.2 145.7 L205.7 145.0 L205.1 144.3 L204.6 143.7 L204.0 143.1 L203.6 142.5 L203.3 141.9 L203.0 141.3 L202.8 140.8 L202.6 140.2 L202.4 139.6 L202.2 139.0 L201.9 138.3 L201.5 137.4 L201.2 136.5 L200.8 135.7 L200.5 135.0 L200.3 134.5Z" fill="#959595"/>
<path d="M176.5 290.0 L178.5 284.0 L186.0 287.0 L200.0 289.0 L212.0 287.0 L219.0 284.0 L221.5 290.0 L216.0 298.0 L209.0 304.0 L200.0 301.5 L192.0 304.0 L184.0 298.0Z" fill="#7e7e7e"/>
<path d="M200.3 134.5 C199.9 135.4 198.4 137.9 197.8 140.0 C197.2 142.1 197.4 145.0 196.6 147.0 C195.8 149.0 194.3 150.2 193.0 152.0 C191.7 153.8 189.5 155.2 188.6 157.5 C187.7 159.8 188.0 162.2 187.8 166.0 C187.6 169.8 187.5 174.3 187.4 180.0 C187.3 185.7 187.2 193.3 187.0 200.0 C186.8 206.7 186.4 212.5 186.0 220.0 C185.6 227.5 185.0 238.0 184.6 245.0 C184.2 252.0 183.9 257.2 183.4 262.0 C182.9 266.8 182.2 270.8 181.5 274.0 C180.8 277.2 180.3 278.3 179.5 281.0 C178.7 283.7 177.0 288.5 176.5 290.0" fill="none" stroke="#707070" stroke-width="1.2"/>
<path d="M200.3 134.5 C200.6 135.2 201.6 137.7 202.2 139.0 C202.8 140.3 202.9 141.2 203.6 142.5 C204.3 143.8 206.0 144.8 206.6 146.5 C207.2 148.2 207.2 150.0 207.4 153.0 C207.6 156.0 207.5 160.0 207.5 164.5 C207.5 169.0 207.5 174.1 207.6 180.0 C207.7 185.9 208.0 193.3 208.3 200.0 C208.6 206.7 208.9 212.5 209.2 220.0 C209.5 227.5 209.8 238.0 210.2 245.0 C210.6 252.0 210.8 257.2 211.4 262.0 C212.0 266.8 212.8 270.8 213.6 274.0 C214.4 277.2 215.2 278.3 216.5 281.0 C217.8 283.7 220.7 288.5 221.5 290.0" fill="none" stroke="#707070" stroke-width="1.2"/>
<g stroke="#717171" fill="none" stroke-linecap="round" clip-path="url(#tclip)"><path d="M190.4 195.5 q0.6 2.8 -0.7 5.6" stroke-width="1.5"/><path d="M203.9 199.1 q0.3 4.3 0.8 8.6" stroke-width="1.4"/><path d="M195.2 262.0 q-0.0 4.1 -0.4 8.2" stroke-width="1.1"/><path d="M202.3 263.6 q0.2 2.9 0.3 5.8" stroke-width="1.7"/><path d="M188.2 233.7 q0.3 3.6 -1.1 7.3" stroke-width="1.0"/><path d="M204.6 215.1 q-0.2 3.9 0.8 7.9" stroke-width="1.5"/><path d="M203.2 243.8 q0.5 4.5 0.7 9.0" stroke-width="1.1"/><path d="M203.6 279.4 q0.0 4.9 1.8 9.9" stroke-width="1.7"/><path d="M191.5 225.6 q-0.0 4.5 -1.0 9.0" stroke-width="1.6"/><path d="M202.8 251.2 q0.4 4.2 0.6 8.4" stroke-width="1.0"/><path d="M201.7 233.8 q0.4 3.3 0.3 6.5" stroke-width="1.4"/><path d="M202.8 242.6 q-0.1 2.1 0.3 4.2" stroke-width="0.9"/><path d="M192.3 244.7 q-0.7 4.1 -0.7 8.1" stroke-width="1.4"/><path d="M192.8 216.5 q-0.3 2.2 -0.4 4.3" stroke-width="0.9"/><path d="M192.8 170.7 q-0.2 2.1 -0.4 4.2" stroke-width="1.2"/><path d="M200.1 238.7 q-0.8 2.7 0.2 5.4" stroke-width="1.6"/><path d="M194.0 206.0 q0.5 3.2 -0.5 6.5" stroke-width="0.9"/><path d="M189.3 201.1 q0.1 3.8 -1.1 7.7" stroke-width="0.9"/><path d="M199.9 195.6 q-0.1 4.9 0.2 9.7" stroke-width="1.5"/><path d="M201.2 270.5 q0.2 3.1 0.8 6.2" stroke-width="0.9"/><path d="M207.6 231.1 q-0.2 4.9 1.4 9.8" stroke-width="1.3"/><path d="M183.4 283.2 q0.2 2.3 -2.2 4.6" stroke-width="1.3"/><path d="M200.9 164.2 q-0.1 4.7 0.4 9.3" stroke-width="1.1"/><path d="M194.5 177.8 q0.7 4.9 -0.6 9.8" stroke-width="1.1"/><path d="M200.9 286.4 q-0.0 2.8 0.5 5.6" stroke-width="1.7"/><path d="M194.8 207.6 q-0.3 5.0 -0.6 9.9" stroke-width="1.2"/><path d="M190.7 217.4 q-0.3 3.9 -0.9 7.7" stroke-width="1.2"/><path d="M205.2 265.5 q-0.4 2.0 0.4 4.1" stroke-width="1.3"/><path d="M206.4 289.8 q-0.6 2.7 1.5 5.5" stroke-width="1.0"/><path d="M191.8 298.2 q0.2 3.8 -1.5 7.6" stroke-width="1.2"/><path d="M203.3 237.4 q-0.3 2.4 0.4 4.7" stroke-width="1.5"/><path d="M194.9 226.3 q-0.1 2.9 -0.3 5.8" stroke-width="1.3"/><path d="M203.1 199.0 q-0.4 3.8 0.6 7.5" stroke-width="0.8"/><path d="M206.6 214.0 q-0.8 4.7 1.2 9.3" stroke-width="1.3"/><path d="M196.6 265.0 q0.2 3.7 -0.2 7.5" stroke-width="1.4"/><path d="M206.6 218.1 q0.6 3.2 0.8 6.3" stroke-width="1.2"/><path d="M194.7 173.0 q0.5 4.5 -0.6 9.0" stroke-width="0.9"/><path d="M196.7 251.8 q0.7 2.9 -0.1 5.7" stroke-width="1.5"/><path d="M198.1 164.5 q-0.3 3.6 -0.0 7.3" stroke-width="1.2"/><path d="M200.1 166.3 q-0.4 4.4 0.2 8.9" stroke-width="0.9"/><path d="M204.5 271.5 q0.4 4.0 2.2 8.0" stroke-width="0.8"/><path d="M212.9 296.6 q0.5 4.1 3.9 8.2" stroke-width="0.8"/><path d="M201.2 176.6 q-0.6 4.9 0.4 9.7" stroke-width="1.4"/><path d="M206.4 188.2 q-0.1 2.4 0.6 4.9" stroke-width="1.3"/><path d="M200.7 167.5 q-0.2 2.1 0.2 4.3" stroke-width="0.9"/><path d="M190.6 153.4 q0.6 3.7 -1.0 7.5" stroke-width="1.5"/><path d="M197.3 163.2 q-0.0 2.9 -0.1 5.9" stroke-width="1.3"/><path d="M194.3 290.3 q-0.6 2.2 -0.5 4.3" stroke-width="1.4"/><path d="M198.3 241.8 q0.2 4.7 0.0 9.5" stroke-width="1.3"/><path d="M199.4 183.6 q0.0 2.8 0.1 5.5" stroke-width="1.5"/><path d="M193.7 163.1 q-0.5 3.1 -0.5 6.2" stroke-width="1.5"/><path d="M201.5 254.7 q-0.7 2.3 0.2 4.5" stroke-width="1.4"/><path d="M200.2 161.7 q-0.0 2.7 0.2 5.4" stroke-width="1.6"/><path d="M204.1 193.1 q-0.7 2.1 0.4 4.2" stroke-width="1.5"/><path d="M206.8 165.8 q-0.6 4.0 1.2 8.1" stroke-width="1.0"/><path d="M202.9 295.7 q0.2 4.5 1.4 8.9" stroke-width="0.9"/><path d="M193.2 198.0 q-0.2 3.0 -0.5 6.0" stroke-width="1.4"/><path d="M191.2 202.9 q0.5 4.5 -1.0 9.0" stroke-width="1.4"/><path d="M205.3 210.5 q0.1 3.6 0.8 7.1" stroke-width="1.3"/><path d="M195.9 258.9 q-0.5 2.3 -0.2 4.6" stroke-width="0.8"/><path d="M205.4 148.2 q-0.8 3.4 0.8 6.9" stroke-width="1.5"/><path d="M206.1 216.3 q-0.1 3.9 1.0 7.7" stroke-width="1.2"/><path d="M192.3 157.8 q-0.2 2.5 -0.5 5.0" stroke-width="1.1"/><path d="M187.9 281.1 q-0.5 2.8 -1.8 5.5" stroke-width="1.0"/><path d="M193.4 187.4 q0.7 3.4 -0.6 6.9" stroke-width="0.8"/><path d="M206.9 200.3 q-0.0 4.1 1.1 8.1" stroke-width="1.4"/><path d="M186.7 291.4 q0.3 4.0 -2.9 8.0" stroke-width="1.1"/><path d="M190.9 257.2 q-0.4 2.6 -0.6 5.2" stroke-width="0.8"/><path d="M196.8 154.4 q-0.3 4.9 -0.3 9.8" stroke-width="1.1"/><path d="M194.0 215.9 q-0.5 4.2 -0.6 8.4" stroke-width="1.4"/><path d="M201.7 180.0 q-0.1 4.8 0.5 9.6" stroke-width="1.4"/><path d="M183.3 296.1 q-0.1 2.2 -2.0 4.4" stroke-width="1.5"/><path d="M199.4 149.1 q-0.2 5.0 0.2 9.9" stroke-width="1.3"/><path d="M190.8 156.8 q0.7 4.7 -1.3 9.4" stroke-width="1.2"/><path d="M194.0 150.5 q-0.7 2.2 -0.3 4.3" stroke-width="1.2"/><path d="M196.7 182.4 q-0.7 2.9 -0.2 5.8" stroke-width="0.8"/><path d="M188.5 295.5 q0.1 3.5 -2.1 7.1" stroke-width="1.2"/><path d="M195.2 155.3 q0.7 2.3 -0.3 4.6" stroke-width="1.3"/><path d="M205.6 236.5 q0.1 2.6 0.6 5.3" stroke-width="0.8"/><path d="M199.7 218.9 q0.4 3.1 0.1 6.3" stroke-width="1.4"/><path d="M192.4 286.3 q-0.4 3.3 -1.2 6.7" stroke-width="1.5"/><path d="M195.1 160.3 q0.5 2.3 -0.3 4.5" stroke-width="1.5"/><path d="M191.3 191.4 q-0.7 2.2 -0.5 4.5" stroke-width="1.0"/><path d="M199.9 209.7 q0.3 2.7 0.1 5.5" stroke-width="0.9"/><path d="M193.2 149.6 q-0.6 2.9 -0.5 5.7" stroke-width="1.1"/><path d="M194.7 208.5 q0.6 4.3 -0.5 8.5" stroke-width="1.3"/><path d="M203.7 245.3 q0.5 3.7 0.6 7.4" stroke-width="1.2"/><path d="M207.8 245.6 q-0.4 4.2 1.2 8.4" stroke-width="1.4"/><path d="M195.5 270.3 q-0.5 2.4 -0.5 4.8" stroke-width="0.9"/><path d="M201.7 183.5 q0.4 2.9 0.3 5.7" stroke-width="0.9"/><path d="M188.6 230.0 q-0.2 2.2 -0.6 4.3" stroke-width="0.9"/><path d="M211.2 277.8 q-0.1 3.8 3.3 7.7" stroke-width="1.0"/><path d="M195.1 199.3 q0.5 2.0 -0.2 4.1" stroke-width="1.3"/><path d="M189.5 256.8 q0.3 3.6 -0.9 7.2" stroke-width="1.0"/><path d="M207.0 212.5 q-0.3 4.4 1.2 8.8" stroke-width="0.9"/><path d="M196.9 286.6 q0.4 3.3 -0.2 6.6" stroke-width="1.2"/><path d="M199.0 289.9 q-0.6 4.9 0.3 9.8" stroke-width="1.3"/><path d="M196.3 270.7 q-0.7 2.2 -0.3 4.3" stroke-width="1.7"/><path d="M197.9 233.2 q-0.5 4.6 -0.1 9.3" stroke-width="1.2"/><path d="M192.7 185.8 q0.4 3.7 -0.7 7.4" stroke-width="1.1"/><path d="M195.7 180.2 q0.5 2.7 -0.3 5.5" stroke-width="1.7"/><path d="M201.5 276.3 q0.5 3.2 0.7 6.4" stroke-width="0.9"/><path d="M189.0 219.4 q0.3 2.5 -0.7 5.0" stroke-width="0.9"/><path d="M189.2 284.2 q0.3 4.4 -2.5 8.8" stroke-width="1.1"/><path d="M201.7 278.4 q-0.8 4.4 1.0 8.8" stroke-width="1.1"/><path d="M200.0 222.9 q-0.3 2.6 0.1 5.1" stroke-width="1.2"/><path d="M195.5 146.3 q0.3 3.1 -0.4 6.3" stroke-width="1.2"/><path d="M207.8 205.1 q0.3 4.4 1.4 8.9" stroke-width="1.6"/><path d="M199.0 247.9 q0.1 4.4 0.1 8.8" stroke-width="1.1"/><path d="M198.7 249.4 q-0.7 2.9 0.0 5.7" stroke-width="0.9"/><path d="M199.9 198.2 q-0.3 4.3 0.2 8.6" stroke-width="1.4"/><path d="M191.4 288.8 q0.4 4.1 -1.8 8.3" stroke-width="0.9"/><path d="M207.8 247.9 q0.5 4.7 1.4 9.4" stroke-width="1.4"/><path d="M200.5 258.7 q0.6 2.6 0.2 5.3" stroke-width="1.3"/><path d="M207.3 179.8 q-0.8 3.6 1.1 7.3" stroke-width="1.2"/><path d="M192.0 203.6 q0.7 4.0 -0.8 7.9" stroke-width="1.6"/><path d="M195.9 238.9 q0.1 2.3 -0.2 4.7" stroke-width="1.4"/><path d="M195.5 255.0 q-0.3 4.7 -0.4 9.3" stroke-width="1.0"/><path d="M200.7 184.3 q0.2 4.7 0.4 9.4" stroke-width="1.0"/><path d="M192.2 263.1 q0.5 2.2 -0.4 4.4" stroke-width="1.3"/><path d="M204.7 280.8 q0.0 3.3 1.4 6.5" stroke-width="1.2"/><path d="M192.2 284.9 q0.7 2.8 -1.1 5.7" stroke-width="1.3"/><path d="M189.8 171.6 q0.2 2.3 -0.7 4.7" stroke-width="1.3"/><path d="M192.7 171.1 q0.3 3.8 -0.7 7.6" stroke-width="1.4"/><path d="M188.8 257.2 q0.7 3.5 -1.0 6.9" stroke-width="1.6"/><path d="M205.1 192.3 q-0.4 3.9 0.9 7.9" stroke-width="1.6"/><path d="M205.4 252.1 q-0.5 3.4 0.7 6.9" stroke-width="0.9"/><path d="M191.0 166.8 q-0.6 2.5 -0.6 4.9" stroke-width="1.4"/><path d="M203.2 261.8 q0.3 4.4 0.7 8.9" stroke-width="1.5"/><path d="M211.5 288.0 q-0.6 3.9 3.4 7.8" stroke-width="1.7"/><path d="M190.7 158.3 q-0.1 2.6 -0.7 5.2" stroke-width="1.1"/><path d="M203.3 249.5 q0.1 2.3 0.3 4.5" stroke-width="1.2"/><path d="M190.9 201.3 q0.3 3.8 -0.9 7.6" stroke-width="1.1"/><path d="M207.6 220.3 q0.4 4.8 1.4 9.7" stroke-width="0.9"/><path d="M193.8 256.0 q-0.2 2.4 -0.3 4.7" stroke-width="1.2"/><path d="M207.1 258.5 q-0.0 3.1 0.8 6.3" stroke-width="1.1"/><path d="M204.3 252.1 q-0.3 3.7 0.7 7.5" stroke-width="1.1"/><path d="M198.6 276.0 q-0.4 2.2 0.1 4.3" stroke-width="1.2"/><path d="M189.2 247.3 q-0.0 2.8 -0.8 5.6" stroke-width="0.9"/><path d="M199.2 297.6 q-0.7 3.2 0.2 6.3" stroke-width="1.6"/><path d="M204.4 198.2 q-0.2 2.0 0.4 4.0" stroke-width="1.5"/><path d="M195.1 144.6 q0.0 3.4 -0.5 6.7" stroke-width="1.1"/><path d="M193.5 150.4 q-0.0 4.9 -0.9 9.8" stroke-width="1.2"/><path d="M194.6 155.5 q0.0 4.9 -0.7 9.7" stroke-width="1.4"/><path d="M196.6 150.4 q0.1 4.3 -0.3 8.7" stroke-width="1.2"/><path d="M202.3 284.6 q-0.8 3.9 1.1 7.8" stroke-width="0.8"/><path d="M196.3 263.6 q0.7 4.6 -0.3 9.2" stroke-width="1.5"/><path d="M208.1 201.8 q-0.6 4.3 1.3 8.5" stroke-width="1.6"/><path d="M196.4 265.4 q-0.5 4.9 -0.2 9.8" stroke-width="1.7"/><path d="M193.8 208.6 q0.3 3.4 -0.5 6.8" stroke-width="1.1"/><path d="M192.5 161.5 q-0.2 3.4 -0.7 6.7" stroke-width="0.9"/><path d="M209.4 283.8 q0.5 2.6 1.9 5.2" stroke-width="0.8"/><path d="M201.0 293.8 q0.7 2.4 0.5 4.8" stroke-width="1.0"/><path d="M184.2 290.1 q-0.4 2.6 -2.3 5.1" stroke-width="1.2"/><path d="M195.4 261.1 q0.0 4.3 -0.3 8.7" stroke-width="0.9"/><path d="M204.0 296.0 q0.2 2.3 0.9 4.5" stroke-width="0.9"/><path d="M195.8 201.2 q0.7 3.4 -0.3 6.9" stroke-width="1.3"/><path d="M199.7 180.1 q0.4 2.8 0.1 5.6" stroke-width="1.3"/><path d="M198.2 163.1 q0.4 4.1 -0.0 8.2" stroke-width="0.8"/><path d="M198.4 208.2 q-0.7 3.8 0.0 7.7" stroke-width="1.5"/><path d="M189.0 221.1 q-0.8 3.2 -0.9 6.3" stroke-width="1.1"/><path d="M197.4 189.0 q-0.2 4.0 -0.1 7.9" stroke-width="1.6"/><path d="M202.6 225.8 q0.8 4.8 0.6 9.6" stroke-width="1.7"/><path d="M192.0 189.7 q-0.1 4.8 -1.0 9.6" stroke-width="0.9"/><path d="M198.8 258.3 q-0.3 3.2 0.1 6.3" stroke-width="1.6"/><path d="M205.0 229.2 q-0.0 2.4 0.5 4.8" stroke-width="1.1"/><path d="M192.2 231.4 q-0.7 3.4 -0.6 6.7" stroke-width="0.9"/><path d="M191.5 196.1 q-0.4 4.9 -1.1 9.8" stroke-width="1.0"/><path d="M203.4 265.8 q0.2 2.8 0.4 5.6" stroke-width="1.5"/><path d="M200.9 203.4 q0.6 2.7 0.2 5.5" stroke-width="1.0"/><path d="M206.2 211.3 q-0.7 2.5 0.6 5.1" stroke-width="0.9"/><path d="M199.5 258.9 q0.5 2.0 0.1 4.1" stroke-width="0.8"/><path d="M205.8 220.1 q-0.6 2.1 0.5 4.2" stroke-width="1.3"/><path d="M200.5 255.9 q0.7 3.8 0.3 7.7" stroke-width="1.0"/><path d="M190.6 159.5 q-0.7 4.1 -1.1 8.1" stroke-width="0.9"/><path d="M201.3 214.7 q-0.7 4.7 0.4 9.4" stroke-width="1.4"/><path d="M205.4 243.6 q-0.4 2.4 0.5 4.7" stroke-width="1.5"/><path d="M188.9 189.2 q0.6 4.3 -1.4 8.5" stroke-width="1.3"/><path d="M191.4 215.6 q0.7 2.6 -0.6 5.3" stroke-width="1.0"/><path d="M190.8 174.4 q-0.1 3.1 -0.8 6.1" stroke-width="0.9"/><path d="M201.4 240.2 q-0.0 2.5 0.2 5.0" stroke-width="0.9"/><path d="M197.1 250.6 q-0.6 3.7 -0.1 7.4" stroke-width="1.6"/><path d="M198.3 184.3 q0.1 3.6 -0.0 7.2" stroke-width="1.6"/><path d="M196.5 246.7 q-0.3 4.4 -0.2 8.7" stroke-width="1.6"/><path d="M194.2 159.0 q-0.4 3.1 -0.5 6.1" stroke-width="1.6"/><path d="M204.6 286.9 q0.4 4.4 1.4 8.8" stroke-width="0.8"/><path d="M193.2 291.1 q-0.2 2.3 -0.8 4.5" stroke-width="1.1"/><path d="M202.8 293.3 q0.1 2.1 0.4 4.2" stroke-width="1.3"/><path d="M203.9 279.5 q0.3 3.8 1.1 7.6" stroke-width="0.9"/><path d="M193.9 280.3 q-0.3 2.2 -0.8 4.5" stroke-width="0.7"/><path d="M196.1 289.5 q-0.2 4.2 -0.8 8.3" stroke-width="0.7"/><path d="M189.6 277.0 q-0.9 4.4 -3.1 8.7" stroke-width="1.2"/><path d="M199.8 294.9 q0.0 2.3 0.0 4.5" stroke-width="0.9"/><path d="M185.5 274.8 q-1.1 3.4 -3.6 6.8" stroke-width="0.9"/><path d="M199.8 271.2 q0.0 4.3 0.1 8.7" stroke-width="1.3"/><path d="M186.2 282.0 q-1.0 3.9 -3.4 7.8" stroke-width="0.8"/><path d="M185.1 284.1 q-1.2 4.5 -4.1 8.9" stroke-width="1.0"/><path d="M192.0 281.1 q-0.5 3.4 -1.7 6.8" stroke-width="1.3"/><path d="M190.0 280.8 q-0.6 3.3 -2.1 6.6" stroke-width="1.3"/><path d="M203.8 279.5 q0.4 4.3 1.3 8.6" stroke-width="0.9"/><path d="M200.6 292.3 q0.0 2.3 0.1 4.7" stroke-width="0.7"/><path d="M198.1 296.2 q-0.1 3.1 -0.2 6.2" stroke-width="1.3"/><path d="M199.5 285.2 q0.0 2.7 0.0 5.4" stroke-width="1.1"/><path d="M198.6 275.7 q-0.1 3.9 -0.3 7.8" stroke-width="1.1"/><path d="M191.1 272.0 q-0.7 3.7 -2.4 7.5" stroke-width="1.1"/><path d="M213.3 271.1 q0.8 2.3 2.6 4.7" stroke-width="0.8"/><path d="M198.0 270.7 q-0.1 3.5 -0.4 7.1" stroke-width="1.2"/><path d="M205.2 272.9 q0.3 2.3 1.0 4.5" stroke-width="1.0"/><path d="M195.2 275.6 q-0.2 2.1 -0.7 4.3" stroke-width="1.1"/><path d="M206.9 271.7 q0.5 2.8 1.7 5.7" stroke-width="1.1"/><path d="M199.1 287.2 q-0.0 4.2 -0.1 8.4" stroke-width="1.3"/><path d="M194.4 276.5 q-0.5 4.2 -1.5 8.4" stroke-width="0.8"/><path d="M196.7 280.6 q-0.3 4.4 -0.8 8.9" stroke-width="0.8"/><path d="M208.9 287.7 q0.6 3.8 2.2 7.6" stroke-width="0.7"/><path d="M191.8 296.3 q-0.5 4.1 -1.7 8.3" stroke-width="1.1"/><path d="M210.6 280.6 q0.8 3.7 2.7 7.4" stroke-width="0.9"/><path d="M199.7 290.0 q0.0 3.8 0.0 7.6" stroke-width="1.1"/><path d="M186.3 291.9 q-0.7 3.2 -2.4 6.5" stroke-width="0.7"/><path d="M210.0 291.7 q0.7 4.1 2.4 8.2" stroke-width="0.7"/><path d="M198.8 284.1 q-0.0 2.3 -0.1 4.6" stroke-width="0.8"/><path d="M214.2 297.2 q0.6 2.6 2.0 5.2" stroke-width="1.2"/><path d="M195.3 287.5 q-0.3 3.6 -0.9 7.2" stroke-width="0.8"/><path d="M184.6 276.2 q-1.2 3.6 -3.9 7.3" stroke-width="1.0"/><path d="M199.6 290.3 q0.0 3.1 0.0 6.2" stroke-width="0.9"/><path d="M194.7 290.1 q-0.3 3.5 -1.0 7.0" stroke-width="1.2"/><path d="M205.7 281.3 q0.3 2.2 0.9 4.3" stroke-width="0.9"/><path d="M185.6 293.2 q-0.5 2.1 -1.7 4.3" stroke-width="0.7"/><path d="M184.4 291.0 q-0.8 3.1 -2.7 6.3" stroke-width="1.0"/><path d="M198.6 292.1 q-0.1 3.3 -0.2 6.6" stroke-width="0.7"/><path d="M209.9 291.9 q0.6 3.6 2.1 7.1" stroke-width="1.2"/></g>
<path d="M187.6 164.1 L186.3 165.4 L184.5 167.2 L182.4 169.3 L180.1 171.5 L177.7 173.7 L175.5 175.7 L173.3 177.5 L171.3 179.3 L169.2 181.0 L166.9 182.6 L164.5 184.3 L161.9 186.0 L158.8 187.8 L155.4 189.6 L151.8 191.4 L148.2 193.2 L144.6 194.8 L141.3 196.4 L138.1 197.8 L134.9 199.3 L131.8 200.6 L128.9 201.8 L126.4 202.7 L124.4 203.2 L123.3 203.3 L123.0 203.1 L122.8 202.6 L122.4 201.7 L121.2 200.9 L119.5 200.7 L116.8 201.1 L113.3 201.9 L109.4 202.9 L105.6 203.8 L102.4 204.7 L100.1 205.3 L100.5 206.5 L102.7 206.0 L106.0 205.2 L109.8 204.2 L113.6 203.3 L117.0 202.6 L119.5 202.3 L120.8 202.4 L121.2 202.7 L121.4 203.2 L121.9 204.1 L123.0 204.8 L124.6 204.8 L126.9 204.2 L129.5 203.3 L132.4 202.2 L135.6 200.9 L138.9 199.5 L142.1 198.0 L145.4 196.5 L149.0 194.9 L152.7 193.1 L156.3 191.4 L159.8 189.6 L162.9 187.8 L165.7 186.1 L168.2 184.4 L170.5 182.7 L172.7 181.0 L174.8 179.3 L176.9 177.5 L179.3 175.5 L181.7 173.3 L184.1 171.0 L186.2 168.9 L188.0 167.2 L189.4 165.9Z" fill="#6c6c6c"/>
<path d="M186.0 181.4 L185.6 182.3 L185.1 183.6 L184.5 185.2 L183.8 186.7 L183.2 188.2 L182.7 189.4 L182.3 190.3 L182.0 191.0 L181.8 191.5 L181.6 191.8 L181.3 192.2 L180.7 192.6 L179.8 193.1 L178.6 193.6 L177.2 194.1 L175.6 194.7 L173.9 195.4 L172.3 196.2 L170.6 197.2 L168.8 198.3 L167.0 199.5 L165.3 200.8 L163.5 202.1 L161.9 203.3 L160.3 204.6 L158.6 206.0 L157.0 207.4 L155.5 208.7 L154.3 209.8 L153.4 210.5 L154.2 211.5 L155.1 210.7 L156.4 209.7 L157.9 208.5 L159.6 207.2 L161.3 205.9 L162.9 204.7 L164.6 203.5 L166.3 202.4 L168.2 201.2 L170.0 200.1 L171.7 199.1 L173.3 198.2 L174.9 197.5 L176.4 197.0 L178.0 196.5 L179.5 196.1 L180.9 195.6 L182.1 195.0 L183.1 194.3 L183.8 193.6 L184.2 192.9 L184.6 192.2 L184.9 191.5 L185.3 190.6 L185.9 189.4 L186.6 188.0 L187.3 186.4 L188.0 184.8 L188.6 183.6 L189.0 182.6Z" fill="#6c6c6c"/>
<path d="M180.9 192.8 L180.7 193.7 L180.5 194.9 L180.3 196.4 L180.1 197.9 L179.8 199.4 L179.5 200.8 L179.2 202.0 L179.1 203.1 L178.9 204.0 L178.6 204.9 L178.2 205.8 L177.3 206.9 L175.9 208.2 L174.1 209.7 L172.0 211.2 L169.8 212.7 L167.6 214.1 L165.5 215.3 L163.5 216.2 L161.5 217.1 L159.4 217.8 L157.4 218.4 L155.5 218.9 L153.7 219.3 L152.0 219.5 L150.3 219.6 L148.7 219.5 L147.2 219.3 L146.0 219.2 L145.1 219.1 L144.9 220.3 L145.9 220.4 L147.1 220.6 L148.6 220.7 L150.3 220.9 L152.1 220.9 L153.9 220.7 L155.8 220.3 L157.8 219.9 L159.9 219.3 L162.0 218.6 L164.2 217.7 L166.3 216.7 L168.5 215.6 L170.8 214.2 L173.1 212.7 L175.2 211.2 L177.2 209.7 L178.7 208.3 L179.8 207.0 L180.5 205.7 L180.9 204.5 L181.1 203.4 L181.3 202.3 L181.5 201.2 L181.9 199.9 L182.2 198.3 L182.5 196.8 L182.8 195.3 L183.0 194.1 L183.1 193.2Z" fill="#6c6c6c"/>
<path d="M155.3 219.2 L155.2 219.7 L155.0 220.2 L154.8 220.9 L154.5 221.6 L154.3 222.2 L154.0 222.6 L153.7 222.9 L153.4 223.2 L152.9 223.5 L152.5 223.7 L152.1 223.9 L151.8 224.1 L152.2 224.9 L152.5 224.8 L152.9 224.7 L153.4 224.5 L153.9 224.2 L154.5 223.8 L155.0 223.4 L155.4 222.8 L155.7 222.1 L156.0 221.4 L156.3 220.7 L156.5 220.2 L156.7 219.8Z" fill="#6c6c6c"/>
<path d="M208.1 151.3 L208.8 152.3 L209.7 153.7 L210.8 155.4 L212.0 157.2 L213.1 158.9 L214.2 160.5 L215.2 162.0 L216.2 163.5 L217.2 165.0 L218.2 166.4 L219.3 167.6 L220.5 168.7 L221.7 169.4 L223.0 170.0 L224.3 170.3 L225.5 170.5 L226.7 170.6 L227.9 170.7 L229.1 170.9 L230.3 171.0 L231.5 171.0 L232.7 170.9 L233.9 170.7 L235.1 170.3 L236.2 169.6 L237.3 168.6 L238.3 167.5 L239.2 166.4 L239.9 165.5 L240.5 164.9 L239.5 164.1 L239.0 164.7 L238.2 165.6 L237.3 166.7 L236.4 167.7 L235.4 168.5 L234.5 169.1 L233.6 169.4 L232.6 169.6 L231.5 169.6 L230.4 169.5 L229.2 169.4 L228.1 169.3 L226.9 169.1 L225.8 169.0 L224.6 168.7 L223.5 168.4 L222.5 168.0 L221.5 167.3 L220.6 166.4 L219.6 165.3 L218.7 164.0 L217.7 162.5 L216.8 161.0 L215.8 159.5 L214.7 157.9 L213.6 156.1 L212.5 154.3 L211.4 152.6 L210.5 151.2 L209.9 150.1Z" fill="#6c6c6c"/>
<path d="M208.6 169.0 L210.7 169.8 L213.6 170.9 L217.1 172.2 L220.8 173.5 L224.4 174.7 L227.7 175.7 L230.8 176.4 L233.7 176.8 L236.5 177.1 L239.2 177.5 L241.9 178.1 L244.6 179.1 L247.6 180.6 L250.7 182.7 L253.8 185.1 L256.9 187.4 L259.7 189.5 L262.1 190.9 L264.0 191.7 L265.6 192.0 L266.9 191.9 L267.9 191.7 L268.8 191.6 L269.9 191.6 L271.2 192.0 L272.7 192.5 L274.3 193.0 L275.7 193.6 L276.9 194.0 L277.8 194.4 L278.2 193.2 L277.3 192.9 L276.1 192.4 L274.7 191.9 L273.1 191.3 L271.6 190.8 L270.1 190.4 L268.8 190.2 L267.7 190.4 L266.7 190.6 L265.7 190.6 L264.4 190.4 L262.7 189.7 L260.5 188.3 L257.8 186.2 L254.8 183.9 L251.6 181.4 L248.4 179.2 L245.4 177.5 L242.4 176.4 L239.5 175.8 L236.7 175.3 L233.9 175.0 L231.1 174.5 L228.3 173.9 L225.0 172.8 L221.5 171.6 L217.8 170.2 L214.4 168.9 L211.5 167.8 L209.4 167.0Z" fill="#6c6c6c"/>
<path d="M210.3 175.8 L211.5 176.3 L213.2 177.0 L215.2 177.8 L217.2 178.7 L219.0 179.7 L220.4 180.7 L221.3 181.7 L222.1 182.9 L222.7 184.2 L223.2 185.6 L223.7 187.0 L224.3 188.3 L224.8 189.6 L225.3 190.8 L225.8 192.0 L226.3 193.2 L226.8 194.5 L227.3 195.8 L227.9 197.2 L228.6 198.8 L229.3 200.5 L229.9 202.0 L230.5 203.3 L230.8 204.2 L232.0 203.8 L231.6 202.8 L231.1 201.5 L230.5 200.0 L229.9 198.3 L229.2 196.7 L228.7 195.2 L228.2 193.9 L227.7 192.7 L227.2 191.4 L226.8 190.2 L226.3 189.0 L225.7 187.7 L225.2 186.4 L224.8 185.0 L224.3 183.5 L223.6 182.1 L222.8 180.6 L221.6 179.3 L220.0 178.1 L218.1 177.0 L216.0 176.0 L214.0 175.1 L212.3 174.4 L211.1 173.8Z" fill="#6c6c6c"/>
<path d="M227.2 175.4 L228.0 176.4 L229.1 177.7 L230.4 179.3 L231.7 181.1 L233.1 182.8 L234.3 184.5 L235.4 186.1 L236.5 187.8 L237.6 189.6 L238.7 191.3 L239.9 192.9 L241.2 194.3 L242.5 195.5 L243.9 196.4 L245.4 197.2 L246.8 197.9 L248.2 198.7 L249.6 199.6 L251.2 200.7 L252.9 202.0 L254.6 203.3 L256.3 204.5 L257.6 205.6 L258.6 206.4 L259.4 205.4 L258.4 204.6 L257.0 203.6 L255.4 202.3 L253.7 200.9 L252.0 199.6 L250.4 198.4 L248.9 197.5 L247.5 196.7 L246.0 195.9 L244.7 195.2 L243.4 194.3 L242.2 193.3 L241.1 191.9 L240.0 190.4 L239.0 188.7 L237.9 187.0 L236.8 185.2 L235.7 183.5 L234.5 181.8 L233.1 180.0 L231.8 178.2 L230.6 176.6 L229.5 175.2 L228.8 174.2Z" fill="#6c6c6c"/>
<path d="M208.8 203.2 L210.0 203.3 L211.6 203.4 L213.5 203.5 L215.5 203.7 L217.3 204.1 L218.7 204.6 L220.0 205.4 L221.4 206.6 L222.7 208.0 L223.9 209.4 L224.9 210.6 L225.7 211.4 L226.7 210.6 L226.1 209.7 L225.2 208.3 L224.1 206.8 L222.9 205.2 L221.5 203.7 L219.9 202.4 L218.1 201.6 L216.0 201.0 L213.9 200.5 L212.0 200.2 L210.3 200.0 L209.2 199.8Z" fill="#6c6c6c"/>
<path d="M204.8 151.7 L207.0 152.2 L210.0 152.8 L213.5 153.6 L217.4 154.4 L221.3 155.2 L224.9 155.9 L228.4 156.4 L232.1 156.7 L235.7 157.1 L239.2 157.4 L242.3 157.8 L244.8 158.4 L246.6 159.0 L247.8 159.8 L248.8 160.7 L249.6 161.6 L250.5 162.6 L251.5 163.6 L252.7 164.5 L253.8 165.4 L254.9 166.3 L256.1 167.2 L257.4 168.0 L258.7 168.6 L260.2 169.2 L261.8 169.5 L263.3 169.8 L264.9 170.0 L266.4 170.3 L267.8 170.6 L269.3 171.1 L270.8 171.6 L272.3 172.2 L273.7 172.8 L274.9 173.2 L275.8 173.6 L276.2 172.4 L275.4 172.1 L274.2 171.6 L272.8 171.0 L271.3 170.4 L269.7 169.9 L268.2 169.4 L266.7 169.0 L265.1 168.7 L263.5 168.5 L262.0 168.2 L260.6 167.8 L259.3 167.4 L258.1 166.7 L256.9 166.0 L255.8 165.1 L254.7 164.2 L253.6 163.3 L252.5 162.4 L251.5 161.6 L250.7 160.6 L249.9 159.6 L248.8 158.6 L247.3 157.6 L245.2 156.8 L242.6 156.2 L239.4 155.8 L235.9 155.4 L232.2 155.0 L228.6 154.6 L225.1 154.1 L221.6 153.4 L217.8 152.6 L214.0 151.8 L210.4 150.9 L207.4 150.2 L205.2 149.7Z" fill="#6c6c6c"/>
<path d="M209.1 187.8 L209.5 187.9 L210.1 188.2 L210.8 188.5 L211.4 188.8 L212.1 189.2 L212.6 189.5 L213.0 189.9 L213.4 190.4 L213.7 190.9 L214.1 191.5 L214.3 191.9 L214.6 192.3 L215.4 191.7 L215.3 191.4 L215.0 190.9 L214.7 190.3 L214.4 189.7 L213.9 189.1 L213.4 188.5 L212.9 188.0 L212.2 187.6 L211.5 187.1 L210.8 186.8 L210.3 186.5 L209.9 186.2Z" fill="#6c6c6c"/>
</g>
<path d="M14.3 281.3 C16.9 281.0 25.2 279.7 29.7 279.3 C34.2 278.9 36.6 278.5 41.5 278.7 C46.4 278.9 54.7 280.3 59.3 280.3 C63.9 280.3 66.1 278.6 69.1 278.7 C72.0 278.8 72.4 280.2 77.0 280.7 C81.6 281.2 92.1 282.0 96.7 281.9 C101.3 281.8 100.7 280.0 104.6 279.9 C108.5 279.8 115.3 280.8 120.3 281.0 C125.3 281.2 129.9 281.2 134.8 281.0 C139.7 280.8 144.7 279.8 149.6 279.6 C154.5 279.4 159.1 279.8 164.3 279.6 C169.5 279.4 178.2 278.8 181.0 278.6" fill="none" stroke="#808080" stroke-width="1.5" stroke-linecap="round"/>
<path d="M215.5 279.6 C216.3 279.7 216.7 280.2 220.5 280.2 C224.3 280.2 232.8 279.5 238.2 279.6 C243.6 279.7 248.1 281.0 253.0 281.0 C257.9 281.0 262.4 279.8 267.8 279.6 C273.2 279.4 280.9 279.4 285.5 279.6 C290.1 279.9 291.3 281.1 295.6 281.1 C299.9 281.2 306.0 280.2 311.2 279.9 C316.4 279.5 321.6 278.9 326.8 279.0 C332.0 279.1 336.7 280.4 342.4 280.5 C348.1 280.6 355.9 279.9 361.1 279.9 C366.3 279.9 368.4 280.9 373.6 280.5 C378.8 280.1 386.1 277.9 392.3 277.6 C398.5 277.4 405.3 278.4 411.0 279.0 C416.7 279.6 421.4 280.9 426.6 281.1 C431.8 281.4 437.5 280.5 442.2 280.5 C446.9 280.5 450.8 281.3 454.7 281.1 C458.6 280.9 463.8 279.5 465.6 279.2" fill="none" stroke="#808080" stroke-width="1.5" stroke-linecap="round"/>
<g id="labels" opacity="0.999">
<text x="17.2" y="30.2" font-size="21.75" xml:space="preserve">Coupe schématique simplifiée du massif</text>
<text x="503.0" y="178.8" font-size="15.70" xml:space="preserve">Végétation</text>
<text x="479.6" y="376.2" font-size="15.70" xml:space="preserve">   Roches</text>
<text x="479.6" y="392.9" font-size="15.70" xml:space="preserve">sédimentaires</text>
<text x="486.4" y="586.7" font-size="15.70" xml:space="preserve">  Roches</text>
<text x="486.4" y="602.9" font-size="15.70" xml:space="preserve">Magmatiques</text>
<text x="486.4" y="619.6" font-size="15.70" xml:space="preserve">plutoniques</text>
<line x1="548.6" y1="82.0" x2="548.6" y2="160.6" stroke="#222" stroke-width="1.5"/>
<line x1="548.6" y1="189.0" x2="548.6" y2="272.0" stroke="#222" stroke-width="1.5"/>
<path d="M548.6 74.0 L544.7 86.0 L548.6 83.3 L552.5 86.0 Z" fill="#111"/>
<path d="M548.6 280.8 L544.7 268.8 L548.6 271.5 L552.5 268.8 Z" fill="#111"/>
<line x1="548.6" y1="290.0" x2="548.6" y2="356.8" stroke="#222" stroke-width="1.5"/>
<line x1="548.6" y1="400.7" x2="548.6" y2="467.0" stroke="#222" stroke-width="1.5"/>
<path d="M548.6 281.6 L544.7 293.6 L548.6 290.9 L552.5 293.6 Z" fill="#111"/>
<path d="M548.6 475.3 L544.7 463.3 L548.6 466.0 L552.5 463.3 Z" fill="#111"/>
<line x1="548.6" y1="484.0" x2="548.6" y2="569.6" stroke="#222" stroke-width="1.5"/>
<line x1="548.6" y1="629.6" x2="548.6" y2="710.0" stroke="#222" stroke-width="1.5"/>
<path d="M548.6 476.1 L544.7 488.1 L548.6 485.4 L552.5 488.1 Z" fill="#111"/>
<path d="M548.6 718.2 L544.7 706.2 L548.6 708.9 L552.5 706.2 Z" fill="#111"/>
<line x1="476.2" y1="281.1" x2="562.2" y2="281.1" stroke="#222" stroke-width="1.4" stroke-dasharray="3.9 2.3"/>
<line x1="556.8" y1="281.1" x2="562" y2="281.1" stroke="#222" stroke-width="1.4"/>
<line x1="476.2" y1="475.6" x2="562.2" y2="475.6" stroke="#222" stroke-width="1.4" stroke-dasharray="3.9 2.3"/>
<line x1="556.8" y1="475.6" x2="562" y2="475.6" stroke="#222" stroke-width="1.4"/>
</g>
</svg>
</body></html>
